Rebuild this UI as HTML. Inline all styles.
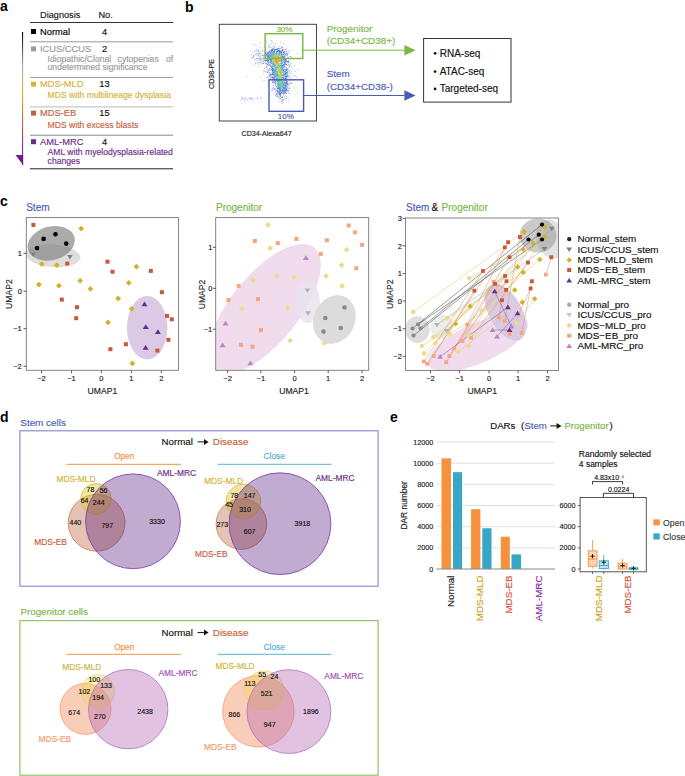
<!DOCTYPE html>
<html><head><meta charset="utf-8"><style>
html,body{margin:0;padding:0;background:#fff;}
svg{display:block;font-family:"Liberation Sans", sans-serif;}
</style></head><body>
<svg width="685" height="776" viewBox="0 0 685 776">
<rect width="685" height="776" fill="#fff"/>
<text x="0.00" y="10.60" font-size="14" fill="#000" text-anchor="start" font-weight="bold" >a</text><text x="40.00" y="18.40" font-size="9.2" fill="#1a1a1a" stroke="#1a1a1a" stroke-width="0.15" text-anchor="start" >Diagnosis</text><text x="98.40" y="18.40" font-size="9.2" fill="#1a1a1a" stroke="#1a1a1a" stroke-width="0.15" text-anchor="start" >No.</text><line x1="30.00" y1="22.50" x2="173.10" y2="22.50" stroke="#333" stroke-width="1" /><line x1="30.00" y1="41.80" x2="173.10" y2="41.80" stroke="#999" stroke-width="1" /><line x1="30.00" y1="77.40" x2="173.10" y2="77.40" stroke="#999" stroke-width="1" /><line x1="30.00" y1="106.90" x2="173.10" y2="106.90" stroke="#bbb" stroke-width="1" /><line x1="30.00" y1="135.20" x2="173.10" y2="135.20" stroke="#888" stroke-width="1" /><line x1="30.00" y1="168.80" x2="173.10" y2="168.80" stroke="#222" stroke-width="1" /><rect x="31.00" y="29.00" width="5.00" height="5.00" fill="#000" stroke="none" stroke-width="1" /><text x="40.00" y="34.60" font-size="9.3" fill="#000" stroke="#000" stroke-width="0.15" text-anchor="start" >Normal</text><text x="104.50" y="34.60" font-size="9.3" fill="#111" stroke="#111" stroke-width="0.15" text-anchor="middle" >4</text><rect x="31.00" y="46.40" width="5.00" height="5.00" fill="#9a9a9a" stroke="none" stroke-width="1" /><text x="40.00" y="52.00" font-size="9.3" fill="#9a9a9a" stroke="#9a9a9a" stroke-width="0.15" text-anchor="start" >ICUS/CCUS</text><text x="104.50" y="52.00" font-size="9.3" fill="#111" stroke="#111" stroke-width="0.15" text-anchor="middle" >2</text><rect x="31.00" y="81.70" width="5.00" height="5.00" fill="#d0b53a" stroke="none" stroke-width="1" /><text x="40.00" y="87.30" font-size="9.3" fill="#d0b53a" stroke="#d0b53a" stroke-width="0.15" text-anchor="start" >MDS-MLD</text><text x="104.50" y="87.30" font-size="9.3" fill="#111" stroke="#111" stroke-width="0.15" text-anchor="middle" >13</text><text x="47.60" y="98.10" font-size="8.6" fill="#d0b53a" stroke="#d0b53a" stroke-width="0.15" text-anchor="start" >MDS with multilineage dysplasia</text><rect x="31.00" y="110.60" width="5.00" height="5.00" fill="#c8603e" stroke="none" stroke-width="1" /><text x="40.00" y="116.20" font-size="9.3" fill="#c8603e" stroke="#c8603e" stroke-width="0.15" text-anchor="start" >MDS-EB</text><text x="104.50" y="116.20" font-size="9.3" fill="#111" stroke="#111" stroke-width="0.15" text-anchor="middle" >15</text><text x="47.60" y="127.90" font-size="8.6" fill="#c8603e" stroke="#c8603e" stroke-width="0.15" text-anchor="start" >MDS with excess blasts</text><rect x="31.00" y="139.20" width="5.00" height="5.00" fill="#6c2c8c" stroke="none" stroke-width="1" /><text x="40.00" y="144.80" font-size="9.3" fill="#6c2c8c" stroke="#6c2c8c" stroke-width="0.15" text-anchor="start" >AML-MRC</text><text x="104.50" y="144.80" font-size="9.3" fill="#111" stroke="#111" stroke-width="0.15" text-anchor="middle" >4</text><text x="47.60" y="155.30" font-size="8.6" fill="#6c2c8c" stroke="#6c2c8c" stroke-width="0.15" text-anchor="start" >AML with myelodysplasia-related</text><text x="47.60" y="163.50" font-size="8.6" fill="#6c2c8c" stroke="#6c2c8c" stroke-width="0.15" text-anchor="start" >changes</text><text x="47.60" y="62.20" font-size="8.6" fill="#9a9a9a" stroke="#9a9a9a" stroke-width="0.15" text-anchor="start" >Idiopathic/Clonal</text><text x="117.60" y="62.20" font-size="8.6" fill="#9a9a9a" stroke="#9a9a9a" stroke-width="0.15" text-anchor="start" >cytopenias</text><text x="173.10" y="62.20" font-size="8.6" fill="#9a9a9a" stroke="#9a9a9a" stroke-width="0.15" text-anchor="end" >of</text><text x="47.60" y="70.40" font-size="8.6" fill="#9a9a9a" stroke="#9a9a9a" stroke-width="0.15" text-anchor="start" >undetermined significance</text><defs><linearGradient id="ga" x1="0" y1="32" x2="0" y2="165" gradientUnits="userSpaceOnUse"><stop offset="0" stop-color="#000"/><stop offset="0.25" stop-color="#aaa"/><stop offset="0.45" stop-color="#d8b030"/><stop offset="0.65" stop-color="#d07040"/><stop offset="0.9" stop-color="#7a2a90"/><stop offset="1" stop-color="#6c1f8a"/></linearGradient></defs><rect x="22.00" y="32.00" width="1.10" height="133.00" fill="url(#ga)" stroke="none" stroke-width="1" /><path d="M15.5 155.1L23.1 155.1L23.1 164.9Z" fill="#6c1f8a" stroke="none" stroke-width="1" /><text x="185.00" y="12.40" font-size="14" fill="#000" text-anchor="start" font-weight="bold" >b</text><g opacity="0.9"><rect x="246.4" y="75.9" width=".7" height=".7" fill="#5a6ed2"/><rect x="297.2" y="53.2" width=".7" height=".7" fill="#5a6ed2"/><rect x="296.9" y="92.0" width=".7" height=".7" fill="#5a6ed2"/><rect x="299.7" y="78.8" width=".7" height=".7" fill="#5269ce"/><rect x="260.4" y="76.7" width=".7" height=".7" fill="#5a6ed2"/><rect x="259.5" y="42.4" width=".7" height=".7" fill="#5a6ed2"/><rect x="297.8" y="69.0" width=".7" height=".7" fill="#5168ce"/><rect x="294.2" y="87.6" width=".7" height=".7" fill="#4e67cd"/><rect x="252.1" y="43.7" width=".7" height=".7" fill="#5a6ed2"/><rect x="280.3" y="41.4" width=".7" height=".7" fill="#5a6ed2"/><rect x="295.2" y="70.8" width=".7" height=".7" fill="#5a6ed2"/><rect x="263.6" y="80.2" width=".7" height=".7" fill="#5a6ed2"/><rect x="294.5" y="65.1" width=".7" height=".7" fill="#5a6ed2"/><rect x="264.8" y="39.8" width=".7" height=".7" fill="#4e66cd"/><rect x="261.3" y="98.6" width=".7" height=".7" fill="#4964cb"/><rect x="296.0" y="77.3" width=".7" height=".7" fill="#5269cf"/><rect x="254.4" y="44.1" width=".7" height=".7" fill="#5a6ed2"/><rect x="255.8" y="44.8" width=".7" height=".7" fill="#556bd0"/><rect x="295.3" y="75.1" width=".7" height=".7" fill="#5a6ed2"/><rect x="260.2" y="98.1" width=".7" height=".7" fill="#5a6ed2"/><rect x="282.8" y="43.2" width=".7" height=".7" fill="#5a6ed2"/><rect x="256.9" y="97.2" width=".7" height=".7" fill="#596dd1"/><rect x="257.3" y="98.2" width=".7" height=".7" fill="#4d66cc"/><rect x="266.3" y="41.0" width=".7" height=".7" fill="#4662ca"/><rect x="275.3" y="43.0" width=".7" height=".7" fill="#576cd1"/><rect x="271.5" y="40.0" width=".7" height=".7" fill="#556bd0"/><rect x="258.1" y="66.5" width=".7" height=".7" fill="#5a6ed2"/><rect x="287.9" y="100.3" width=".7" height=".7" fill="#5a6ed2"/><rect x="254.3" y="64.6" width=".7" height=".7" fill="#4b65cc"/><rect x="267.7" y="83.7" width=".7" height=".7" fill="#4f67cd"/><rect x="270.7" y="40.6" width=".7" height=".7" fill="#5169ce"/><rect x="268.7" y="85.8" width=".7" height=".7" fill="#556bd0"/><rect x="259.8" y="47.5" width=".7" height=".7" fill="#4a64cb"/><rect x="263.4" y="73.4" width=".7" height=".7" fill="#5a6ed2"/><rect x="265.4" y="43.8" width=".7" height=".7" fill="#5a6ed2"/><rect x="252.3" y="99.9" width=".7" height=".7" fill="#405ec7"/><rect x="271.6" y="42.2" width=".7" height=".7" fill="#5a6ed2"/><rect x="253.2" y="98.6" width=".7" height=".7" fill="#546acf"/><rect x="269.2" y="84.9" width=".7" height=".7" fill="#5a6ed2"/><rect x="292.7" y="75.7" width=".7" height=".7" fill="#4b65cc"/><rect x="241.1" y="99.1" width=".7" height=".7" fill="#5a6ed2"/><rect x="290.2" y="93.2" width=".7" height=".7" fill="#5a6ed2"/><rect x="263.0" y="70.6" width=".7" height=".7" fill="#5a6ed2"/><rect x="282.3" y="103.0" width=".7" height=".7" fill="#5168ce"/><rect x="267.6" y="80.5" width=".7" height=".7" fill="#5a6ed2"/><rect x="279.0" y="101.6" width=".7" height=".7" fill="#5a6ed2"/><rect x="289.6" y="50.5" width=".7" height=".7" fill="#596dd1"/><rect x="254.9" y="62.9" width=".7" height=".7" fill="#5a6ed2"/><rect x="250.9" y="57.2" width=".7" height=".7" fill="#5369cf"/><rect x="265.8" y="77.6" width=".7" height=".7" fill="#5a6ed2"/><rect x="292.5" y="79.9" width=".7" height=".7" fill="#5a6ed2"/><rect x="244.5" y="100.1" width=".7" height=".7" fill="#556bd0"/><rect x="251.3" y="54.4" width=".7" height=".7" fill="#546acf"/><rect x="252.7" y="52.4" width=".7" height=".7" fill="#4e67cd"/><rect x="247.0" y="99.4" width=".7" height=".7" fill="#576cd0"/><rect x="251.8" y="97.9" width=".7" height=".7" fill="#5a6ed2"/><rect x="291.2" y="56.7" width=".7" height=".7" fill="#576cd1"/><rect x="248.8" y="99.2" width=".7" height=".7" fill="#576cd0"/><rect x="241.9" y="97.9" width=".7" height=".7" fill="#586cd1"/><rect x="291.7" y="66.9" width=".7" height=".7" fill="#5269cf"/><rect x="287.6" y="97.5" width=".7" height=".7" fill="#596dd1"/><rect x="268.2" y="43.8" width=".7" height=".7" fill="#4d66cc"/><rect x="242.2" y="97.7" width=".7" height=".7" fill="#596dd1"/><rect x="249.0" y="97.4" width=".7" height=".7" fill="#4a64cb"/><rect x="271.3" y="90.6" width=".7" height=".7" fill="#5a6ed2"/><rect x="251.3" y="98.0" width=".7" height=".7" fill="#5a6ed2"/><rect x="245.6" y="97.6" width=".7" height=".7" fill="#5a6ed2"/><rect x="249.9" y="97.6" width=".7" height=".7" fill="#3d5dc6"/><rect x="242.5" y="97.9" width=".7" height=".7" fill="#596dd1"/><rect x="244.1" y="99.5" width=".7" height=".7" fill="#576cd1"/><rect x="270.6" y="43.8" width=".7" height=".7" fill="#546acf"/><rect x="245.5" y="97.9" width=".7" height=".7" fill="#5a6ed2"/><rect x="265.3" y="46.5" width=".7" height=".7" fill="#546acf"/><rect x="263.9" y="71.2" width=".7" height=".7" fill="#556bd0"/><rect x="250.0" y="98.0" width=".7" height=".7" fill="#4460c9"/><rect x="254.6" y="50.4" width=".7" height=".7" fill="#4b65cc"/><rect x="243.6" y="97.8" width=".7" height=".7" fill="#536acf"/><rect x="262.0" y="49.6" width=".7" height=".7" fill="#5068ce"/><rect x="255.6" y="62.0" width=".7" height=".7" fill="#5068ce"/><rect x="264.3" y="68.1" width=".7" height=".7" fill="#5a6ed2"/><rect x="252.3" y="57.6" width=".7" height=".7" fill="#4c65cc"/><rect x="288.6" y="50.2" width=".7" height=".7" fill="#5a6ed2"/><rect x="256.1" y="49.5" width=".7" height=".7" fill="#4e67cd"/><rect x="257.3" y="63.5" width=".7" height=".7" fill="#546acf"/><rect x="254.5" y="51.2" width=".7" height=".7" fill="#4d66cd"/><rect x="265.3" y="47.5" width=".7" height=".7" fill="#4963cb"/><rect x="254.4" y="59.2" width=".7" height=".7" fill="#5068ce"/><rect x="265.6" y="47.4" width=".7" height=".7" fill="#596dd1"/><rect x="258.8" y="64.0" width=".7" height=".7" fill="#586cd1"/><rect x="256.6" y="49.7" width=".7" height=".7" fill="#5068ce"/><rect x="286.2" y="97.9" width=".7" height=".7" fill="#586dd1"/><rect x="252.8" y="57.1" width=".7" height=".7" fill="#586dd1"/><rect x="282.1" y="101.5" width=".7" height=".7" fill="#566bd0"/><rect x="271.7" y="89.3" width=".7" height=".7" fill="#586cd1"/><rect x="290.7" y="60.1" width=".7" height=".7" fill="#5068ce"/><rect x="253.0" y="55.2" width=".7" height=".7" fill="#586dd1"/><rect x="267.0" y="77.2" width=".7" height=".7" fill="#546acf"/><rect x="255.6" y="59.8" width=".7" height=".7" fill="#5a6ed2"/><rect x="253.0" y="56.2" width=".7" height=".7" fill="#5a6ed2"/><rect x="267.8" y="46.1" width=".7" height=".7" fill="#4d66cd"/><rect x="285.6" y="98.3" width=".7" height=".7" fill="#4c65cc"/><rect x="290.8" y="73.7" width=".7" height=".7" fill="#596dd1"/><rect x="253.4" y="55.2" width=".7" height=".7" fill="#4d66cd"/><rect x="268.8" y="45.6" width=".7" height=".7" fill="#5169ce"/><rect x="253.3" y="56.4" width=".7" height=".7" fill="#5a6ed2"/><rect x="289.9" y="56.2" width=".7" height=".7" fill="#4a64cb"/><rect x="262.7" y="50.4" width=".7" height=".7" fill="#5a6ed2"/><rect x="291.3" y="82.6" width=".7" height=".7" fill="#546acf"/><rect x="272.1" y="88.0" width=".7" height=".7" fill="#4d66cd"/><rect x="255.9" y="58.5" width=".7" height=".7" fill="#5a6ed2"/><rect x="255.9" y="58.3" width=".7" height=".7" fill="#4662ca"/><rect x="258.6" y="50.4" width=".7" height=".7" fill="#596dd1"/><rect x="291.1" y="83.2" width=".7" height=".7" fill="#4863cb"/><rect x="286.3" y="48.8" width=".7" height=".7" fill="#556bd0"/><rect x="269.1" y="45.9" width=".7" height=".7" fill="#4d66cd"/><rect x="289.7" y="56.2" width=".7" height=".7" fill="#546acf"/><rect x="255.0" y="54.0" width=".7" height=".7" fill="#3e5dc7"/><rect x="265.5" y="71.1" width=".7" height=".7" fill="#4f67cd"/><rect x="284.6" y="98.9" width=".7" height=".7" fill="#4a64cb"/><rect x="290.5" y="63.1" width=".7" height=".7" fill="#4d66cc"/><rect x="281.8" y="100.8" width=".7" height=".7" fill="#5168ce"/><rect x="281.1" y="100.7" width=".7" height=".7" fill="#556bd0"/><rect x="261.5" y="63.7" width=".7" height=".7" fill="#4f67cd"/><rect x="259.8" y="51.2" width=".7" height=".7" fill="#4a64cb"/><rect x="258.1" y="50.7" width=".7" height=".7" fill="#4b65cc"/><rect x="257.9" y="50.7" width=".7" height=".7" fill="#4e66cd"/><rect x="257.3" y="60.7" width=".7" height=".7" fill="#536acf"/><rect x="290.5" y="78.5" width=".7" height=".7" fill="#4c65cc"/><rect x="288.3" y="93.2" width=".7" height=".7" fill="#5a6ed2"/><rect x="286.0" y="96.1" width=".7" height=".7" fill="#5269cf"/><rect x="255.9" y="54.6" width=".7" height=".7" fill="#5a6ed2"/><rect x="274.9" y="95.1" width=".7" height=".7" fill="#586dd1"/><rect x="290.2" y="72.4" width=".7" height=".7" fill="#536acf"/><rect x="257.4" y="51.2" width=".7" height=".7" fill="#5a6ed2"/><rect x="288.4" y="52.5" width=".7" height=".7" fill="#5a6ed2"/><rect x="273.8" y="92.5" width=".7" height=".7" fill="#4964cb"/><rect x="259.3" y="62.5" width=".7" height=".7" fill="#4d66cd"/><rect x="272.7" y="89.7" width=".7" height=".7" fill="#4863ca"/><rect x="258.4" y="61.7" width=".7" height=".7" fill="#4762ca"/><rect x="290.4" y="84.8" width=".7" height=".7" fill="#4c65cc"/><rect x="256.4" y="53.0" width=".7" height=".7" fill="#4a64cb"/><rect x="290.7" y="83.1" width=".7" height=".7" fill="#4f67cd"/><rect x="273.0" y="45.7" width=".7" height=".7" fill="#4662ca"/><rect x="276.0" y="96.4" width=".7" height=".7" fill="#5a6ed2"/><rect x="290.0" y="64.1" width=".7" height=".7" fill="#5269cf"/><rect x="260.8" y="62.8" width=".7" height=".7" fill="#4863ca"/><rect x="282.6" y="99.9" width=".7" height=".7" fill="#4964cb"/><rect x="265.0" y="49.8" width=".7" height=".7" fill="#5068ce"/><rect x="279.3" y="46.1" width=".7" height=".7" fill="#546acf"/><rect x="257.1" y="52.9" width=".7" height=".7" fill="#4964cb"/><rect x="260.9" y="52.7" width=".7" height=".7" fill="#5269cf"/><rect x="257.7" y="55.5" width=".7" height=".7" fill="#5a6ed2"/><rect x="290.1" y="79.0" width=".7" height=".7" fill="#4662ca"/><rect x="289.4" y="66.8" width=".7" height=".7" fill="#546acf"/><rect x="266.3" y="69.2" width=".7" height=".7" fill="#4f67cd"/><rect x="259.8" y="62.1" width=".7" height=".7" fill="#5a6ed2"/><rect x="259.8" y="52.8" width=".7" height=".7" fill="#5a6ed2"/><rect x="266.8" y="72.3" width=".7" height=".7" fill="#4c66cc"/><rect x="258.0" y="55.1" width=".7" height=".7" fill="#425fc8"/><rect x="289.6" y="87.9" width=".7" height=".7" fill="#5a6ed2"/><rect x="257.7" y="53.3" width=".7" height=".7" fill="#546acf"/><rect x="289.4" y="66.4" width=".7" height=".7" fill="#4b65cc"/><rect x="280.6" y="46.4" width=".7" height=".7" fill="#4e67cd"/><rect x="258.1" y="58.8" width=".7" height=".7" fill="#4f67cd"/><rect x="258.1" y="54.3" width=".7" height=".7" fill="#5068ce"/><rect x="289.7" y="70.8" width=".7" height=".7" fill="#586dd1"/><rect x="277.5" y="97.5" width=".7" height=".7" fill="#4662ca"/><rect x="265.5" y="49.7" width=".7" height=".7" fill="#4762ca"/><rect x="259.6" y="53.2" width=".7" height=".7" fill="#4c66cc"/><rect x="268.1" y="76.9" width=".7" height=".7" fill="#5a6ed2"/><rect x="266.8" y="71.7" width=".7" height=".7" fill="#415fc8"/><rect x="283.0" y="99.1" width=".7" height=".7" fill="#5068ce"/><rect x="258.2" y="57.9" width=".7" height=".7" fill="#4b65cc"/><rect x="259.3" y="53.5" width=".7" height=".7" fill="#3e5dc7"/><rect x="267.0" y="72.1" width=".7" height=".7" fill="#4460c9"/><rect x="262.5" y="63.0" width=".7" height=".7" fill="#5068ce"/><rect x="259.8" y="61.5" width=".7" height=".7" fill="#4662ca"/><rect x="289.3" y="65.4" width=".7" height=".7" fill="#4a64cb"/><rect x="289.8" y="76.5" width=".7" height=".7" fill="#546acf"/><rect x="266.6" y="67.5" width=".7" height=".7" fill="#4e66cd"/><rect x="266.2" y="66.5" width=".7" height=".7" fill="#5a6ed2"/><rect x="281.6" y="99.5" width=".7" height=".7" fill="#5a6ed2"/><rect x="285.9" y="49.6" width=".7" height=".7" fill="#4d66cc"/><rect x="289.4" y="65.0" width=".7" height=".7" fill="#4260c8"/><rect x="273.2" y="87.1" width=".7" height=".7" fill="#576cd1"/><rect x="268.7" y="47.6" width=".7" height=".7" fill="#4461c9"/><rect x="279.7" y="98.8" width=".7" height=".7" fill="#4d66cd"/><rect x="263.2" y="63.2" width=".7" height=".7" fill="#3f5dc7"/><rect x="284.2" y="96.7" width=".7" height=".7" fill="#5169ce"/><rect x="259.4" y="56.4" width=".7" height=".7" fill="#3457c3"/><rect x="282.4" y="47.2" width=".7" height=".7" fill="#4a64cb"/><rect x="266.2" y="66.1" width=".7" height=".7" fill="#5068ce"/><rect x="281.6" y="46.9" width=".7" height=".7" fill="#4c65cc"/><rect x="259.1" y="58.3" width=".7" height=".7" fill="#5a6ed2"/><rect x="285.2" y="95.4" width=".7" height=".7" fill="#4b65cc"/><rect x="282.0" y="99.0" width=".7" height=".7" fill="#5168ce"/><rect x="260.5" y="55.2" width=".7" height=".7" fill="#4964cb"/><rect x="288.4" y="56.8" width=".7" height=".7" fill="#5168ce"/><rect x="262.8" y="62.6" width=".7" height=".7" fill="#5a6ed2"/><rect x="259.8" y="60.0" width=".7" height=".7" fill="#5a6ed2"/><rect x="259.6" y="58.0" width=".7" height=".7" fill="#536acf"/><rect x="287.7" y="53.8" width=".7" height=".7" fill="#596dd1"/><rect x="278.9" y="97.9" width=".7" height=".7" fill="#4662ca"/><rect x="267.1" y="67.9" width=".7" height=".7" fill="#576cd0"/><rect x="260.0" y="59.8" width=".7" height=".7" fill="#4964cb"/><rect x="260.2" y="57.3" width=".7" height=".7" fill="#4f67cd"/><rect x="267.6" y="70.8" width=".7" height=".7" fill="#405ec7"/><rect x="285.1" y="49.4" width=".7" height=".7" fill="#4c66cc"/><rect x="288.5" y="65.7" width=".7" height=".7" fill="#4b65cc"/><rect x="273.7" y="88.7" width=".7" height=".7" fill="#566bd0"/><rect x="288.9" y="70.2" width=".7" height=".7" fill="#4a64cb"/><rect x="288.7" y="89.9" width=".7" height=".7" fill="#4762ca"/><rect x="260.6" y="59.5" width=".7" height=".7" fill="#4e67cd"/><rect x="280.5" y="98.3" width=".7" height=".7" fill="#4762ca"/><rect x="262.0" y="61.2" width=".7" height=".7" fill="#566bd0"/><rect x="281.7" y="47.4" width=".7" height=".7" fill="#4f67cd"/><rect x="270.1" y="47.4" width=".7" height=".7" fill="#4964cb"/><rect x="267.7" y="70.4" width=".7" height=".7" fill="#4f67cd"/><rect x="260.7" y="58.6" width=".7" height=".7" fill="#425fc8"/><rect x="273.6" y="85.1" width=".7" height=".7" fill="#4762ca"/><rect x="270.6" y="79.5" width=".7" height=".7" fill="#5269ce"/><rect x="272.1" y="82.2" width=".7" height=".7" fill="#556bd0"/><rect x="289.3" y="80.5" width=".7" height=".7" fill="#4d66cc"/><rect x="273.9" y="88.6" width=".7" height=".7" fill="#5369cf"/><rect x="262.2" y="54.7" width=".7" height=".7" fill="#5068ce"/><rect x="288.4" y="68.6" width=".7" height=".7" fill="#566bd0"/><rect x="286.2" y="51.1" width=".7" height=".7" fill="#4561c9"/><rect x="261.1" y="58.8" width=".7" height=".7" fill="#4b65cc"/><rect x="288.8" y="88.4" width=".7" height=".7" fill="#4964cb"/><rect x="287.0" y="53.1" width=".7" height=".7" fill="#4561c9"/><rect x="289.2" y="80.2" width=".7" height=".7" fill="#5a6ed2"/><rect x="284.6" y="49.4" width=".7" height=".7" fill="#4c65cc"/><rect x="274.4" y="46.8" width=".7" height=".7" fill="#4e67cd"/><rect x="282.3" y="97.3" width=".7" height=".7" fill="#4662ca"/><rect x="289.4" y="83.0" width=".7" height=".7" fill="#4763ca"/><rect x="279.8" y="97.6" width=".7" height=".7" fill="#4762ca"/><rect x="282.1" y="97.3" width=".7" height=".7" fill="#405ec7"/><rect x="287.2" y="54.1" width=".7" height=".7" fill="#5a6ed2"/><rect x="262.2" y="55.3" width=".7" height=".7" fill="#556bd0"/><rect x="276.9" y="95.6" width=".7" height=".7" fill="#415fc8"/><rect x="274.1" y="46.9" width=".7" height=".7" fill="#3f5dc7"/><rect x="289.0" y="79.9" width=".7" height=".7" fill="#5269cf"/><rect x="281.8" y="97.4" width=".7" height=".7" fill="#415fc8"/><rect x="281.7" y="47.7" width=".7" height=".7" fill="#4460c9"/><rect x="270.0" y="78.2" width=".7" height=".7" fill="#576cd1"/><rect x="288.1" y="58.3" width=".7" height=".7" fill="#5068ce"/><rect x="268.8" y="75.4" width=".7" height=".7" fill="#4863cb"/><rect x="268.9" y="76.0" width=".7" height=".7" fill="#4c65cc"/><rect x="263.2" y="61.4" width=".7" height=".7" fill="#3b5bc5"/><rect x="286.5" y="52.2" width=".7" height=".7" fill="#4662ca"/><rect x="276.1" y="94.5" width=".7" height=".7" fill="#4360c8"/><rect x="287.7" y="57.2" width=".7" height=".7" fill="#5068ce"/><rect x="271.6" y="47.2" width=".7" height=".7" fill="#556bd0"/><rect x="268.6" y="74.2" width=".7" height=".7" fill="#5068ce"/><rect x="288.9" y="75.3" width=".7" height=".7" fill="#3e5dc7"/><rect x="261.9" y="57.9" width=".7" height=".7" fill="#3a5bc5"/><rect x="281.0" y="97.3" width=".7" height=".7" fill="#5269ce"/><rect x="277.3" y="95.7" width=".7" height=".7" fill="#4c65cc"/><rect x="286.4" y="93.1" width=".7" height=".7" fill="#5a6ed2"/><rect x="288.6" y="62.3" width=".7" height=".7" fill="#3f5ec7"/><rect x="268.3" y="70.1" width=".7" height=".7" fill="#556bd0"/><rect x="265.7" y="63.6" width=".7" height=".7" fill="#4260c8"/><rect x="278.1" y="96.3" width=".7" height=".7" fill="#3f5dc7"/><rect x="281.6" y="96.9" width=".7" height=".7" fill="#566bd0"/><rect x="262.9" y="54.9" width=".7" height=".7" fill="#5269ce"/><rect x="272.8" y="82.5" width=".7" height=".7" fill="#4460c9"/><rect x="283.3" y="95.4" width=".7" height=".7" fill="#3e5dc6"/><rect x="272.6" y="82.0" width=".7" height=".7" fill="#4e67cd"/><rect x="270.0" y="77.6" width=".7" height=".7" fill="#536acf"/><rect x="288.2" y="89.8" width=".7" height=".7" fill="#4762ca"/><rect x="287.8" y="91.0" width=".7" height=".7" fill="#3f5dc7"/><rect x="288.5" y="87.7" width=".7" height=".7" fill="#536acf"/><rect x="273.4" y="83.3" width=".7" height=".7" fill="#5068ce"/><rect x="272.2" y="81.3" width=".7" height=".7" fill="#3f5ec7"/><rect x="287.6" y="58.0" width=".7" height=".7" fill="#4863ca"/><rect x="288.2" y="59.8" width=".7" height=".7" fill="#5168ce"/><rect x="274.5" y="88.5" width=".7" height=".7" fill="#4964cb"/><rect x="288.6" y="86.5" width=".7" height=".7" fill="#4561c9"/><rect x="265.1" y="62.9" width=".7" height=".7" fill="#405ec7"/><rect x="288.6" y="76.8" width=".7" height=".7" fill="#4762ca"/><rect x="262.5" y="56.8" width=".7" height=".7" fill="#4964cb"/><rect x="287.4" y="65.4" width=".7" height=".7" fill="#586cd1"/><rect x="286.3" y="92.9" width=".7" height=".7" fill="#4461c9"/><rect x="268.6" y="69.6" width=".7" height=".7" fill="#4461c9"/><rect x="286.8" y="55.4" width=".7" height=".7" fill="#4762ca"/><rect x="274.6" y="88.9" width=".7" height=".7" fill="#4963cb"/><rect x="276.4" y="94.2" width=".7" height=".7" fill="#4863ca"/><rect x="287.9" y="63.9" width=".7" height=".7" fill="#405ec7"/><rect x="286.3" y="53.0" width=".7" height=".7" fill="#4c65cc"/><rect x="288.2" y="70.7" width=".7" height=".7" fill="#536acf"/><rect x="282.0" y="96.1" width=".7" height=".7" fill="#415fc8"/><rect x="285.4" y="51.2" width=".7" height=".7" fill="#4c65cc"/><rect x="265.5" y="63.1" width=".7" height=".7" fill="#4b65cc"/><rect x="264.0" y="53.4" width=".7" height=".7" fill="#4561c9"/><rect x="264.9" y="52.3" width=".7" height=".7" fill="#4b65cc"/><rect x="269.5" y="76.1" width=".7" height=".7" fill="#4964cb"/><rect x="275.1" y="90.6" width=".7" height=".7" fill="#5269ce"/><rect x="263.2" y="59.8" width=".7" height=".7" fill="#3d5cc6"/><rect x="276.2" y="93.6" width=".7" height=".7" fill="#546acf"/><rect x="263.0" y="59.1" width=".7" height=".7" fill="#3c5cc6"/><rect x="288.2" y="61.1" width=".7" height=".7" fill="#536acf"/><rect x="269.2" y="73.6" width=".7" height=".7" fill="#4e67cd"/><rect x="286.6" y="55.5" width=".7" height=".7" fill="#4c65cc"/><rect x="269.1" y="71.9" width=".7" height=".7" fill="#405ec7"/><rect x="266.5" y="63.7" width=".7" height=".7" fill="#4662ca"/><rect x="267.7" y="65.1" width=".7" height=".7" fill="#4c65cc"/><rect x="286.4" y="54.4" width=".7" height=".7" fill="#5369cf"/><rect x="266.0" y="51.5" width=".7" height=".7" fill="#3f5dc7"/><rect x="288.7" y="82.9" width=".7" height=".7" fill="#4763ca"/><rect x="287.3" y="58.4" width=".7" height=".7" fill="#4460c9"/><rect x="269.3" y="73.5" width=".7" height=".7" fill="#4964cb"/><rect x="288.1" y="60.9" width=".7" height=".7" fill="#4c65cc"/><rect x="267.8" y="65.0" width=".7" height=".7" fill="#415fc8"/><rect x="269.5" y="75.2" width=".7" height=".7" fill="#4561c9"/><rect x="288.1" y="61.3" width=".7" height=".7" fill="#3d5cc6"/><rect x="263.5" y="55.3" width=".7" height=".7" fill="#4561c9"/><rect x="283.2" y="49.4" width=".7" height=".7" fill="#536acf"/><rect x="288.2" y="72.9" width=".7" height=".7" fill="#405ec7"/><rect x="263.3" y="57.8" width=".7" height=".7" fill="#4662ca"/><rect x="285.0" y="93.5" width=".7" height=".7" fill="#4964cb"/><rect x="263.5" y="55.9" width=".7" height=".7" fill="#5a6ed2"/><rect x="279.7" y="96.2" width=".7" height=".7" fill="#4e67cd"/><rect x="287.9" y="62.1" width=".7" height=".7" fill="#4561c9"/><rect x="275.0" y="88.5" width=".7" height=".7" fill="#4c65cc"/><rect x="280.0" y="96.1" width=".7" height=".7" fill="#4461c9"/><rect x="264.0" y="60.1" width=".7" height=".7" fill="#415fc8"/><rect x="275.5" y="90.7" width=".7" height=".7" fill="#4762ca"/><rect x="272.0" y="79.7" width=".7" height=".7" fill="#4f67cd"/><rect x="287.2" y="68.8" width=".7" height=".7" fill="#4360c8"/><rect x="269.1" y="68.7" width=".7" height=".7" fill="#4360c9"/><rect x="287.4" y="69.4" width=".7" height=".7" fill="#4863cb"/><rect x="287.7" y="62.3" width=".7" height=".7" fill="#576cd0"/><rect x="263.8" y="55.4" width=".7" height=".7" fill="#5168ce"/><rect x="267.2" y="63.9" width=".7" height=".7" fill="#3f5ec7"/><rect x="265.7" y="52.1" width=".7" height=".7" fill="#4863cb"/><rect x="287.6" y="62.8" width=".7" height=".7" fill="#566bd0"/><rect x="287.7" y="60.8" width=".7" height=".7" fill="#4763ca"/><rect x="278.5" y="47.9" width=".7" height=".7" fill="#4561c9"/><rect x="267.5" y="64.1" width=".7" height=".7" fill="#405ec7"/><rect x="280.1" y="48.2" width=".7" height=".7" fill="#425fc8"/><rect x="276.9" y="47.9" width=".7" height=".7" fill="#4260c8"/><rect x="273.1" y="81.2" width=".7" height=".7" fill="#4c66cc"/><rect x="276.3" y="92.8" width=".7" height=".7" fill="#546acf"/><rect x="271.8" y="48.1" width=".7" height=".7" fill="#4b65cc"/><rect x="288.3" y="83.9" width=".7" height=".7" fill="#395ac5"/><rect x="286.8" y="68.3" width=".7" height=".7" fill="#5369cf"/><rect x="266.2" y="62.7" width=".7" height=".7" fill="#3e5dc6"/><rect x="269.8" y="74.5" width=".7" height=".7" fill="#5269cf"/><rect x="264.2" y="54.9" width=".7" height=".7" fill="#5168ce"/><rect x="281.7" y="48.9" width=".7" height=".7" fill="#4461c9"/><rect x="273.8" y="82.4" width=".7" height=".7" fill="#4c66cc"/><rect x="263.9" y="58.0" width=".7" height=".7" fill="#4763ca"/><rect x="264.9" y="53.3" width=".7" height=".7" fill="#4f67cd"/><rect x="265.3" y="52.8" width=".7" height=".7" fill="#4461c9"/><rect x="270.8" y="77.1" width=".7" height=".7" fill="#3e5dc6"/><rect x="279.9" y="95.6" width=".7" height=".7" fill="#5269ce"/><rect x="286.3" y="67.6" width=".7" height=".7" fill="#405ec7"/><rect x="276.6" y="93.0" width=".7" height=".7" fill="#425fc8"/><rect x="264.9" y="60.7" width=".7" height=".7" fill="#3e5dc6"/><rect x="284.3" y="51.1" width=".7" height=".7" fill="#596dd1"/><rect x="287.8" y="76.6" width=".7" height=".7" fill="#3d5cc6"/><rect x="285.6" y="54.0" width=".7" height=".7" fill="#4f67cd"/><rect x="274.7" y="84.0" width=".7" height=".7" fill="#4762ca"/><rect x="277.3" y="94.0" width=".7" height=".7" fill="#4863cb"/><rect x="272.7" y="48.2" width=".7" height=".7" fill="#4d66cd"/><rect x="265.5" y="52.8" width=".7" height=".7" fill="#4c65cc"/><rect x="273.6" y="48.1" width=".7" height=".7" fill="#4b65cc"/><rect x="287.7" y="73.0" width=".7" height=".7" fill="#4360c8"/><rect x="287.8" y="75.3" width=".7" height=".7" fill="#3e5dc6"/><rect x="269.5" y="68.8" width=".7" height=".7" fill="#4762ca"/><rect x="270.7" y="76.6" width=".7" height=".7" fill="#3d5dc6"/><rect x="282.7" y="49.7" width=".7" height=".7" fill="#4360c8"/><rect x="268.2" y="64.3" width=".7" height=".7" fill="#3a5bc5"/><rect x="285.7" y="55.5" width=".7" height=".7" fill="#5068ce"/><rect x="265.3" y="61.0" width=".7" height=".7" fill="#4360c8"/><rect x="275.8" y="90.1" width=".7" height=".7" fill="#4461c9"/><rect x="264.5" y="58.9" width=".7" height=".7" fill="#4360c8"/><rect x="269.4" y="49.9" width=".7" height=".7" fill="#415fc8"/><rect x="282.0" y="49.3" width=".7" height=".7" fill="#3d5cc6"/><rect x="264.4" y="58.3" width=".7" height=".7" fill="#4260c8"/><rect x="272.0" y="78.6" width=".7" height=".7" fill="#3f5ec7"/><rect x="265.1" y="60.4" width=".7" height=".7" fill="#4662ca"/><rect x="287.0" y="90.2" width=".7" height=".7" fill="#4561c9"/><rect x="284.5" y="52.0" width=".7" height=".7" fill="#4964cb"/><rect x="277.5" y="48.3" width=".7" height=".7" fill="#3a5bc5"/><rect x="269.7" y="68.4" width=".7" height=".7" fill="#3c5cc6"/><rect x="268.8" y="50.4" width=".7" height=".7" fill="#3859c4"/><rect x="271.2" y="48.9" width=".7" height=".7" fill="#4763ca"/><rect x="270.4" y="75.0" width=".7" height=".7" fill="#4561c9"/><rect x="287.1" y="61.2" width=".7" height=".7" fill="#2e53c0"/><rect x="279.4" y="95.1" width=".7" height=".7" fill="#3a5ac5"/><rect x="286.6" y="91.0" width=".7" height=".7" fill="#5068ce"/><rect x="275.2" y="84.6" width=".7" height=".7" fill="#3d5cc6"/><rect x="285.1" y="92.5" width=".7" height=".7" fill="#405ec7"/><rect x="286.2" y="64.3" width=".7" height=".7" fill="#4662ca"/><rect x="287.0" y="60.9" width=".7" height=".7" fill="#4561c9"/><rect x="285.8" y="67.1" width=".7" height=".7" fill="#4a64cb"/><rect x="265.3" y="60.4" width=".7" height=".7" fill="#4763ca"/><rect x="270.2" y="72.8" width=".7" height=".7" fill="#4964cb"/><rect x="287.7" y="85.1" width=".7" height=".7" fill="#4d66cc"/><rect x="280.3" y="95.0" width=".7" height=".7" fill="#4662ca"/><rect x="287.3" y="78.6" width=".7" height=".7" fill="#4a64cb"/><rect x="286.8" y="90.4" width=".7" height=".7" fill="#3c5cc6"/><rect x="274.4" y="82.4" width=".7" height=".7" fill="#395ac5"/><rect x="284.2" y="93.0" width=".7" height=".7" fill="#4460c9"/><rect x="286.8" y="70.2" width=".7" height=".7" fill="#4561c9"/><rect x="286.6" y="69.8" width=".7" height=".7" fill="#3d5cc6"/><rect x="270.5" y="74.1" width=".7" height=".7" fill="#4360c9"/><rect x="287.1" y="71.5" width=".7" height=".7" fill="#3055c1"/><rect x="274.0" y="81.6" width=".7" height=".7" fill="#596dd1"/><rect x="284.9" y="53.7" width=".7" height=".7" fill="#566cd0"/><rect x="268.6" y="50.9" width=".7" height=".7" fill="#4b65cc"/><rect x="269.4" y="65.3" width=".7" height=".7" fill="#3e5dc6"/><rect x="282.9" y="93.6" width=".7" height=".7" fill="#3b5bc5"/><rect x="277.6" y="48.5" width=".7" height=".7" fill="#4662ca"/><rect x="264.8" y="57.9" width=".7" height=".7" fill="#415fc8"/><rect x="278.8" y="48.6" width=".7" height=".7" fill="#4461c9"/><rect x="272.6" y="78.9" width=".7" height=".7" fill="#3d5cc6"/><rect x="278.5" y="48.6" width=".7" height=".7" fill="#3054c1"/><rect x="272.0" y="48.8" width=".7" height=".7" fill="#556bd0"/><rect x="273.6" y="48.6" width=".7" height=".7" fill="#2e53c0"/><rect x="285.9" y="64.4" width=".7" height=".7" fill="#3859c4"/><rect x="286.8" y="61.4" width=".7" height=".7" fill="#4460c9"/><rect x="277.8" y="93.7" width=".7" height=".7" fill="#3d5cc6"/><rect x="274.2" y="81.7" width=".7" height=".7" fill="#415fc8"/><rect x="286.2" y="69.1" width=".7" height=".7" fill="#3d5cc6"/><rect x="265.5" y="60.1" width=".7" height=".7" fill="#3d5cc6"/><rect x="283.5" y="51.2" width=".7" height=".7" fill="#3a5bc5"/><rect x="284.6" y="53.3" width=".7" height=".7" fill="#4964cb"/><rect x="278.9" y="48.7" width=".7" height=".7" fill="#3b5bc5"/><rect x="285.9" y="63.9" width=".7" height=".7" fill="#4662ca"/><rect x="267.2" y="52.1" width=".7" height=".7" fill="#4360c9"/><rect x="287.6" y="82.7" width=".7" height=".7" fill="#395ac5"/><rect x="272.2" y="48.9" width=".7" height=".7" fill="#4461c9"/><rect x="267.5" y="62.6" width=".7" height=".7" fill="#3e5dc6"/><rect x="272.7" y="78.8" width=".7" height=".7" fill="#3d5dc6"/><rect x="280.3" y="94.6" width=".7" height=".7" fill="#3f5ec7"/><rect x="269.8" y="65.7" width=".7" height=".7" fill="#4b65cc"/><rect x="268.1" y="63.1" width=".7" height=".7" fill="#3c5cc6"/><rect x="287.4" y="81.4" width=".7" height=".7" fill="#3e5dc7"/><rect x="283.9" y="51.9" width=".7" height=".7" fill="#2c52bf"/><rect x="287.2" y="76.5" width=".7" height=".7" fill="#4964cb"/><rect x="270.1" y="67.7" width=".7" height=".7" fill="#3759c4"/><rect x="287.3" y="75.3" width=".7" height=".7" fill="#4360c9"/><rect x="282.7" y="50.5" width=".7" height=".7" fill="#4260c8"/><rect x="270.3" y="70.3" width=".7" height=".7" fill="#3155c1"/><rect x="275.8" y="85.9" width=".7" height=".7" fill="#415fc8"/><rect x="269.3" y="64.6" width=".7" height=".7" fill="#385ac4"/><rect x="286.1" y="69.2" width=".7" height=".7" fill="#3e5dc7"/><rect x="287.2" y="73.9" width=".7" height=".7" fill="#4763ca"/><rect x="275.7" y="48.7" width=".7" height=".7" fill="#415fc8"/><rect x="287.0" y="72.2" width=".7" height=".7" fill="#4360c8"/><rect x="285.5" y="64.6" width=".7" height=".7" fill="#415fc8"/><rect x="285.4" y="91.8" width=".7" height=".7" fill="#2f54c0"/><rect x="280.1" y="94.4" width=".7" height=".7" fill="#3b5bc5"/><rect x="285.8" y="68.7" width=".7" height=".7" fill="#4e67cd"/><rect x="284.8" y="54.4" width=".7" height=".7" fill="#2e54c0"/><rect x="286.9" y="71.7" width=".7" height=".7" fill="#3b5bc5"/><rect x="287.1" y="76.5" width=".7" height=".7" fill="#3759c4"/><rect x="265.2" y="55.8" width=".7" height=".7" fill="#3155c1"/><rect x="285.3" y="91.8" width=".7" height=".7" fill="#4662ca"/><rect x="277.2" y="92.4" width=".7" height=".7" fill="#3c5cc6"/><rect x="270.0" y="65.8" width=".7" height=".7" fill="#405ec7"/><rect x="271.9" y="77.0" width=".7" height=".7" fill="#415fc8"/><rect x="276.6" y="90.7" width=".7" height=".7" fill="#415fc8"/><rect x="265.3" y="56.8" width=".7" height=".7" fill="#3d5dc6"/><rect x="265.3" y="57.1" width=".7" height=".7" fill="#3457c2"/><rect x="265.4" y="58.2" width=".7" height=".7" fill="#3759c4"/><rect x="281.7" y="49.9" width=".7" height=".7" fill="#3c5cc6"/><rect x="273.7" y="80.0" width=".7" height=".7" fill="#3357c2"/><rect x="275.0" y="82.6" width=".7" height=".7" fill="#5269cf"/><rect x="284.2" y="53.2" width=".7" height=".7" fill="#3e5dc6"/><rect x="266.1" y="60.2" width=".7" height=".7" fill="#3b5bc5"/><rect x="266.7" y="52.8" width=".7" height=".7" fill="#3b5bc5"/><rect x="265.6" y="58.7" width=".7" height=".7" fill="#3155c1"/><rect x="266.2" y="60.4" width=".7" height=".7" fill="#3c5cc6"/><rect x="265.6" y="58.5" width=".7" height=".7" fill="#3256c2"/><rect x="286.2" y="69.9" width=".7" height=".7" fill="#3f5ec7"/><rect x="282.1" y="50.3" width=".7" height=".7" fill="#3759c4"/><rect x="265.9" y="53.9" width=".7" height=".7" fill="#3c5cc6"/><rect x="279.2" y="94.1" width=".7" height=".7" fill="#3f5ec7"/><rect x="275.9" y="48.9" width=".7" height=".7" fill="#395ac4"/><rect x="270.9" y="72.6" width=".7" height=".7" fill="#3859c4"/><rect x="287.3" y="83.0" width=".7" height=".7" fill="#4561c9"/><rect x="272.7" y="78.1" width=".7" height=".7" fill="#3557c3"/><rect x="266.5" y="53.2" width=".7" height=".7" fill="#3f5ec7"/><rect x="271.3" y="75.0" width=".7" height=".7" fill="#3c5cc6"/><rect x="286.2" y="61.5" width=".7" height=".7" fill="#546acf"/><rect x="286.1" y="60.9" width=".7" height=".7" fill="#3d5cc6"/><rect x="286.0" y="60.1" width=".7" height=".7" fill="#4d66cd"/><rect x="265.5" y="55.6" width=".7" height=".7" fill="#3558c3"/><rect x="286.9" y="87.4" width=".7" height=".7" fill="#4360c9"/><rect x="265.7" y="54.9" width=".7" height=".7" fill="#405ec7"/><rect x="286.8" y="79.6" width=".7" height=".7" fill="#3e5dc7"/><rect x="285.5" y="63.6" width=".7" height=".7" fill="#4863cb"/><rect x="272.1" y="49.3" width=".7" height=".7" fill="#3c5cc6"/><rect x="265.9" y="54.3" width=".7" height=".7" fill="#4762ca"/><rect x="273.1" y="49.1" width=".7" height=".7" fill="#3e5dc7"/><rect x="286.0" y="60.2" width=".7" height=".7" fill="#3557c3"/><rect x="278.6" y="93.6" width=".7" height=".7" fill="#3155c1"/><rect x="272.4" y="77.4" width=".7" height=".7" fill="#3054c1"/><rect x="283.2" y="92.7" width=".7" height=".7" fill="#3e5dc7"/><rect x="276.5" y="49.0" width=".7" height=".7" fill="#4461c9"/><rect x="286.6" y="88.9" width=".7" height=".7" fill="#3859c4"/><rect x="268.0" y="52.0" width=".7" height=".7" fill="#2e54c0"/><rect x="285.5" y="58.7" width=".7" height=".7" fill="#4360c9"/><rect x="286.8" y="87.8" width=".7" height=".7" fill="#3055c1"/><rect x="279.8" y="94.0" width=".7" height=".7" fill="#3d5cc6"/><rect x="269.2" y="51.1" width=".7" height=".7" fill="#5369cf"/><rect x="284.4" y="92.1" width=".7" height=".7" fill="#3b5bc5"/><rect x="285.6" y="59.1" width=".7" height=".7" fill="#2b52bf"/><rect x="286.1" y="90.3" width=".7" height=".7" fill="#3558c3"/><rect x="273.9" y="79.7" width=".7" height=".7" fill="#3256c2"/><rect x="283.1" y="92.7" width=".7" height=".7" fill="#3859c4"/><rect x="284.5" y="54.8" width=".7" height=".7" fill="#4a64cb"/><rect x="272.6" y="77.6" width=".7" height=".7" fill="#5068ce"/><rect x="276.1" y="86.0" width=".7" height=".7" fill="#4461c9"/><rect x="268.5" y="51.7" width=".7" height=".7" fill="#3e5dc7"/><rect x="274.0" y="49.1" width=".7" height=".7" fill="#4461c9"/><rect x="271.3" y="49.7" width=".7" height=".7" fill="#425fc8"/><rect x="286.7" y="72.7" width=".7" height=".7" fill="#3457c3"/><rect x="271.7" y="75.6" width=".7" height=".7" fill="#2e53c0"/><rect x="279.0" y="93.7" width=".7" height=".7" fill="#4a64cb"/><rect x="271.4" y="49.7" width=".7" height=".7" fill="#4461c9"/><rect x="285.2" y="58.3" width=".7" height=".7" fill="#3c5cc6"/><rect x="272.7" y="77.5" width=".7" height=".7" fill="#3c5cc6"/><rect x="275.6" y="49.1" width=".7" height=".7" fill="#4f67cd"/><rect x="267.0" y="53.1" width=".7" height=".7" fill="#2867c5"/><rect x="277.2" y="49.1" width=".7" height=".7" fill="#3457c3"/><rect x="267.5" y="61.5" width=".7" height=".7" fill="#3759c4"/><rect x="267.3" y="61.2" width=".7" height=".7" fill="#4b65cc"/><rect x="283.2" y="52.0" width=".7" height=".7" fill="#3859c4"/><rect x="283.1" y="51.8" width=".7" height=".7" fill="#4561c9"/><rect x="285.8" y="70.1" width=".7" height=".7" fill="#3658c3"/><rect x="286.9" y="81.6" width=".7" height=".7" fill="#3859c4"/><rect x="270.4" y="50.5" width=".7" height=".7" fill="#3a5ac5"/><rect x="285.4" y="59.1" width=".7" height=".7" fill="#3658c3"/><rect x="287.0" y="84.5" width=".7" height=".7" fill="#3f5ec7"/><rect x="280.1" y="93.7" width=".7" height=".7" fill="#385ac4"/><rect x="275.5" y="83.1" width=".7" height=".7" fill="#4f67cd"/><rect x="278.1" y="92.7" width=".7" height=".7" fill="#3357c2"/><rect x="281.8" y="50.6" width=".7" height=".7" fill="#3b5bc5"/><rect x="284.7" y="66.0" width=".7" height=".7" fill="#285ec2"/><rect x="271.5" y="74.2" width=".7" height=".7" fill="#395ac4"/><rect x="282.0" y="93.0" width=".7" height=".7" fill="#4e67cd"/><rect x="286.2" y="89.5" width=".7" height=".7" fill="#2c52bf"/><rect x="275.6" y="49.3" width=".7" height=".7" fill="#405ec7"/><rect x="279.8" y="93.6" width=".7" height=".7" fill="#4360c9"/><rect x="275.7" y="83.4" width=".7" height=".7" fill="#3a5ac5"/><rect x="271.6" y="74.5" width=".7" height=".7" fill="#2e53c0"/><rect x="277.2" y="91.0" width=".7" height=".7" fill="#2850be"/><rect x="271.5" y="49.9" width=".7" height=".7" fill="#3d5cc6"/><rect x="274.3" y="80.0" width=".7" height=".7" fill="#3759c4"/><rect x="286.7" y="75.7" width=".7" height=".7" fill="#3759c4"/><rect x="283.2" y="92.4" width=".7" height=".7" fill="#3f5dc7"/><rect x="270.5" y="50.5" width=".7" height=".7" fill="#3d5dc6"/><rect x="273.0" y="77.6" width=".7" height=".7" fill="#3a5bc5"/><rect x="271.1" y="50.1" width=".7" height=".7" fill="#395ac5"/><rect x="266.6" y="53.9" width=".7" height=".7" fill="#2f54c1"/><rect x="285.3" y="62.5" width=".7" height=".7" fill="#4a64cb"/><rect x="286.6" y="86.8" width=".7" height=".7" fill="#3457c3"/><rect x="284.5" y="56.0" width=".7" height=".7" fill="#3558c3"/><rect x="267.0" y="60.5" width=".7" height=".7" fill="#2c52bf"/><rect x="276.4" y="87.5" width=".7" height=".7" fill="#3c5cc6"/><rect x="284.6" y="91.6" width=".7" height=".7" fill="#3c5cc6"/><rect x="279.7" y="93.5" width=".7" height=".7" fill="#3759c4"/><rect x="271.7" y="74.3" width=".7" height=".7" fill="#3d5dc6"/><rect x="266.5" y="54.2" width=".7" height=".7" fill="#3e5dc6"/><rect x="279.9" y="93.4" width=".7" height=".7" fill="#3e5dc7"/><rect x="286.9" y="82.8" width=".7" height=".7" fill="#3e5dc7"/><rect x="268.4" y="62.2" width=".7" height=".7" fill="#415fc8"/><rect x="274.9" y="81.0" width=".7" height=".7" fill="#3d5dc6"/><rect x="285.2" y="68.9" width=".7" height=".7" fill="#3f5ec7"/><rect x="286.5" y="74.1" width=".7" height=".7" fill="#3e5dc7"/><rect x="278.9" y="93.1" width=".7" height=".7" fill="#4460c9"/><rect x="283.2" y="52.5" width=".7" height=".7" fill="#3054c1"/><rect x="285.3" y="60.1" width=".7" height=".7" fill="#3558c3"/><rect x="283.9" y="91.9" width=".7" height=".7" fill="#385ac4"/><rect x="285.4" y="90.7" width=".7" height=".7" fill="#415fc8"/><rect x="286.3" y="79.6" width=".7" height=".7" fill="#3256c2"/><rect x="275.3" y="81.9" width=".7" height=".7" fill="#3a5ac5"/><rect x="267.3" y="53.2" width=".7" height=".7" fill="#385ac4"/><rect x="266.8" y="59.7" width=".7" height=".7" fill="#3759c4"/><rect x="276.4" y="86.0" width=".7" height=".7" fill="#385ac4"/><rect x="284.7" y="91.4" width=".7" height=".7" fill="#2f54c0"/><rect x="280.9" y="93.1" width=".7" height=".7" fill="#3e5dc7"/><rect x="273.8" y="78.6" width=".7" height=".7" fill="#3d5cc6"/><rect x="285.4" y="60.9" width=".7" height=".7" fill="#3658c3"/><rect x="284.7" y="57.4" width=".7" height=".7" fill="#395ac4"/><rect x="284.7" y="63.8" width=".7" height=".7" fill="#3256c2"/><rect x="277.4" y="90.9" width=".7" height=".7" fill="#2f54c0"/><rect x="286.6" y="85.8" width=".7" height=".7" fill="#2b52bf"/><rect x="274.8" y="49.5" width=".7" height=".7" fill="#2e54c0"/><rect x="286.5" y="76.3" width=".7" height=".7" fill="#395ac5"/><rect x="277.1" y="90.2" width=".7" height=".7" fill="#385ac4"/><rect x="274.8" y="49.5" width=".7" height=".7" fill="#3a5bc5"/><rect x="286.6" y="86.0" width=".7" height=".7" fill="#2d53c0"/><rect x="271.0" y="69.0" width=".7" height=".7" fill="#395ac4"/><rect x="286.7" y="84.7" width=".7" height=".7" fill="#3e5dc6"/><rect x="270.7" y="65.6" width=".7" height=".7" fill="#405ec7"/><rect x="269.8" y="63.6" width=".7" height=".7" fill="#3054c1"/><rect x="270.0" y="63.9" width=".7" height=".7" fill="#3e5dc6"/><rect x="272.5" y="76.0" width=".7" height=".7" fill="#4d66cd"/><rect x="286.5" y="81.7" width=".7" height=".7" fill="#3055c1"/><rect x="273.2" y="77.4" width=".7" height=".7" fill="#3357c2"/><rect x="286.7" y="84.1" width=".7" height=".7" fill="#2f54c1"/><rect x="266.5" y="55.1" width=".7" height=".7" fill="#2d53c0"/><rect x="274.2" y="79.0" width=".7" height=".7" fill="#3155c1"/><rect x="268.2" y="52.6" width=".7" height=".7" fill="#3256c2"/><rect x="286.2" y="88.1" width=".7" height=".7" fill="#3558c3"/><rect x="271.0" y="66.3" width=".7" height=".7" fill="#3d5cc6"/><rect x="281.6" y="92.7" width=".7" height=".7" fill="#4863cb"/><rect x="280.5" y="93.0" width=".7" height=".7" fill="#4762ca"/><rect x="286.2" y="72.8" width=".7" height=".7" fill="#3256c2"/><rect x="267.4" y="60.4" width=".7" height=".7" fill="#2e54c0"/><rect x="266.8" y="59.0" width=".7" height=".7" fill="#3558c3"/><rect x="273.4" y="77.6" width=".7" height=".7" fill="#3c5cc6"/><rect x="282.9" y="52.4" width=".7" height=".7" fill="#3054c1"/><rect x="285.2" y="90.6" width=".7" height=".7" fill="#3558c3"/><rect x="284.5" y="64.1" width=".7" height=".7" fill="#3558c3"/><rect x="283.5" y="91.8" width=".7" height=".7" fill="#385ac4"/><rect x="275.2" y="49.6" width=".7" height=".7" fill="#3f5ec7"/><rect x="286.6" y="82.4" width=".7" height=".7" fill="#3e5dc6"/><rect x="277.5" y="90.8" width=".7" height=".7" fill="#3256c2"/><rect x="284.8" y="62.5" width=".7" height=".7" fill="#2853be"/><rect x="266.5" y="55.6" width=".7" height=".7" fill="#2857c0"/><rect x="280.6" y="50.3" width=".7" height=".7" fill="#3658c3"/><rect x="286.0" y="72.1" width=".7" height=".7" fill="#3155c1"/><rect x="284.3" y="65.7" width=".7" height=".7" fill="#3558c3"/><rect x="286.0" y="72.3" width=".7" height=".7" fill="#3357c2"/><rect x="272.0" y="74.2" width=".7" height=".7" fill="#3155c1"/><rect x="284.4" y="64.4" width=".7" height=".7" fill="#2c52bf"/><rect x="271.6" y="50.3" width=".7" height=".7" fill="#3e5dc7"/><rect x="271.2" y="69.0" width=".7" height=".7" fill="#2859c0"/><rect x="267.9" y="53.1" width=".7" height=".7" fill="#3558c3"/><rect x="268.8" y="62.1" width=".7" height=".7" fill="#3d5cc6"/><rect x="279.2" y="49.9" width=".7" height=".7" fill="#286bc6"/><rect x="285.5" y="70.8" width=".7" height=".7" fill="#3c5cc6"/><rect x="270.8" y="65.1" width=".7" height=".7" fill="#3457c3"/><rect x="283.6" y="54.3" width=".7" height=".7" fill="#3a5bc5"/><rect x="276.9" y="49.7" width=".7" height=".7" fill="#2a51be"/><rect x="285.8" y="89.3" width=".7" height=".7" fill="#4b65cc"/><rect x="279.4" y="92.8" width=".7" height=".7" fill="#3155c1"/><rect x="284.6" y="62.7" width=".7" height=".7" fill="#425fc8"/><rect x="286.6" y="83.7" width=".7" height=".7" fill="#2855bf"/><rect x="284.8" y="59.6" width=".7" height=".7" fill="#2866c5"/><rect x="266.7" y="56.1" width=".7" height=".7" fill="#2c52bf"/><rect x="281.5" y="51.1" width=".7" height=".7" fill="#3a5bc5"/><rect x="277.3" y="89.9" width=".7" height=".7" fill="#2951be"/><rect x="277.6" y="90.7" width=".7" height=".7" fill="#286ac6"/><rect x="272.2" y="50.2" width=".7" height=".7" fill="#3155c1"/><rect x="283.4" y="53.9" width=".7" height=".7" fill="#3658c3"/><rect x="278.4" y="92.0" width=".7" height=".7" fill="#2854bf"/><rect x="286.2" y="76.6" width=".7" height=".7" fill="#3f5dc7"/><rect x="284.7" y="62.1" width=".7" height=".7" fill="#3658c3"/><rect x="284.8" y="60.8" width=".7" height=".7" fill="#3357c2"/><rect x="267.3" y="59.5" width=".7" height=".7" fill="#3256c2"/><rect x="284.2" y="56.9" width=".7" height=".7" fill="#2951be"/><rect x="276.9" y="88.1" width=".7" height=".7" fill="#3457c3"/><rect x="284.5" y="68.3" width=".7" height=".7" fill="#3c5cc6"/><rect x="278.5" y="92.1" width=".7" height=".7" fill="#3f5ec7"/><rect x="284.8" y="61.1" width=".7" height=".7" fill="#3457c2"/><rect x="285.4" y="70.7" width=".7" height=".7" fill="#2f54c0"/><rect x="266.9" y="55.2" width=".7" height=".7" fill="#2a51bf"/><rect x="281.6" y="51.3" width=".7" height=".7" fill="#2d53c0"/><rect x="268.2" y="61.0" width=".7" height=".7" fill="#3e5dc7"/><rect x="286.0" y="77.7" width=".7" height=".7" fill="#2d53c0"/><rect x="286.2" y="74.8" width=".7" height=".7" fill="#3859c4"/><rect x="284.5" y="62.2" width=".7" height=".7" fill="#2852be"/><rect x="271.3" y="67.3" width=".7" height=".7" fill="#3557c3"/><rect x="281.8" y="92.2" width=".7" height=".7" fill="#3557c3"/><rect x="274.4" y="78.7" width=".7" height=".7" fill="#3759c4"/><rect x="269.7" y="51.8" width=".7" height=".7" fill="#2951be"/><rect x="285.0" y="69.8" width=".7" height=".7" fill="#3356c2"/><rect x="276.7" y="85.8" width=".7" height=".7" fill="#2880cd"/><rect x="266.9" y="57.0" width=".7" height=".7" fill="#2850be"/><rect x="286.0" y="80.7" width=".7" height=".7" fill="#3c5cc6"/><rect x="285.7" y="89.1" width=".7" height=".7" fill="#3256c2"/><rect x="286.2" y="81.8" width=".7" height=".7" fill="#2850be"/><rect x="270.7" y="51.1" width=".7" height=".7" fill="#2b51bf"/><rect x="286.1" y="81.3" width=".7" height=".7" fill="#2c52bf"/><rect x="268.2" y="60.9" width=".7" height=".7" fill="#2f54c1"/><rect x="285.8" y="80.0" width=".7" height=".7" fill="#3f5ec7"/><rect x="272.3" y="74.2" width=".7" height=".7" fill="#3e5dc7"/><rect x="283.8" y="55.5" width=".7" height=".7" fill="#2a51bf"/><rect x="285.9" y="73.1" width=".7" height=".7" fill="#3759c4"/><rect x="279.5" y="50.2" width=".7" height=".7" fill="#3155c1"/><rect x="285.8" y="88.5" width=".7" height=".7" fill="#2b52bf"/><rect x="284.5" y="90.8" width=".7" height=".7" fill="#425fc8"/><rect x="271.4" y="66.7" width=".7" height=".7" fill="#415fc8"/><rect x="284.5" y="61.6" width=".7" height=".7" fill="#2c52bf"/><rect x="272.1" y="73.2" width=".7" height=".7" fill="#3658c3"/><rect x="267.8" y="60.2" width=".7" height=".7" fill="#3457c2"/><rect x="274.1" y="50.1" width=".7" height=".7" fill="#2852be"/><rect x="280.9" y="50.9" width=".7" height=".7" fill="#3356c2"/><rect x="271.5" y="69.0" width=".7" height=".7" fill="#3155c1"/><rect x="272.3" y="50.4" width=".7" height=".7" fill="#2e53c0"/><rect x="271.5" y="69.0" width=".7" height=".7" fill="#405ec7"/><rect x="286.0" y="76.5" width=".7" height=".7" fill="#2866c4"/><rect x="286.3" y="82.8" width=".7" height=".7" fill="#2d53c0"/><rect x="284.0" y="65.0" width=".7" height=".7" fill="#3558c3"/><rect x="267.1" y="56.9" width=".7" height=".7" fill="#2854bf"/><rect x="284.0" y="66.5" width=".7" height=".7" fill="#385ac4"/><rect x="273.9" y="77.2" width=".7" height=".7" fill="#3658c3"/><rect x="283.0" y="53.6" width=".7" height=".7" fill="#3b5bc5"/><rect x="275.2" y="80.0" width=".7" height=".7" fill="#3256c2"/><rect x="274.2" y="77.8" width=".7" height=".7" fill="#3759c4"/><rect x="271.5" y="67.5" width=".7" height=".7" fill="#2e53c0"/><rect x="277.9" y="90.6" width=".7" height=".7" fill="#3658c3"/><rect x="286.2" y="82.8" width=".7" height=".7" fill="#2e53c0"/><rect x="284.1" y="57.5" width=".7" height=".7" fill="#2c52bf"/><rect x="278.9" y="92.0" width=".7" height=".7" fill="#2c52bf"/><rect x="277.6" y="50.0" width=".7" height=".7" fill="#2c52bf"/><rect x="267.8" y="54.0" width=".7" height=".7" fill="#2f54c0"/><rect x="269.4" y="52.4" width=".7" height=".7" fill="#3759c4"/><rect x="280.8" y="92.3" width=".7" height=".7" fill="#415fc8"/><rect x="284.2" y="62.2" width=".7" height=".7" fill="#2c52bf"/><rect x="267.2" y="55.6" width=".7" height=".7" fill="#3c5cc6"/><rect x="269.7" y="52.2" width=".7" height=".7" fill="#2c52bf"/><rect x="285.0" y="90.0" width=".7" height=".7" fill="#3054c1"/><rect x="284.1" y="62.3" width=".7" height=".7" fill="#3054c1"/><rect x="271.6" y="69.3" width=".7" height=".7" fill="#2f54c1"/><rect x="278.8" y="50.2" width=".7" height=".7" fill="#2a51bf"/><rect x="272.3" y="73.0" width=".7" height=".7" fill="#3859c4"/><rect x="285.7" y="77.8" width=".7" height=".7" fill="#2c52bf"/><rect x="285.6" y="79.5" width=".7" height=".7" fill="#2856c0"/><rect x="267.9" y="54.0" width=".7" height=".7" fill="#2850be"/><rect x="280.8" y="92.2" width=".7" height=".7" fill="#2858c0"/><rect x="285.9" y="76.4" width=".7" height=".7" fill="#3155c1"/><rect x="283.9" y="62.9" width=".7" height=".7" fill="#2f54c1"/><rect x="285.3" y="89.3" width=".7" height=".7" fill="#2870c8"/><rect x="272.0" y="71.5" width=".7" height=".7" fill="#2a51bf"/><rect x="272.6" y="50.6" width=".7" height=".7" fill="#2c52bf"/><rect x="269.9" y="62.5" width=".7" height=".7" fill="#2856bf"/><rect x="285.8" y="81.8" width=".7" height=".7" fill="#3658c3"/><rect x="267.4" y="56.3" width=".7" height=".7" fill="#3054c1"/><rect x="273.7" y="76.3" width=".7" height=".7" fill="#2a51bf"/><rect x="283.9" y="61.8" width=".7" height=".7" fill="#2f54c0"/><rect x="267.7" y="58.7" width=".7" height=".7" fill="#2867c5"/><rect x="279.1" y="91.7" width=".7" height=".7" fill="#2a51bf"/><rect x="284.7" y="90.0" width=".7" height=".7" fill="#2854bf"/><rect x="275.9" y="81.4" width=".7" height=".7" fill="#3558c3"/><rect x="271.8" y="70.0" width=".7" height=".7" fill="#2e53c0"/><rect x="274.1" y="77.0" width=".7" height=".7" fill="#2e53c0"/><rect x="277.2" y="87.5" width=".7" height=".7" fill="#2951be"/><rect x="278.4" y="50.3" width=".7" height=".7" fill="#2a51be"/><rect x="272.7" y="73.6" width=".7" height=".7" fill="#2e53c0"/><rect x="268.3" y="60.1" width=".7" height=".7" fill="#2950be"/><rect x="269.7" y="52.5" width=".7" height=".7" fill="#287bcb"/><rect x="284.1" y="60.0" width=".7" height=".7" fill="#2d53c0"/><rect x="277.4" y="88.4" width=".7" height=".7" fill="#3357c2"/><rect x="276.7" y="83.9" width=".7" height=".7" fill="#2860c3"/><rect x="272.3" y="72.1" width=".7" height=".7" fill="#2869c5"/><rect x="277.9" y="50.3" width=".7" height=".7" fill="#2c52bf"/><rect x="272.9" y="74.2" width=".7" height=".7" fill="#2859c0"/><rect x="279.4" y="91.8" width=".7" height=".7" fill="#3f5ec7"/><rect x="282.7" y="53.7" width=".7" height=".7" fill="#2950be"/><rect x="284.3" y="90.3" width=".7" height=".7" fill="#2f54c0"/><rect x="269.9" y="62.3" width=".7" height=".7" fill="#2880cd"/><rect x="278.9" y="91.3" width=".7" height=".7" fill="#2b52bf"/><rect x="271.9" y="68.2" width=".7" height=".7" fill="#2876c9"/><rect x="272.1" y="71.2" width=".7" height=".7" fill="#2e54c0"/><rect x="282.8" y="91.2" width=".7" height=".7" fill="#2f54c1"/><rect x="284.0" y="59.8" width=".7" height=".7" fill="#3155c1"/><rect x="285.8" y="85.6" width=".7" height=".7" fill="#3759c4"/><rect x="285.9" y="84.9" width=".7" height=".7" fill="#3155c1"/><rect x="267.6" y="57.0" width=".7" height=".7" fill="#2860c3"/><rect x="273.0" y="74.6" width=".7" height=".7" fill="#3a5ac5"/><rect x="285.8" y="82.5" width=".7" height=".7" fill="#2c52bf"/><rect x="277.5" y="88.4" width=".7" height=".7" fill="#2861c3"/><rect x="280.2" y="91.9" width=".7" height=".7" fill="#2a51be"/><rect x="283.5" y="63.9" width=".7" height=".7" fill="#2850be"/><rect x="284.3" y="69.4" width=".7" height=".7" fill="#2950be"/><rect x="271.1" y="51.5" width=".7" height=".7" fill="#2850be"/><rect x="284.0" y="59.1" width=".7" height=".7" fill="#3d5cc6"/><rect x="267.9" y="54.7" width=".7" height=".7" fill="#286ec7"/><rect x="272.0" y="67.5" width=".7" height=".7" fill="#2950be"/><rect x="271.8" y="51.2" width=".7" height=".7" fill="#3155c1"/><rect x="276.6" y="50.4" width=".7" height=".7" fill="#2e54c0"/><rect x="282.6" y="91.2" width=".7" height=".7" fill="#2d53c0"/><rect x="272.0" y="68.1" width=".7" height=".7" fill="#2856c0"/><rect x="271.0" y="51.7" width=".7" height=".7" fill="#3658c3"/><rect x="283.6" y="56.7" width=".7" height=".7" fill="#3658c3"/><rect x="285.3" y="72.9" width=".7" height=".7" fill="#3759c4"/><rect x="283.6" y="56.8" width=".7" height=".7" fill="#285ec2"/><rect x="280.2" y="51.1" width=".7" height=".7" fill="#3357c2"/><rect x="267.8" y="55.6" width=".7" height=".7" fill="#2a51bf"/><rect x="270.3" y="52.3" width=".7" height=".7" fill="#3558c3"/><rect x="268.9" y="53.5" width=".7" height=".7" fill="#2c52bf"/><rect x="285.4" y="73.3" width=".7" height=".7" fill="#2f54c1"/><rect x="285.4" y="77.8" width=".7" height=".7" fill="#3155c1"/><rect x="284.2" y="69.4" width=".7" height=".7" fill="#2866c5"/><rect x="280.1" y="51.1" width=".7" height=".7" fill="#2a51be"/><rect x="268.5" y="60.0" width=".7" height=".7" fill="#3356c2"/><rect x="273.3" y="74.8" width=".7" height=".7" fill="#288ed1"/><rect x="281.3" y="52.0" width=".7" height=".7" fill="#3356c2"/><rect x="270.3" y="62.6" width=".7" height=".7" fill="#3557c3"/><rect x="272.0" y="69.7" width=".7" height=".7" fill="#395ac5"/><rect x="268.0" y="55.1" width=".7" height=".7" fill="#2877ca"/><rect x="272.0" y="67.9" width=".7" height=".7" fill="#2950be"/><rect x="268.2" y="59.3" width=".7" height=".7" fill="#2850be"/><rect x="283.5" y="56.6" width=".7" height=".7" fill="#2868c5"/><rect x="283.3" y="64.4" width=".7" height=".7" fill="#2950be"/><rect x="277.5" y="87.9" width=".7" height=".7" fill="#285dc2"/><rect x="274.0" y="76.1" width=".7" height=".7" fill="#287acb"/><rect x="274.1" y="50.7" width=".7" height=".7" fill="#2850be"/><rect x="272.1" y="69.4" width=".7" height=".7" fill="#2860c3"/><rect x="279.2" y="50.8" width=".7" height=".7" fill="#2850be"/><rect x="285.1" y="79.3" width=".7" height=".7" fill="#2850be"/><rect x="272.1" y="68.1" width=".7" height=".7" fill="#2874c9"/><rect x="285.5" y="75.9" width=".7" height=".7" fill="#285ac1"/><rect x="285.3" y="78.0" width=".7" height=".7" fill="#2851be"/><rect x="285.2" y="80.4" width=".7" height=".7" fill="#3a5bc5"/><rect x="285.1" y="88.3" width=".7" height=".7" fill="#3155c1"/><rect x="283.8" y="59.3" width=".7" height=".7" fill="#2f54c1"/><rect x="279.6" y="51.0" width=".7" height=".7" fill="#2951be"/><rect x="285.2" y="72.9" width=".7" height=".7" fill="#2855bf"/><rect x="285.4" y="86.9" width=".7" height=".7" fill="#2850be"/><rect x="285.7" y="83.8" width=".7" height=".7" fill="#2a51bf"/><rect x="283.5" y="66.6" width=".7" height=".7" fill="#2855bf"/><rect x="285.5" y="75.6" width=".7" height=".7" fill="#2855bf"/><rect x="272.2" y="70.1" width=".7" height=".7" fill="#2866c5"/><rect x="279.5" y="91.2" width=".7" height=".7" fill="#385ac4"/><rect x="275.0" y="77.5" width=".7" height=".7" fill="#286ac6"/><rect x="277.6" y="88.1" width=".7" height=".7" fill="#2888cf"/><rect x="280.9" y="51.9" width=".7" height=".7" fill="#286fc7"/><rect x="284.9" y="72.0" width=".7" height=".7" fill="#2c52bf"/><rect x="272.2" y="68.7" width=".7" height=".7" fill="#3055c1"/><rect x="285.5" y="82.4" width=".7" height=".7" fill="#2950be"/><rect x="272.3" y="70.7" width=".7" height=".7" fill="#2876c9"/><rect x="273.8" y="75.3" width=".7" height=".7" fill="#2855bf"/><rect x="279.2" y="51.0" width=".7" height=".7" fill="#3a5bc5"/><rect x="272.2" y="68.9" width=".7" height=".7" fill="#4561c9"/><rect x="277.1" y="84.6" width=".7" height=".7" fill="#2853bf"/><rect x="285.4" y="75.9" width=".7" height=".7" fill="#2897d4"/><rect x="268.9" y="54.0" width=".7" height=".7" fill="#3658c3"/><rect x="272.3" y="69.5" width=".7" height=".7" fill="#2e53c0"/><rect x="284.5" y="71.1" width=".7" height=".7" fill="#2850be"/><rect x="276.1" y="50.8" width=".7" height=".7" fill="#2857c0"/><rect x="282.2" y="53.8" width=".7" height=".7" fill="#2868c5"/><rect x="283.3" y="65.5" width=".7" height=".7" fill="#3658c3"/><rect x="268.4" y="54.9" width=".7" height=".7" fill="#2851be"/><rect x="271.6" y="51.7" width=".7" height=".7" fill="#2e53c0"/><rect x="276.1" y="80.6" width=".7" height=".7" fill="#2868c5"/><rect x="282.3" y="90.8" width=".7" height=".7" fill="#285ac1"/><rect x="274.7" y="50.9" width=".7" height=".7" fill="#2871c8"/><rect x="284.4" y="70.9" width=".7" height=".7" fill="#3356c2"/><rect x="285.2" y="73.7" width=".7" height=".7" fill="#3256c2"/><rect x="285.2" y="73.8" width=".7" height=".7" fill="#2e53c0"/><rect x="281.0" y="52.1" width=".7" height=".7" fill="#2c52bf"/><rect x="273.1" y="51.2" width=".7" height=".7" fill="#2e53c0"/><rect x="282.0" y="90.9" width=".7" height=".7" fill="#3356c2"/><rect x="270.0" y="61.7" width=".7" height=".7" fill="#2d53c0"/><rect x="284.1" y="89.6" width=".7" height=".7" fill="#3658c3"/><rect x="283.3" y="60.8" width=".7" height=".7" fill="#286ec7"/><rect x="285.5" y="83.4" width=".7" height=".7" fill="#2c52bf"/><rect x="283.3" y="90.3" width=".7" height=".7" fill="#3356c2"/><rect x="284.5" y="89.0" width=".7" height=".7" fill="#2855bf"/><rect x="284.9" y="80.2" width=".7" height=".7" fill="#3558c3"/><rect x="283.5" y="59.6" width=".7" height=".7" fill="#285cc1"/><rect x="273.5" y="74.0" width=".7" height=".7" fill="#2a51bf"/><rect x="273.9" y="51.1" width=".7" height=".7" fill="#2886cf"/><rect x="282.9" y="62.4" width=".7" height=".7" fill="#2862c3"/><rect x="285.0" y="78.1" width=".7" height=".7" fill="#2e53c0"/><rect x="275.8" y="78.9" width=".7" height=".7" fill="#286dc7"/><rect x="274.8" y="76.6" width=".7" height=".7" fill="#2855bf"/><rect x="272.1" y="65.5" width=".7" height=".7" fill="#2866c5"/><rect x="285.0" y="77.7" width=".7" height=".7" fill="#425fc8"/><rect x="284.1" y="89.4" width=".7" height=".7" fill="#2b51bf"/><rect x="285.4" y="84.1" width=".7" height=".7" fill="#2b51bf"/><rect x="278.8" y="51.1" width=".7" height=".7" fill="#287acb"/><rect x="272.3" y="66.2" width=".7" height=".7" fill="#3055c1"/><rect x="280.1" y="91.0" width=".7" height=".7" fill="#285ec2"/><rect x="270.6" y="62.4" width=".7" height=".7" fill="#2850be"/><rect x="271.0" y="63.1" width=".7" height=".7" fill="#3356c2"/><rect x="283.2" y="56.6" width=".7" height=".7" fill="#2b52bf"/><rect x="277.9" y="88.1" width=".7" height=".7" fill="#2864c4"/><rect x="273.4" y="73.6" width=".7" height=".7" fill="#2850be"/><rect x="278.8" y="90.1" width=".7" height=".7" fill="#2850be"/><rect x="273.1" y="72.6" width=".7" height=".7" fill="#2852be"/><rect x="274.2" y="51.2" width=".7" height=".7" fill="#2857c0"/><rect x="268.5" y="55.8" width=".7" height=".7" fill="#285ec2"/><rect x="269.9" y="53.4" width=".7" height=".7" fill="#2852be"/><rect x="282.9" y="64.8" width=".7" height=".7" fill="#3356c2"/><rect x="272.6" y="70.4" width=".7" height=".7" fill="#2850be"/><rect x="277.6" y="51.0" width=".7" height=".7" fill="#2858c0"/><rect x="283.4" y="89.9" width=".7" height=".7" fill="#2888cf"/><rect x="280.7" y="90.9" width=".7" height=".7" fill="#2f54c0"/><rect x="275.9" y="51.0" width=".7" height=".7" fill="#2886cf"/><rect x="283.1" y="90.1" width=".7" height=".7" fill="#2a51bf"/><rect x="284.8" y="72.9" width=".7" height=".7" fill="#2887cf"/><rect x="268.8" y="54.9" width=".7" height=".7" fill="#3859c4"/><rect x="272.2" y="65.5" width=".7" height=".7" fill="#2850be"/><rect x="269.6" y="53.7" width=".7" height=".7" fill="#3a5bc5"/><rect x="284.9" y="77.9" width=".7" height=".7" fill="#3256c2"/><rect x="268.5" y="56.6" width=".7" height=".7" fill="#2951be"/><rect x="283.2" y="67.2" width=".7" height=".7" fill="#2866c4"/><rect x="285.2" y="85.6" width=".7" height=".7" fill="#2c52bf"/><rect x="281.3" y="52.8" width=".7" height=".7" fill="#285fc2"/><rect x="269.8" y="60.9" width=".7" height=".7" fill="#2c52bf"/><rect x="268.7" y="58.5" width=".7" height=".7" fill="#288ad0"/><rect x="270.0" y="53.4" width=".7" height=".7" fill="#2a51bf"/><rect x="277.7" y="51.1" width=".7" height=".7" fill="#2895d3"/><rect x="273.1" y="72.3" width=".7" height=".7" fill="#2890d2"/><rect x="281.4" y="53.1" width=".7" height=".7" fill="#2d53c0"/><rect x="284.8" y="78.1" width=".7" height=".7" fill="#2869c5"/><rect x="268.6" y="56.1" width=".7" height=".7" fill="#2950be"/><rect x="268.6" y="57.2" width=".7" height=".7" fill="#2887cf"/><rect x="285.0" y="86.4" width=".7" height=".7" fill="#2863c4"/><rect x="268.8" y="58.8" width=".7" height=".7" fill="#2892d2"/><rect x="268.6" y="56.5" width=".7" height=".7" fill="#2854bf"/><rect x="274.2" y="74.9" width=".7" height=".7" fill="#2851be"/><rect x="284.9" y="76.7" width=".7" height=".7" fill="#2b52bf"/><rect x="273.1" y="71.9" width=".7" height=".7" fill="#285ec2"/><rect x="284.5" y="88.2" width=".7" height=".7" fill="#2868c5"/><rect x="282.7" y="61.3" width=".7" height=".7" fill="#285dc2"/><rect x="278.2" y="88.5" width=".7" height=".7" fill="#2864c4"/><rect x="277.5" y="51.2" width=".7" height=".7" fill="#2873c9"/><rect x="280.4" y="52.2" width=".7" height=".7" fill="#2859c1"/><rect x="279.2" y="51.5" width=".7" height=".7" fill="#2a51be"/><rect x="268.9" y="58.7" width=".7" height=".7" fill="#2d53c0"/><rect x="268.9" y="58.5" width=".7" height=".7" fill="#2950be"/><rect x="285.1" y="84.9" width=".7" height=".7" fill="#2852be"/><rect x="284.4" y="88.3" width=".7" height=".7" fill="#287ccb"/><rect x="285.1" y="83.4" width=".7" height=".7" fill="#2879cb"/><rect x="284.5" y="80.5" width=".7" height=".7" fill="#2a51bf"/><rect x="282.3" y="62.9" width=".7" height=".7" fill="#2870c8"/><rect x="277.2" y="51.2" width=".7" height=".7" fill="#2b52bf"/><rect x="274.2" y="51.5" width=".7" height=".7" fill="#2878ca"/><rect x="280.6" y="90.5" width=".7" height=".7" fill="#3256c2"/><rect x="271.7" y="52.3" width=".7" height=".7" fill="#287dcc"/><rect x="283.1" y="57.7" width=".7" height=".7" fill="#2859c0"/><rect x="284.8" y="74.2" width=".7" height=".7" fill="#2866c5"/><rect x="284.7" y="87.2" width=".7" height=".7" fill="#285cc1"/><rect x="282.9" y="56.6" width=".7" height=".7" fill="#2c52bf"/><rect x="277.6" y="85.0" width=".7" height=".7" fill="#2863c4"/><rect x="277.9" y="87.0" width=".7" height=".7" fill="#2860c3"/><rect x="270.6" y="53.2" width=".7" height=".7" fill="#2877ca"/><rect x="270.4" y="61.4" width=".7" height=".7" fill="#2874c9"/><rect x="275.7" y="77.1" width=".7" height=".7" fill="#2887cf"/><rect x="282.5" y="64.6" width=".7" height=".7" fill="#2872c8"/><rect x="271.5" y="63.4" width=".7" height=".7" fill="#2d53c0"/><rect x="269.0" y="58.5" width=".7" height=".7" fill="#2879cb"/><rect x="271.7" y="52.5" width=".7" height=".7" fill="#2d53c0"/><rect x="284.4" y="78.6" width=".7" height=".7" fill="#2950be"/><rect x="279.0" y="51.6" width=".7" height=".7" fill="#2864c4"/><rect x="284.4" y="80.6" width=".7" height=".7" fill="#2a51be"/><rect x="283.0" y="59.7" width=".7" height=".7" fill="#2856c0"/><rect x="282.8" y="56.5" width=".7" height=".7" fill="#2882cd"/><rect x="279.6" y="51.9" width=".7" height=".7" fill="#2850be"/><rect x="282.5" y="64.9" width=".7" height=".7" fill="#2a51be"/><rect x="284.8" y="76.3" width=".7" height=".7" fill="#2d53c0"/><rect x="276.0" y="77.7" width=".7" height=".7" fill="#30adb9"/><rect x="284.6" y="81.6" width=".7" height=".7" fill="#2856bf"/><rect x="284.3" y="72.4" width=".7" height=".7" fill="#2865c4"/><rect x="276.2" y="78.4" width=".7" height=".7" fill="#2866c4"/><rect x="279.5" y="89.9" width=".7" height=".7" fill="#2887cf"/><rect x="284.4" y="87.5" width=".7" height=".7" fill="#2853bf"/><rect x="276.9" y="51.4" width=".7" height=".7" fill="#2951be"/><rect x="273.1" y="68.0" width=".7" height=".7" fill="#2859c1"/><rect x="278.2" y="87.6" width=".7" height=".7" fill="#2850be"/><rect x="282.0" y="89.9" width=".7" height=".7" fill="#2e53c0"/><rect x="284.3" y="79.4" width=".7" height=".7" fill="#3256c2"/><rect x="274.2" y="51.7" width=".7" height=".7" fill="#2867c5"/><rect x="273.7" y="72.9" width=".7" height=".7" fill="#2859c0"/><rect x="270.0" y="60.6" width=".7" height=".7" fill="#2892d2"/><rect x="278.8" y="89.1" width=".7" height=".7" fill="#2856c0"/><rect x="275.4" y="76.3" width=".7" height=".7" fill="#285cc1"/><rect x="283.2" y="68.9" width=".7" height=".7" fill="#288dd1"/><rect x="281.8" y="90.0" width=".7" height=".7" fill="#3054c1"/><rect x="284.1" y="88.0" width=".7" height=".7" fill="#2880cd"/><rect x="280.7" y="52.9" width=".7" height=".7" fill="#2850be"/><rect x="284.7" y="86.1" width=".7" height=".7" fill="#2b51bf"/><rect x="278.3" y="51.6" width=".7" height=".7" fill="#2874c9"/><rect x="283.1" y="89.3" width=".7" height=".7" fill="#286cc6"/><rect x="282.9" y="59.3" width=".7" height=".7" fill="#2a51bf"/><rect x="284.7" y="74.6" width=".7" height=".7" fill="#2870c8"/><rect x="282.4" y="55.6" width=".7" height=".7" fill="#2899d4"/><rect x="280.3" y="90.1" width=".7" height=".7" fill="#2882cd"/><rect x="273.0" y="66.3" width=".7" height=".7" fill="#286dc7"/><rect x="280.9" y="90.1" width=".7" height=".7" fill="#2858c0"/><rect x="273.5" y="72.0" width=".7" height=".7" fill="#2867c5"/><rect x="282.8" y="66.7" width=".7" height=".7" fill="#2879ca"/><rect x="276.3" y="51.6" width=".7" height=".7" fill="#2863c4"/><rect x="282.1" y="55.0" width=".7" height=".7" fill="#2878ca"/><rect x="284.6" y="82.4" width=".7" height=".7" fill="#2889cf"/><rect x="274.7" y="74.9" width=".7" height=".7" fill="#2d53c0"/><rect x="284.4" y="87.0" width=".7" height=".7" fill="#2870c8"/><rect x="269.3" y="58.6" width=".7" height=".7" fill="#287bcb"/><rect x="274.1" y="73.5" width=".7" height=".7" fill="#2863c4"/><rect x="284.5" y="82.0" width=".7" height=".7" fill="#2858c0"/><rect x="281.5" y="54.1" width=".7" height=".7" fill="#289bd5"/><rect x="284.7" y="85.1" width=".7" height=".7" fill="#2869c6"/><rect x="284.0" y="88.0" width=".7" height=".7" fill="#286ac6"/><rect x="276.4" y="78.2" width=".7" height=".7" fill="#285cc1"/><rect x="273.4" y="71.3" width=".7" height=".7" fill="#2863c4"/><rect x="269.5" y="58.9" width=".7" height=".7" fill="#2863c4"/><rect x="281.4" y="54.0" width=".7" height=".7" fill="#286ac6"/><rect x="277.8" y="85.0" width=".7" height=".7" fill="#2c52bf"/><rect x="269.2" y="56.6" width=".7" height=".7" fill="#2d53c0"/><rect x="276.8" y="80.0" width=".7" height=".7" fill="#285ac1"/><rect x="276.5" y="78.6" width=".7" height=".7" fill="#2863c4"/><rect x="269.6" y="55.1" width=".7" height=".7" fill="#285cc1"/><rect x="282.5" y="65.5" width=".7" height=".7" fill="#2884ce"/><rect x="278.7" y="88.5" width=".7" height=".7" fill="#286dc7"/><rect x="282.2" y="89.5" width=".7" height=".7" fill="#2885ce"/><rect x="274.5" y="74.2" width=".7" height=".7" fill="#2876c9"/><rect x="279.9" y="89.7" width=".7" height=".7" fill="#3256c2"/><rect x="284.7" y="84.9" width=".7" height=".7" fill="#287ecc"/><rect x="275.0" y="75.1" width=".7" height=".7" fill="#289cd5"/><rect x="269.3" y="57.5" width=".7" height=".7" fill="#2874c9"/><rect x="273.3" y="69.9" width=".7" height=".7" fill="#286ec7"/><rect x="280.2" y="89.8" width=".7" height=".7" fill="#2850be"/><rect x="283.7" y="88.3" width=".7" height=".7" fill="#2878ca"/><rect x="284.4" y="86.7" width=".7" height=".7" fill="#2850be"/><rect x="278.3" y="87.2" width=".7" height=".7" fill="#2d53c0"/><rect x="269.7" y="59.1" width=".7" height=".7" fill="#2878ca"/><rect x="282.6" y="66.7" width=".7" height=".7" fill="#288bd0"/><rect x="280.1" y="89.7" width=".7" height=".7" fill="#2868c5"/><rect x="272.3" y="52.6" width=".7" height=".7" fill="#286cc6"/><rect x="273.3" y="69.4" width=".7" height=".7" fill="#285dc2"/><rect x="284.5" y="75.5" width=".7" height=".7" fill="#29a1d3"/><rect x="284.4" y="74.3" width=".7" height=".7" fill="#287ecc"/><rect x="279.8" y="89.5" width=".7" height=".7" fill="#2868c5"/><rect x="279.2" y="89.0" width=".7" height=".7" fill="#2869c6"/><rect x="284.0" y="79.6" width=".7" height=".7" fill="#2877ca"/><rect x="272.0" y="63.8" width=".7" height=".7" fill="#2895d3"/><rect x="269.6" y="58.8" width=".7" height=".7" fill="#2862c3"/><rect x="276.9" y="80.2" width=".7" height=".7" fill="#2858c0"/><rect x="274.1" y="52.0" width=".7" height=".7" fill="#287dcc"/><rect x="272.4" y="52.6" width=".7" height=".7" fill="#2870c8"/><rect x="279.4" y="89.2" width=".7" height=".7" fill="#2a51bf"/><rect x="284.6" y="84.6" width=".7" height=".7" fill="#2870c8"/><rect x="277.6" y="83.5" width=".7" height=".7" fill="#286ac6"/><rect x="281.9" y="61.8" width=".7" height=".7" fill="#2868c5"/><rect x="277.1" y="81.5" width=".7" height=".7" fill="#2879ca"/><rect x="275.0" y="74.9" width=".7" height=".7" fill="#287ccb"/><rect x="280.6" y="89.7" width=".7" height=".7" fill="#2aa4cd"/><rect x="273.4" y="70.4" width=".7" height=".7" fill="#2888cf"/><rect x="282.4" y="89.2" width=".7" height=".7" fill="#288fd1"/><rect x="273.4" y="69.8" width=".7" height=".7" fill="#2868c5"/><rect x="284.0" y="72.8" width=".7" height=".7" fill="#2876c9"/><rect x="273.8" y="72.0" width=".7" height=".7" fill="#2861c3"/><rect x="277.5" y="82.7" width=".7" height=".7" fill="#2861c3"/><rect x="283.7" y="87.9" width=".7" height=".7" fill="#2890d2"/><rect x="273.5" y="70.0" width=".7" height=".7" fill="#30acbb"/><rect x="284.2" y="82.0" width=".7" height=".7" fill="#288cd1"/><rect x="276.9" y="79.6" width=".7" height=".7" fill="#2884ce"/><rect x="282.1" y="65.0" width=".7" height=".7" fill="#2888cf"/><rect x="284.4" y="85.4" width=".7" height=".7" fill="#2890d2"/><rect x="281.0" y="53.8" width=".7" height=".7" fill="#2875c9"/><rect x="278.6" y="52.1" width=".7" height=".7" fill="#2876ca"/><rect x="281.6" y="63.5" width=".7" height=".7" fill="#288bd0"/><rect x="282.7" y="58.3" width=".7" height=".7" fill="#2ba4cc"/><rect x="284.4" y="83.0" width=".7" height=".7" fill="#287bcb"/><rect x="283.2" y="70.1" width=".7" height=".7" fill="#2a51bf"/><rect x="279.9" y="52.7" width=".7" height=".7" fill="#2891d2"/><rect x="276.9" y="51.9" width=".7" height=".7" fill="#287fcc"/><rect x="273.7" y="68.3" width=".7" height=".7" fill="#2861c3"/><rect x="277.1" y="80.8" width=".7" height=".7" fill="#2860c3"/><rect x="283.4" y="70.8" width=".7" height=".7" fill="#3759c4"/><rect x="271.0" y="53.8" width=".7" height=".7" fill="#2862c3"/><rect x="269.5" y="57.2" width=".7" height=".7" fill="#2873c9"/><rect x="281.7" y="61.9" width=".7" height=".7" fill="#288ad0"/><rect x="276.6" y="51.9" width=".7" height=".7" fill="#2879ca"/><rect x="279.3" y="88.8" width=".7" height=".7" fill="#285cc1"/><rect x="273.9" y="71.7" width=".7" height=".7" fill="#286ec7"/><rect x="282.8" y="68.5" width=".7" height=".7" fill="#287dcc"/><rect x="273.6" y="69.0" width=".7" height=".7" fill="#288ed1"/><rect x="277.7" y="83.4" width=".7" height=".7" fill="#2885ce"/><rect x="283.8" y="79.5" width=".7" height=".7" fill="#2896d4"/><rect x="269.6" y="56.3" width=".7" height=".7" fill="#2c52bf"/><rect x="283.9" y="87.1" width=".7" height=".7" fill="#2883cd"/><rect x="270.7" y="54.2" width=".7" height=".7" fill="#2885ce"/><rect x="279.4" y="52.5" width=".7" height=".7" fill="#2860c3"/><rect x="282.1" y="65.3" width=".7" height=".7" fill="#2883ce"/><rect x="284.2" y="74.2" width=".7" height=".7" fill="#286dc7"/><rect x="278.3" y="86.0" width=".7" height=".7" fill="#2858c0"/><rect x="281.6" y="63.7" width=".7" height=".7" fill="#2856bf"/><rect x="283.8" y="87.3" width=".7" height=".7" fill="#288fd1"/><rect x="280.6" y="53.5" width=".7" height=".7" fill="#2890d2"/><rect x="277.4" y="81.8" width=".7" height=".7" fill="#28a0d6"/><rect x="280.5" y="89.3" width=".7" height=".7" fill="#2896d3"/><rect x="284.4" y="84.2" width=".7" height=".7" fill="#288ed1"/><rect x="271.6" y="53.4" width=".7" height=".7" fill="#285ec2"/><rect x="282.9" y="69.5" width=".7" height=".7" fill="#2879cb"/><rect x="277.2" y="80.9" width=".7" height=".7" fill="#2877ca"/><rect x="284.1" y="76.8" width=".7" height=".7" fill="#31aeb7"/><rect x="278.0" y="84.6" width=".7" height=".7" fill="#2865c4"/><rect x="277.0" y="79.5" width=".7" height=".7" fill="#2859c0"/><rect x="270.3" y="59.7" width=".7" height=".7" fill="#2862c3"/><rect x="270.1" y="55.2" width=".7" height=".7" fill="#28a0d6"/><rect x="277.3" y="81.5" width=".7" height=".7" fill="#286dc7"/><rect x="280.9" y="53.9" width=".7" height=".7" fill="#2898d4"/><rect x="270.4" y="60.0" width=".7" height=".7" fill="#2872c8"/><rect x="283.7" y="80.3" width=".7" height=".7" fill="#28a0d4"/><rect x="284.3" y="84.9" width=".7" height=".7" fill="#2852be"/><rect x="282.1" y="65.6" width=".7" height=".7" fill="#2874c9"/><rect x="283.5" y="71.6" width=".7" height=".7" fill="#2895d3"/><rect x="282.3" y="56.5" width=".7" height=".7" fill="#287bcb"/><rect x="273.0" y="52.7" width=".7" height=".7" fill="#2867c5"/><rect x="269.8" y="56.5" width=".7" height=".7" fill="#2da7c6"/><rect x="283.2" y="70.5" width=".7" height=".7" fill="#2858c0"/><rect x="273.8" y="69.5" width=".7" height=".7" fill="#2869c6"/><rect x="277.1" y="79.7" width=".7" height=".7" fill="#2aa3cf"/><rect x="272.0" y="53.2" width=".7" height=".7" fill="#30acbc"/><rect x="278.6" y="86.8" width=".7" height=".7" fill="#2884ce"/><rect x="281.7" y="89.0" width=".7" height=".7" fill="#285dc2"/><rect x="270.4" y="54.9" width=".7" height=".7" fill="#285dc2"/><rect x="277.8" y="83.1" width=".7" height=".7" fill="#286ac6"/><rect x="271.1" y="61.2" width=".7" height=".7" fill="#2882cd"/><rect x="279.8" y="88.8" width=".7" height=".7" fill="#2ca7c7"/><rect x="273.6" y="52.5" width=".7" height=".7" fill="#28a0d5"/><rect x="272.3" y="63.6" width=".7" height=".7" fill="#29a1d3"/><rect x="282.5" y="88.5" width=".7" height=".7" fill="#2876ca"/><rect x="282.4" y="59.1" width=".7" height=".7" fill="#289dd6"/><rect x="269.8" y="56.6" width=".7" height=".7" fill="#289fd6"/><rect x="276.2" y="76.4" width=".7" height=".7" fill="#28a0d5"/><rect x="276.7" y="77.5" width=".7" height=".7" fill="#2886cf"/><rect x="281.3" y="63.2" width=".7" height=".7" fill="#287acb"/><rect x="279.7" y="88.7" width=".7" height=".7" fill="#2ba4cc"/><rect x="282.2" y="88.6" width=".7" height=".7" fill="#2fabbd"/><rect x="282.7" y="88.3" width=".7" height=".7" fill="#2881cd"/><rect x="270.1" y="55.7" width=".7" height=".7" fill="#2893d3"/><rect x="273.5" y="52.6" width=".7" height=".7" fill="#2ba4cc"/><rect x="283.5" y="80.4" width=".7" height=".7" fill="#2fabbe"/><rect x="282.0" y="60.3" width=".7" height=".7" fill="#32afb6"/><rect x="273.7" y="52.6" width=".7" height=".7" fill="#288ad0"/><rect x="279.0" y="87.7" width=".7" height=".7" fill="#2da8c5"/><rect x="281.3" y="54.7" width=".7" height=".7" fill="#2864c4"/><rect x="274.9" y="73.6" width=".7" height=".7" fill="#2a51bf"/><rect x="278.7" y="86.9" width=".7" height=".7" fill="#287ccc"/><rect x="274.1" y="67.7" width=".7" height=".7" fill="#2895d3"/><rect x="279.4" y="88.3" width=".7" height=".7" fill="#285cc1"/><rect x="282.9" y="70.1" width=".7" height=".7" fill="#2886ce"/><rect x="271.0" y="60.7" width=".7" height=".7" fill="#2890d2"/><rect x="280.3" y="88.9" width=".7" height=".7" fill="#288ad0"/><rect x="274.0" y="69.1" width=".7" height=".7" fill="#2893d3"/><rect x="270.4" y="59.4" width=".7" height=".7" fill="#2ca6c8"/><rect x="271.1" y="60.9" width=".7" height=".7" fill="#2883ce"/><rect x="283.5" y="79.1" width=".7" height=".7" fill="#287dcc"/><rect x="283.5" y="86.9" width=".7" height=".7" fill="#289cd6"/><rect x="279.4" y="88.2" width=".7" height=".7" fill="#2ca6c9"/><rect x="274.2" y="71.3" width=".7" height=".7" fill="#287fcc"/><rect x="271.0" y="60.6" width=".7" height=".7" fill="#2faabf"/><rect x="276.2" y="75.9" width=".7" height=".7" fill="#29a1d3"/><rect x="283.1" y="87.6" width=".7" height=".7" fill="#2881cd"/><rect x="283.4" y="87.1" width=".7" height=".7" fill="#288cd0"/><rect x="281.1" y="63.0" width=".7" height=".7" fill="#2875c9"/><rect x="282.8" y="70.0" width=".7" height=".7" fill="#28a1d4"/><rect x="273.3" y="65.2" width=".7" height=".7" fill="#2891d2"/><rect x="282.2" y="59.2" width=".7" height=".7" fill="#35b4a9"/><rect x="281.8" y="55.9" width=".7" height=".7" fill="#2c52bf"/><rect x="282.2" y="56.9" width=".7" height=".7" fill="#2869c5"/><rect x="281.5" y="61.1" width=".7" height=".7" fill="#287fcc"/><rect x="277.3" y="79.8" width=".7" height=".7" fill="#289fd6"/><rect x="282.8" y="70.2" width=".7" height=".7" fill="#2884ce"/><rect x="279.5" y="88.0" width=".7" height=".7" fill="#2879ca"/><rect x="275.8" y="75.0" width=".7" height=".7" fill="#289cd5"/><rect x="273.8" y="65.9" width=".7" height=".7" fill="#2882cd"/><rect x="282.3" y="58.3" width=".7" height=".7" fill="#2897d4"/><rect x="273.4" y="52.9" width=".7" height=".7" fill="#2ba5ca"/><rect x="278.8" y="52.8" width=".7" height=".7" fill="#2ca6c7"/><rect x="281.8" y="65.8" width=".7" height=".7" fill="#2860c3"/><rect x="281.2" y="61.8" width=".7" height=".7" fill="#287acb"/><rect x="271.1" y="60.6" width=".7" height=".7" fill="#289ed6"/><rect x="274.3" y="70.7" width=".7" height=".7" fill="#288bd0"/><rect x="283.7" y="77.2" width=".7" height=".7" fill="#2879cb"/><rect x="270.8" y="59.8" width=".7" height=".7" fill="#29a2d2"/><rect x="283.8" y="83.2" width=".7" height=".7" fill="#2894d3"/><rect x="281.6" y="65.2" width=".7" height=".7" fill="#28a0d6"/><rect x="276.2" y="75.5" width=".7" height=".7" fill="#2ca6c8"/><rect x="274.6" y="52.6" width=".7" height=".7" fill="#2887cf"/><rect x="271.3" y="60.8" width=".7" height=".7" fill="#2da8c3"/><rect x="281.9" y="66.4" width=".7" height=".7" fill="#2898d4"/><rect x="282.2" y="57.5" width=".7" height=".7" fill="#289bd5"/><rect x="274.4" y="71.0" width=".7" height=".7" fill="#2ea9c3"/><rect x="277.3" y="78.3" width=".7" height=".7" fill="#2862c3"/><rect x="270.8" y="59.6" width=".7" height=".7" fill="#2861c3"/><rect x="282.2" y="58.2" width=".7" height=".7" fill="#2871c8"/><rect x="273.6" y="65.5" width=".7" height=".7" fill="#2ca7c7"/><rect x="270.7" y="55.1" width=".7" height=".7" fill="#2898d4"/><rect x="271.2" y="60.6" width=".7" height=".7" fill="#2883ce"/><rect x="282.3" y="68.6" width=".7" height=".7" fill="#2875c9"/><rect x="282.0" y="56.6" width=".7" height=".7" fill="#2861c3"/><rect x="278.3" y="84.0" width=".7" height=".7" fill="#289ed6"/><rect x="283.8" y="83.7" width=".7" height=".7" fill="#2894d3"/><rect x="278.5" y="84.9" width=".7" height=".7" fill="#28a0d5"/><rect x="278.5" y="85.1" width=".7" height=".7" fill="#2da8c4"/><rect x="279.3" y="53.1" width=".7" height=".7" fill="#289ed6"/><rect x="272.4" y="63.1" width=".7" height=".7" fill="#32afb5"/><rect x="281.2" y="55.1" width=".7" height=".7" fill="#288ad0"/><rect x="273.9" y="65.8" width=".7" height=".7" fill="#33b1b0"/><rect x="270.5" y="56.0" width=".7" height=".7" fill="#29a1d2"/><rect x="281.8" y="66.3" width=".7" height=".7" fill="#2886cf"/><rect x="274.7" y="67.2" width=".7" height=".7" fill="#289dd6"/><rect x="277.5" y="52.6" width=".7" height=".7" fill="#3abb9a"/><rect x="283.7" y="85.1" width=".7" height=".7" fill="#2871c8"/><rect x="277.6" y="80.7" width=".7" height=".7" fill="#2885ce"/><rect x="283.7" y="76.2" width=".7" height=".7" fill="#288bd0"/><rect x="271.4" y="54.4" width=".7" height=".7" fill="#289dd6"/><rect x="278.7" y="85.7" width=".7" height=".7" fill="#289ad5"/><rect x="276.7" y="76.2" width=".7" height=".7" fill="#37b7a3"/><rect x="283.5" y="73.5" width=".7" height=".7" fill="#2892d2"/><rect x="281.9" y="66.9" width=".7" height=".7" fill="#2ca6c8"/><rect x="280.8" y="63.6" width=".7" height=".7" fill="#288ad0"/><rect x="283.6" y="76.8" width=".7" height=".7" fill="#2877ca"/><rect x="270.8" y="59.3" width=".7" height=".7" fill="#2895d3"/><rect x="283.0" y="71.6" width=".7" height=".7" fill="#2892d2"/><rect x="281.2" y="55.2" width=".7" height=".7" fill="#2ca7c7"/><rect x="280.6" y="54.4" width=".7" height=".7" fill="#33b0b2"/><rect x="282.7" y="87.2" width=".7" height=".7" fill="#288cd1"/><rect x="281.2" y="64.7" width=".7" height=".7" fill="#30adb9"/><rect x="274.8" y="67.4" width=".7" height=".7" fill="#287ccb"/><rect x="274.6" y="70.2" width=".7" height=".7" fill="#37b7a4"/><rect x="283.7" y="75.2" width=".7" height=".7" fill="#286ec7"/><rect x="281.2" y="88.1" width=".7" height=".7" fill="#288cd0"/><rect x="272.7" y="63.7" width=".7" height=".7" fill="#29a1d3"/><rect x="282.1" y="58.3" width=".7" height=".7" fill="#2890d2"/><rect x="275.4" y="73.5" width=".7" height=".7" fill="#2879cb"/><rect x="271.0" y="59.6" width=".7" height=".7" fill="#2da8c4"/><rect x="279.5" y="53.5" width=".7" height=".7" fill="#287ecc"/><rect x="280.3" y="88.0" width=".7" height=".7" fill="#30acbc"/><rect x="274.7" y="69.2" width=".7" height=".7" fill="#2870c8"/><rect x="276.1" y="74.8" width=".7" height=".7" fill="#31adb9"/><rect x="283.7" y="75.5" width=".7" height=".7" fill="#2faabf"/><rect x="270.6" y="58.2" width=".7" height=".7" fill="#2ca6c9"/><rect x="282.4" y="87.4" width=".7" height=".7" fill="#31aeb8"/><rect x="274.1" y="65.8" width=".7" height=".7" fill="#2897d4"/><rect x="271.9" y="61.8" width=".7" height=".7" fill="#289cd5"/><rect x="270.9" y="55.4" width=".7" height=".7" fill="#32afb4"/><rect x="270.5" y="57.7" width=".7" height=".7" fill="#287ecc"/><rect x="283.2" y="78.5" width=".7" height=".7" fill="#2896d3"/><rect x="281.9" y="67.2" width=".7" height=".7" fill="#2898d4"/><rect x="274.8" y="66.9" width=".7" height=".7" fill="#2897d4"/><rect x="282.1" y="68.1" width=".7" height=".7" fill="#2896d4"/><rect x="281.6" y="60.1" width=".7" height=".7" fill="#2855bf"/><rect x="283.3" y="82.2" width=".7" height=".7" fill="#289ed6"/><rect x="279.3" y="53.3" width=".7" height=".7" fill="#2aa3ce"/><rect x="279.9" y="87.7" width=".7" height=".7" fill="#33b1b0"/><rect x="275.0" y="68.1" width=".7" height=".7" fill="#2fabbe"/><rect x="271.2" y="54.9" width=".7" height=".7" fill="#288dd1"/><rect x="274.7" y="70.2" width=".7" height=".7" fill="#2897d4"/><rect x="282.4" y="87.2" width=".7" height=".7" fill="#2883ce"/><rect x="283.3" y="73.3" width=".7" height=".7" fill="#2895d3"/><rect x="274.8" y="66.8" width=".7" height=".7" fill="#288ed1"/><rect x="280.3" y="87.9" width=".7" height=".7" fill="#32b0b3"/><rect x="277.8" y="80.6" width=".7" height=".7" fill="#2ca6c9"/><rect x="274.8" y="69.7" width=".7" height=".7" fill="#2ea9c2"/><rect x="278.4" y="83.6" width=".7" height=".7" fill="#2896d3"/><rect x="281.1" y="61.2" width=".7" height=".7" fill="#289cd6"/><rect x="272.0" y="54.2" width=".7" height=".7" fill="#2da8c4"/><rect x="274.8" y="69.6" width=".7" height=".7" fill="#2889d0"/><rect x="274.8" y="69.9" width=".7" height=".7" fill="#2da8c4"/><rect x="273.2" y="64.4" width=".7" height=".7" fill="#31adb8"/><rect x="276.4" y="52.8" width=".7" height=".7" fill="#2891d2"/><rect x="276.1" y="52.8" width=".7" height=".7" fill="#28a1d4"/><rect x="270.8" y="58.8" width=".7" height=".7" fill="#2889cf"/><rect x="281.9" y="57.2" width=".7" height=".7" fill="#39b99e"/><rect x="273.3" y="64.5" width=".7" height=".7" fill="#2da8c4"/><rect x="283.1" y="78.4" width=".7" height=".7" fill="#33b1b0"/><rect x="277.0" y="76.3" width=".7" height=".7" fill="#289dd6"/><rect x="271.2" y="55.1" width=".7" height=".7" fill="#288ad0"/><rect x="281.1" y="61.0" width=".7" height=".7" fill="#28a0d4"/><rect x="282.2" y="69.1" width=".7" height=".7" fill="#37b6a5"/><rect x="272.9" y="63.8" width=".7" height=".7" fill="#39ba9d"/><rect x="277.0" y="76.2" width=".7" height=".7" fill="#31aeb8"/><rect x="275.7" y="73.7" width=".7" height=".7" fill="#29a2d1"/><rect x="279.6" y="87.1" width=".7" height=".7" fill="#2da8c3"/><rect x="283.1" y="78.3" width=".7" height=".7" fill="#34b2ad"/><rect x="283.4" y="74.1" width=".7" height=".7" fill="#2887cf"/><rect x="274.5" y="53.1" width=".7" height=".7" fill="#32b0b3"/><rect x="275.0" y="71.5" width=".7" height=".7" fill="#288ed1"/><rect x="281.2" y="87.7" width=".7" height=".7" fill="#2da7c6"/><rect x="272.3" y="62.3" width=".7" height=".7" fill="#31aeb7"/><rect x="276.3" y="52.9" width=".7" height=".7" fill="#2da8c5"/><rect x="281.2" y="87.7" width=".7" height=".7" fill="#2ba5cb"/><rect x="275.8" y="73.7" width=".7" height=".7" fill="#37b7a5"/><rect x="283.2" y="85.5" width=".7" height=".7" fill="#289cd6"/><rect x="280.7" y="64.2" width=".7" height=".7" fill="#289ed6"/><rect x="274.9" y="53.0" width=".7" height=".7" fill="#288dd1"/><rect x="277.8" y="79.6" width=".7" height=".7" fill="#2ca7c6"/><rect x="283.4" y="84.5" width=".7" height=".7" fill="#32afb4"/><rect x="274.8" y="53.1" width=".7" height=".7" fill="#2aa3cf"/><rect x="278.0" y="81.4" width=".7" height=".7" fill="#2870c8"/><rect x="283.5" y="75.2" width=".7" height=".7" fill="#2fabbe"/><rect x="279.6" y="87.0" width=".7" height=".7" fill="#31aeb7"/><rect x="276.7" y="75.4" width=".7" height=".7" fill="#2891d2"/><rect x="283.1" y="82.2" width=".7" height=".7" fill="#29a2d2"/><rect x="271.2" y="59.6" width=".7" height=".7" fill="#2ba5ca"/><rect x="276.0" y="52.9" width=".7" height=".7" fill="#2894d3"/><rect x="275.0" y="69.9" width=".7" height=".7" fill="#2ea9c2"/><rect x="277.7" y="78.7" width=".7" height=".7" fill="#2ca7c7"/><rect x="279.3" y="86.3" width=".7" height=".7" fill="#2889cf"/><rect x="274.8" y="66.4" width=".7" height=".7" fill="#2859c0"/><rect x="275.2" y="67.2" width=".7" height=".7" fill="#2890d2"/><rect x="281.0" y="64.9" width=".7" height=".7" fill="#39ba9d"/><rect x="275.1" y="71.5" width=".7" height=".7" fill="#37b7a3"/><rect x="277.7" y="78.5" width=".7" height=".7" fill="#29a1d3"/><rect x="279.7" y="87.0" width=".7" height=".7" fill="#288cd1"/><rect x="281.2" y="65.4" width=".7" height=".7" fill="#3abb9b"/><rect x="275.4" y="67.7" width=".7" height=".7" fill="#33b0b2"/><rect x="278.7" y="84.4" width=".7" height=".7" fill="#38b8a1"/><rect x="283.3" y="84.7" width=".7" height=".7" fill="#46be88"/><rect x="283.2" y="77.4" width=".7" height=".7" fill="#30adba"/><rect x="275.9" y="73.8" width=".7" height=".7" fill="#2da8c5"/><rect x="275.2" y="53.1" width=".7" height=".7" fill="#2897d4"/><rect x="282.8" y="81.0" width=".7" height=".7" fill="#2ea9c2"/><rect x="283.1" y="82.7" width=".7" height=".7" fill="#2891d2"/><rect x="283.4" y="75.3" width=".7" height=".7" fill="#37b6a5"/><rect x="282.8" y="80.6" width=".7" height=".7" fill="#2aa4cd"/><rect x="275.6" y="73.0" width=".7" height=".7" fill="#3dbe93"/><rect x="270.9" y="56.8" width=".7" height=".7" fill="#29a2d1"/><rect x="282.4" y="86.6" width=".7" height=".7" fill="#31aeb8"/><rect x="278.5" y="83.3" width=".7" height=".7" fill="#2898d4"/><rect x="281.5" y="59.6" width=".7" height=".7" fill="#35b4aa"/><rect x="274.0" y="65.2" width=".7" height=".7" fill="#2897d4"/><rect x="279.8" y="86.9" width=".7" height=".7" fill="#3abb9c"/><rect x="278.5" y="53.3" width=".7" height=".7" fill="#32b0b3"/><rect x="282.7" y="86.1" width=".7" height=".7" fill="#2879cb"/><rect x="282.7" y="86.2" width=".7" height=".7" fill="#2887cf"/><rect x="271.2" y="55.7" width=".7" height=".7" fill="#30acbc"/><rect x="282.2" y="69.8" width=".7" height=".7" fill="#2da7c6"/><rect x="281.5" y="66.8" width=".7" height=".7" fill="#52bf78"/><rect x="279.7" y="86.7" width=".7" height=".7" fill="#2897d4"/><rect x="282.8" y="78.4" width=".7" height=".7" fill="#2ba5ca"/><rect x="272.2" y="61.6" width=".7" height=".7" fill="#2ea9c3"/><rect x="283.1" y="84.8" width=".7" height=".7" fill="#30acbb"/><rect x="276.3" y="74.3" width=".7" height=".7" fill="#48bf85"/><rect x="279.2" y="53.7" width=".7" height=".7" fill="#2da8c5"/><rect x="281.9" y="68.8" width=".7" height=".7" fill="#2883ce"/><rect x="272.4" y="62.2" width=".7" height=".7" fill="#43be8c"/><rect x="283.2" y="84.0" width=".7" height=".7" fill="#32afb4"/><rect x="273.7" y="64.7" width=".7" height=".7" fill="#2887cf"/><rect x="273.4" y="53.7" width=".7" height=".7" fill="#28a0d6"/><rect x="282.7" y="71.8" width=".7" height=".7" fill="#2ba5cb"/><rect x="275.2" y="70.7" width=".7" height=".7" fill="#2fabbd"/><rect x="276.7" y="75.0" width=".7" height=".7" fill="#36b5a7"/><rect x="273.2" y="63.9" width=".7" height=".7" fill="#2ca6c8"/><rect x="275.3" y="71.6" width=".7" height=".7" fill="#29a2d0"/><rect x="275.5" y="72.3" width=".7" height=".7" fill="#2898d4"/><rect x="283.2" y="73.8" width=".7" height=".7" fill="#2da8c5"/><rect x="273.4" y="53.7" width=".7" height=".7" fill="#2fabbd"/><rect x="279.5" y="86.2" width=".7" height=".7" fill="#33b1b0"/><rect x="283.0" y="77.5" width=".7" height=".7" fill="#2875c9"/><rect x="276.9" y="75.3" width=".7" height=".7" fill="#289bd5"/><rect x="281.4" y="87.1" width=".7" height=".7" fill="#34b2af"/><rect x="272.8" y="54.0" width=".7" height=".7" fill="#4cbf7f"/><rect x="277.0" y="75.6" width=".7" height=".7" fill="#38b8a1"/><rect x="283.1" y="84.3" width=".7" height=".7" fill="#2872c8"/><rect x="281.4" y="59.7" width=".7" height=".7" fill="#287ccc"/><rect x="278.1" y="80.7" width=".7" height=".7" fill="#35b3ab"/><rect x="280.7" y="55.2" width=".7" height=".7" fill="#30acbc"/><rect x="281.6" y="67.6" width=".7" height=".7" fill="#30acbb"/><rect x="283.1" y="83.8" width=".7" height=".7" fill="#5ac06d"/><rect x="275.3" y="70.2" width=".7" height=".7" fill="#2898d4"/><rect x="279.5" y="86.1" width=".7" height=".7" fill="#3bbd96"/><rect x="277.6" y="77.0" width=".7" height=".7" fill="#31adb9"/><rect x="281.9" y="86.8" width=".7" height=".7" fill="#2aa3cf"/><rect x="280.2" y="63.3" width=".7" height=".7" fill="#287acb"/><rect x="280.9" y="65.3" width=".7" height=".7" fill="#2896d3"/><rect x="279.4" y="85.9" width=".7" height=".7" fill="#49bf83"/><rect x="282.9" y="82.3" width=".7" height=".7" fill="#31aeb8"/><rect x="275.7" y="68.8" width=".7" height=".7" fill="#38b8a1"/><rect x="275.8" y="67.9" width=".7" height=".7" fill="#36b5a8"/><rect x="275.7" y="68.6" width=".7" height=".7" fill="#2faabf"/><rect x="277.7" y="77.2" width=".7" height=".7" fill="#38b99f"/><rect x="275.7" y="68.6" width=".7" height=".7" fill="#33b1b0"/><rect x="275.9" y="73.1" width=".7" height=".7" fill="#2faac0"/><rect x="275.5" y="69.7" width=".7" height=".7" fill="#2da8c4"/><rect x="279.2" y="85.2" width=".7" height=".7" fill="#29a2d0"/><rect x="277.7" y="77.0" width=".7" height=".7" fill="#33b1b0"/><rect x="273.9" y="64.8" width=".7" height=".7" fill="#2faabf"/><rect x="281.1" y="60.4" width=".7" height=".7" fill="#3cbe95"/><rect x="280.6" y="64.8" width=".7" height=".7" fill="#2ea9c2"/><rect x="278.1" y="79.9" width=".7" height=".7" fill="#28a0d5"/><rect x="282.9" y="77.4" width=".7" height=".7" fill="#2884ce"/><rect x="283.0" y="73.5" width=".7" height=".7" fill="#38b9a0"/><rect x="275.5" y="70.1" width=".7" height=".7" fill="#76c247"/><rect x="275.6" y="71.8" width=".7" height=".7" fill="#31adb8"/><rect x="275.5" y="71.0" width=".7" height=".7" fill="#287acb"/><rect x="272.8" y="54.1" width=".7" height=".7" fill="#3abc99"/><rect x="280.9" y="65.5" width=".7" height=".7" fill="#2ba4cc"/><rect x="283.1" y="74.4" width=".7" height=".7" fill="#38b8a0"/><rect x="281.7" y="68.7" width=".7" height=".7" fill="#35b4ab"/><rect x="278.0" y="53.4" width=".7" height=".7" fill="#38b99f"/><rect x="278.9" y="83.7" width=".7" height=".7" fill="#33b0b2"/><rect x="278.8" y="83.3" width=".7" height=".7" fill="#2fabbe"/><rect x="273.5" y="64.1" width=".7" height=".7" fill="#3ebe92"/><rect x="272.2" y="54.7" width=".7" height=".7" fill="#2fabbe"/><rect x="271.3" y="56.4" width=".7" height=".7" fill="#43be8b"/><rect x="282.9" y="83.8" width=".7" height=".7" fill="#2ca6c8"/><rect x="278.3" y="81.4" width=".7" height=".7" fill="#33b1b0"/><rect x="281.2" y="59.8" width=".7" height=".7" fill="#2ba4cc"/><rect x="279.6" y="85.9" width=".7" height=".7" fill="#3bbd97"/><rect x="273.0" y="63.2" width=".7" height=".7" fill="#2ca6c9"/><rect x="282.6" y="85.2" width=".7" height=".7" fill="#2aa4ce"/><rect x="282.7" y="84.8" width=".7" height=".7" fill="#3cbe95"/><rect x="276.1" y="73.2" width=".7" height=".7" fill="#36b5a9"/><rect x="275.7" y="53.4" width=".7" height=".7" fill="#32afb6"/><rect x="282.4" y="85.7" width=".7" height=".7" fill="#29a1d2"/><rect x="282.3" y="85.7" width=".7" height=".7" fill="#32afb4"/><rect x="275.8" y="69.6" width=".7" height=".7" fill="#36b6a6"/><rect x="283.1" y="75.6" width=".7" height=".7" fill="#39ba9d"/><rect x="279.7" y="85.9" width=".7" height=".7" fill="#2ca6c9"/><rect x="278.6" y="82.4" width=".7" height=".7" fill="#38b8a2"/><rect x="271.3" y="57.7" width=".7" height=".7" fill="#2889cf"/><rect x="281.3" y="67.1" width=".7" height=".7" fill="#33b1b0"/><rect x="276.7" y="74.4" width=".7" height=".7" fill="#2aa3ce"/><rect x="281.7" y="86.3" width=".7" height=".7" fill="#3abb9a"/><rect x="276.2" y="68.2" width=".7" height=".7" fill="#2fabbf"/><rect x="278.8" y="83.0" width=".7" height=".7" fill="#77c247"/><rect x="272.2" y="60.8" width=".7" height=".7" fill="#35b3ac"/><rect x="276.0" y="53.4" width=".7" height=".7" fill="#36b6a6"/><rect x="273.2" y="63.4" width=".7" height=".7" fill="#287fcc"/><rect x="271.8" y="59.6" width=".7" height=".7" fill="#289ad5"/><rect x="279.7" y="85.7" width=".7" height=".7" fill="#43be8b"/><rect x="281.0" y="66.4" width=".7" height=".7" fill="#2da8c5"/><rect x="279.6" y="85.4" width=".7" height=".7" fill="#48bf85"/><rect x="282.4" y="85.2" width=".7" height=".7" fill="#2da7c6"/><rect x="279.3" y="84.7" width=".7" height=".7" fill="#3abb9c"/><rect x="271.9" y="59.6" width=".7" height=".7" fill="#2ca6c8"/><rect x="275.8" y="70.9" width=".7" height=".7" fill="#38b8a1"/><rect x="276.0" y="69.6" width=".7" height=".7" fill="#3abc99"/><rect x="276.9" y="74.6" width=".7" height=".7" fill="#41be8f"/><rect x="275.4" y="53.5" width=".7" height=".7" fill="#2da7c5"/><rect x="281.5" y="68.7" width=".7" height=".7" fill="#289fd6"/><rect x="274.2" y="64.9" width=".7" height=".7" fill="#3abb9c"/><rect x="279.3" y="84.5" width=".7" height=".7" fill="#36b6a6"/><rect x="278.8" y="82.9" width=".7" height=".7" fill="#3bbc98"/><rect x="277.4" y="75.4" width=".7" height=".7" fill="#28a1d3"/><rect x="278.6" y="81.9" width=".7" height=".7" fill="#3cbe95"/><rect x="281.0" y="66.4" width=".7" height=".7" fill="#33b0b2"/><rect x="281.2" y="67.2" width=".7" height=".7" fill="#2aa3ce"/><rect x="282.6" y="83.3" width=".7" height=".7" fill="#30acba"/><rect x="278.9" y="54.0" width=".7" height=".7" fill="#45be89"/><rect x="282.0" y="70.5" width=".7" height=".7" fill="#36b6a6"/><rect x="281.0" y="56.2" width=".7" height=".7" fill="#36b6a7"/><rect x="277.5" y="53.5" width=".7" height=".7" fill="#36b5a8"/><rect x="271.4" y="56.9" width=".7" height=".7" fill="#31aeb7"/><rect x="278.8" y="82.7" width=".7" height=".7" fill="#53bf77"/><rect x="276.2" y="67.3" width=".7" height=".7" fill="#35b4a9"/><rect x="282.5" y="72.5" width=".7" height=".7" fill="#289ed6"/><rect x="278.4" y="80.2" width=".7" height=".7" fill="#289ed6"/><rect x="273.4" y="54.2" width=".7" height=".7" fill="#30acbb"/><rect x="280.8" y="60.4" width=".7" height=".7" fill="#32afb5"/><rect x="272.4" y="54.8" width=".7" height=".7" fill="#40be8f"/><rect x="280.4" y="65.2" width=".7" height=".7" fill="#287ccb"/><rect x="279.8" y="63.1" width=".7" height=".7" fill="#42be8d"/><rect x="271.5" y="57.8" width=".7" height=".7" fill="#53bf76"/><rect x="280.8" y="60.3" width=".7" height=".7" fill="#31aeb7"/><rect x="277.6" y="75.6" width=".7" height=".7" fill="#57c070"/><rect x="276.3" y="72.8" width=".7" height=".7" fill="#2fabbd"/><rect x="280.8" y="55.9" width=".7" height=".7" fill="#34b3ad"/><rect x="277.9" y="76.3" width=".7" height=".7" fill="#31aeb7"/><rect x="279.3" y="54.4" width=".7" height=".7" fill="#67c15c"/><rect x="278.3" y="78.0" width=".7" height=".7" fill="#55c074"/><rect x="282.6" y="77.1" width=".7" height=".7" fill="#53bf76"/><rect x="279.0" y="54.2" width=".7" height=".7" fill="#2ba5cb"/><rect x="277.3" y="53.6" width=".7" height=".7" fill="#37b7a3"/><rect x="281.7" y="69.9" width=".7" height=".7" fill="#2ba5ca"/><rect x="282.1" y="80.7" width=".7" height=".7" fill="#38b8a1"/><rect x="278.6" y="81.2" width=".7" height=".7" fill="#3ebe92"/><rect x="274.4" y="64.8" width=".7" height=".7" fill="#60c165"/><rect x="280.5" y="55.6" width=".7" height=".7" fill="#35b4aa"/><rect x="276.5" y="67.8" width=".7" height=".7" fill="#39ba9d"/><rect x="272.9" y="54.6" width=".7" height=".7" fill="#36b5a9"/><rect x="282.1" y="80.9" width=".7" height=".7" fill="#2ca7c7"/><rect x="282.4" y="84.4" width=".7" height=".7" fill="#6ec253"/><rect x="273.0" y="62.6" width=".7" height=".7" fill="#3bbd97"/><rect x="282.3" y="82.4" width=".7" height=".7" fill="#65c15e"/><rect x="276.6" y="68.6" width=".7" height=".7" fill="#4dbf7f"/><rect x="282.8" y="74.4" width=".7" height=".7" fill="#2ba4cc"/><rect x="280.3" y="61.3" width=".7" height=".7" fill="#31aeb7"/><rect x="276.5" y="69.1" width=".7" height=".7" fill="#47be86"/><rect x="280.7" y="56.0" width=".7" height=".7" fill="#4ebf7c"/><rect x="276.2" y="71.9" width=".7" height=".7" fill="#48bf85"/><rect x="282.3" y="82.9" width=".7" height=".7" fill="#38b8a2"/><rect x="280.9" y="85.9" width=".7" height=".7" fill="#50bf7b"/><rect x="272.1" y="55.5" width=".7" height=".7" fill="#2ea9c1"/><rect x="279.9" y="64.6" width=".7" height=".7" fill="#35b4a9"/><rect x="281.5" y="85.7" width=".7" height=".7" fill="#2ca7c6"/><rect x="280.4" y="85.7" width=".7" height=".7" fill="#56c072"/><rect x="281.3" y="58.2" width=".7" height=".7" fill="#3dbe94"/><rect x="278.7" y="81.1" width=".7" height=".7" fill="#4bbf81"/><rect x="272.3" y="55.4" width=".7" height=".7" fill="#36b5a9"/><rect x="281.1" y="68.1" width=".7" height=".7" fill="#2885ce"/><rect x="278.8" y="81.8" width=".7" height=".7" fill="#30adb9"/><rect x="271.7" y="57.3" width=".7" height=".7" fill="#3abb9b"/><rect x="271.8" y="56.3" width=".7" height=".7" fill="#39ba9e"/><rect x="279.8" y="62.3" width=".7" height=".7" fill="#55c073"/><rect x="278.2" y="54.0" width=".7" height=".7" fill="#5ec067"/><rect x="280.9" y="67.1" width=".7" height=".7" fill="#33b1b1"/><rect x="282.3" y="77.7" width=".7" height=".7" fill="#51bf79"/><rect x="274.0" y="54.1" width=".7" height=".7" fill="#28a0d6"/><rect x="276.7" y="67.3" width=".7" height=".7" fill="#4cbf7f"/><rect x="275.1" y="65.4" width=".7" height=".7" fill="#2894d3"/><rect x="280.1" y="85.3" width=".7" height=".7" fill="#46be88"/><rect x="276.3" y="71.5" width=".7" height=".7" fill="#288fd1"/><rect x="280.5" y="66.1" width=".7" height=".7" fill="#46be87"/><rect x="281.0" y="68.0" width=".7" height=".7" fill="#74c24a"/><rect x="274.2" y="64.4" width=".7" height=".7" fill="#38b8a2"/><rect x="276.3" y="70.9" width=".7" height=".7" fill="#50bf7b"/><rect x="271.8" y="56.9" width=".7" height=".7" fill="#61c163"/><rect x="271.8" y="57.1" width=".7" height=".7" fill="#2883ce"/><rect x="280.9" y="67.4" width=".7" height=".7" fill="#289bd5"/><rect x="272.7" y="55.0" width=".7" height=".7" fill="#3abb9b"/><rect x="280.5" y="66.2" width=".7" height=".7" fill="#2faabf"/><rect x="276.0" y="66.0" width=".7" height=".7" fill="#36b5a9"/><rect x="279.1" y="82.4" width=".7" height=".7" fill="#d6cc32"/><rect x="282.1" y="83.5" width=".7" height=".7" fill="#8ec541"/><rect x="280.1" y="85.1" width=".7" height=".7" fill="#50bf7a"/><rect x="280.6" y="56.1" width=".7" height=".7" fill="#33b1b0"/><rect x="282.0" y="82.4" width=".7" height=".7" fill="#4dbf7e"/><rect x="276.9" y="69.2" width=".7" height=".7" fill="#45be89"/><rect x="276.2" y="66.2" width=".7" height=".7" fill="#39b99f"/><rect x="273.8" y="63.7" width=".7" height=".7" fill="#82c443"/><rect x="276.4" y="71.3" width=".7" height=".7" fill="#289fd6"/><rect x="281.8" y="71.1" width=".7" height=".7" fill="#7ec344"/><rect x="281.1" y="58.9" width=".7" height=".7" fill="#36b6a6"/><rect x="278.9" y="54.5" width=".7" height=".7" fill="#70c250"/><rect x="282.0" y="82.5" width=".7" height=".7" fill="#39ba9c"/><rect x="282.5" y="74.1" width=".7" height=".7" fill="#35b4aa"/><rect x="281.8" y="80.9" width=".7" height=".7" fill="#34b2ad"/><rect x="282.0" y="82.3" width=".7" height=".7" fill="#44be8a"/><rect x="280.4" y="85.1" width=".7" height=".7" fill="#49bf84"/><rect x="280.0" y="84.7" width=".7" height=".7" fill="#e2b82d"/><rect x="281.8" y="81.5" width=".7" height=".7" fill="#85c443"/><rect x="273.7" y="54.5" width=".7" height=".7" fill="#3bbd97"/><rect x="279.9" y="84.4" width=".7" height=".7" fill="#2fabbe"/><rect x="271.9" y="57.6" width=".7" height=".7" fill="#3fbe90"/><rect x="278.9" y="81.0" width=".7" height=".7" fill="#54c075"/><rect x="272.0" y="58.0" width=".7" height=".7" fill="#2aa4cd"/><rect x="281.3" y="85.1" width=".7" height=".7" fill="#3dbe94"/><rect x="273.5" y="63.2" width=".7" height=".7" fill="#74c24b"/><rect x="281.0" y="85.2" width=".7" height=".7" fill="#37b7a4"/><rect x="276.7" y="53.9" width=".7" height=".7" fill="#2ca6c9"/><rect x="274.7" y="54.1" width=".7" height=".7" fill="#5ec068"/><rect x="273.0" y="62.0" width=".7" height=".7" fill="#8dc541"/><rect x="272.2" y="56.0" width=".7" height=".7" fill="#3abb9a"/><rect x="280.4" y="85.0" width=".7" height=".7" fill="#46be88"/><rect x="276.7" y="72.3" width=".7" height=".7" fill="#71c24e"/><rect x="280.1" y="65.7" width=".7" height=".7" fill="#56c072"/><rect x="282.0" y="77.8" width=".7" height=".7" fill="#35b4a9"/><rect x="273.4" y="63.0" width=".7" height=".7" fill="#39ba9d"/><rect x="277.1" y="67.3" width=".7" height=".7" fill="#3dbe94"/><rect x="281.0" y="68.6" width=".7" height=".7" fill="#41be8f"/><rect x="272.1" y="58.0" width=".7" height=".7" fill="#73c24c"/><rect x="278.8" y="78.4" width=".7" height=".7" fill="#32b0b3"/><rect x="280.0" y="84.3" width=".7" height=".7" fill="#52bf77"/><rect x="280.5" y="85.0" width=".7" height=".7" fill="#3bbd96"/><rect x="281.9" y="82.6" width=".7" height=".7" fill="#28a0d5"/><rect x="275.3" y="65.2" width=".7" height=".7" fill="#62c163"/><rect x="277.9" y="75.2" width=".7" height=".7" fill="#49bf84"/><rect x="272.6" y="60.3" width=".7" height=".7" fill="#30acbb"/><rect x="278.9" y="79.7" width=".7" height=".7" fill="#2ba5cb"/><rect x="281.1" y="57.9" width=".7" height=".7" fill="#6cc255"/><rect x="278.8" y="78.0" width=".7" height=".7" fill="#a0c73d"/><rect x="282.5" y="75.1" width=".7" height=".7" fill="#48bf85"/><rect x="274.6" y="64.5" width=".7" height=".7" fill="#3bbd96"/><rect x="281.2" y="69.4" width=".7" height=".7" fill="#64c160"/><rect x="281.0" y="68.9" width=".7" height=".7" fill="#37b7a4"/><rect x="278.7" y="77.1" width=".7" height=".7" fill="#38b99f"/><rect x="273.2" y="54.9" width=".7" height=".7" fill="#6ec252"/><rect x="279.5" y="83.0" width=".7" height=".7" fill="#32b0b4"/><rect x="281.6" y="84.3" width=".7" height=".7" fill="#77c246"/><rect x="281.1" y="69.2" width=".7" height=".7" fill="#53bf76"/><rect x="279.4" y="64.0" width=".7" height=".7" fill="#86c443"/><rect x="276.8" y="72.3" width=".7" height=".7" fill="#2ba5ca"/><rect x="282.0" y="72.2" width=".7" height=".7" fill="#86c442"/><rect x="277.5" y="74.3" width=".7" height=".7" fill="#43be8b"/><rect x="273.0" y="55.1" width=".7" height=".7" fill="#63c161"/><rect x="274.0" y="63.9" width=".7" height=".7" fill="#36b5a7"/><rect x="277.8" y="74.8" width=".7" height=".7" fill="#34b2ae"/><rect x="277.4" y="68.0" width=".7" height=".7" fill="#7cc344"/><rect x="282.4" y="74.5" width=".7" height=".7" fill="#5dc068"/><rect x="281.8" y="82.9" width=".7" height=".7" fill="#61c164"/><rect x="273.2" y="62.2" width=".7" height=".7" fill="#67c15c"/><rect x="280.0" y="55.6" width=".7" height=".7" fill="#64c160"/><rect x="277.3" y="73.6" width=".7" height=".7" fill="#2faabf"/><rect x="275.6" y="65.3" width=".7" height=".7" fill="#3dbe93"/><rect x="282.3" y="75.9" width=".7" height=".7" fill="#3cbe95"/><rect x="281.5" y="79.8" width=".7" height=".7" fill="#cbcb34"/><rect x="281.7" y="83.7" width=".7" height=".7" fill="#92c540"/><rect x="281.5" y="84.1" width=".7" height=".7" fill="#36b6a7"/><rect x="282.4" y="75.1" width=".7" height=".7" fill="#30acbb"/><rect x="280.3" y="56.0" width=".7" height=".7" fill="#6bc156"/><rect x="281.9" y="72.0" width=".7" height=".7" fill="#65c15e"/><rect x="279.0" y="80.5" width=".7" height=".7" fill="#98c63f"/><rect x="277.2" y="73.5" width=".7" height=".7" fill="#34b2ae"/><rect x="282.4" y="75.0" width=".7" height=".7" fill="#b2c939"/><rect x="276.9" y="72.3" width=".7" height=".7" fill="#56c072"/><rect x="276.8" y="71.3" width=".7" height=".7" fill="#93c540"/><rect x="282.0" y="77.0" width=".7" height=".7" fill="#5bc06c"/><rect x="281.5" y="80.8" width=".7" height=".7" fill="#3dbe94"/><rect x="281.5" y="79.3" width=".7" height=".7" fill="#38b8a1"/><rect x="281.5" y="83.9" width=".7" height=".7" fill="#9cc63e"/><rect x="277.1" y="72.9" width=".7" height=".7" fill="#2886cf"/><rect x="275.7" y="54.1" width=".7" height=".7" fill="#86c442"/><rect x="274.6" y="64.4" width=".7" height=".7" fill="#6ec252"/><rect x="281.5" y="81.4" width=".7" height=".7" fill="#39ba9c"/><rect x="279.1" y="79.8" width=".7" height=".7" fill="#72c24d"/><rect x="277.6" y="67.9" width=".7" height=".7" fill="#4bbf80"/><rect x="277.7" y="74.3" width=".7" height=".7" fill="#33b1b0"/><rect x="278.2" y="75.3" width=".7" height=".7" fill="#45be89"/><rect x="273.6" y="63.1" width=".7" height=".7" fill="#6bc156"/><rect x="280.2" y="66.9" width=".7" height=".7" fill="#54c075"/><rect x="281.6" y="71.2" width=".7" height=".7" fill="#39ba9e"/><rect x="279.3" y="81.6" width=".7" height=".7" fill="#70c250"/><rect x="275.5" y="65.1" width=".7" height=".7" fill="#72c24c"/><rect x="272.6" y="59.3" width=".7" height=".7" fill="#97c63f"/><rect x="277.5" y="67.2" width=".7" height=".7" fill="#5cc06a"/><rect x="280.2" y="66.9" width=".7" height=".7" fill="#b0c83a"/><rect x="277.2" y="66.6" width=".7" height=".7" fill="#3abb9b"/><rect x="281.2" y="70.0" width=".7" height=".7" fill="#40be8f"/><rect x="279.1" y="78.4" width=".7" height=".7" fill="#33b0b3"/><rect x="282.3" y="74.7" width=".7" height=".7" fill="#51bf79"/><rect x="280.8" y="57.2" width=".7" height=".7" fill="#56c072"/><rect x="280.9" y="58.0" width=".7" height=".7" fill="#53bf77"/><rect x="281.9" y="77.1" width=".7" height=".7" fill="#34b3ad"/><rect x="279.4" y="65.1" width=".7" height=".7" fill="#89c442"/><rect x="280.4" y="60.0" width=".7" height=".7" fill="#30acbb"/><rect x="272.3" y="57.0" width=".7" height=".7" fill="#38b8a2"/><rect x="279.7" y="82.8" width=".7" height=".7" fill="#2892d2"/><rect x="272.4" y="56.8" width=".7" height=".7" fill="#8cc541"/><rect x="280.3" y="67.4" width=".7" height=".7" fill="#78c345"/><rect x="278.8" y="54.8" width=".7" height=".7" fill="#4dbf7e"/><rect x="279.2" y="79.2" width=".7" height=".7" fill="#64c160"/><rect x="277.3" y="66.5" width=".7" height=".7" fill="#35b4ab"/><rect x="279.2" y="80.0" width=".7" height=".7" fill="#37b6a5"/><rect x="277.8" y="54.4" width=".7" height=".7" fill="#38b8a1"/><rect x="281.3" y="80.5" width=".7" height=".7" fill="#64c15f"/><rect x="280.8" y="57.3" width=".7" height=".7" fill="#46be88"/><rect x="280.7" y="84.0" width=".7" height=".7" fill="#5fc067"/><rect x="277.8" y="74.4" width=".7" height=".7" fill="#37b7a4"/><rect x="279.9" y="83.0" width=".7" height=".7" fill="#34b3ad"/><rect x="272.4" y="57.6" width=".7" height=".7" fill="#6ac157"/><rect x="281.1" y="83.9" width=".7" height=".7" fill="#65c15f"/><rect x="281.4" y="70.6" width=".7" height=".7" fill="#6cc255"/><rect x="272.4" y="56.9" width=".7" height=".7" fill="#3dbe93"/><rect x="272.5" y="58.2" width=".7" height=".7" fill="#65c15e"/><rect x="275.9" y="54.3" width=".7" height=".7" fill="#33b0b3"/><rect x="281.2" y="80.6" width=".7" height=".7" fill="#37b7a3"/><rect x="280.5" y="59.8" width=".7" height=".7" fill="#68c15a"/><rect x="281.0" y="83.7" width=".7" height=".7" fill="#39ba9e"/><rect x="280.6" y="56.8" width=".7" height=".7" fill="#36b6a7"/><rect x="280.6" y="59.4" width=".7" height=".7" fill="#39ba9d"/><rect x="282.1" y="75.7" width=".7" height=".7" fill="#cecc33"/><rect x="277.1" y="71.8" width=".7" height=".7" fill="#49bf84"/><rect x="282.1" y="74.5" width=".7" height=".7" fill="#69c159"/><rect x="281.2" y="80.2" width=".7" height=".7" fill="#55c073"/><rect x="280.8" y="69.3" width=".7" height=".7" fill="#e9ac2a"/><rect x="281.3" y="78.7" width=".7" height=".7" fill="#59c06f"/><rect x="277.9" y="67.4" width=".7" height=".7" fill="#9ec73d"/><rect x="272.5" y="58.2" width=".7" height=".7" fill="#96c63f"/><rect x="279.7" y="66.4" width=".7" height=".7" fill="#71c24e"/><rect x="281.2" y="78.8" width=".7" height=".7" fill="#5fc066"/><rect x="274.3" y="54.7" width=".7" height=".7" fill="#34b3ad"/><rect x="277.8" y="74.0" width=".7" height=".7" fill="#78c345"/><rect x="279.2" y="77.4" width=".7" height=".7" fill="#e4b42c"/><rect x="277.9" y="67.1" width=".7" height=".7" fill="#78c345"/><rect x="279.9" y="60.9" width=".7" height=".7" fill="#e1b92d"/><rect x="279.4" y="78.9" width=".7" height=".7" fill="#89c442"/><rect x="280.3" y="56.4" width=".7" height=".7" fill="#9bc63e"/><rect x="274.4" y="54.7" width=".7" height=".7" fill="#4ebf7d"/><rect x="282.1" y="75.2" width=".7" height=".7" fill="#5dc069"/><rect x="279.0" y="64.6" width=".7" height=".7" fill="#78c345"/><rect x="281.1" y="80.2" width=".7" height=".7" fill="#b0c83a"/><rect x="281.7" y="72.1" width=".7" height=".7" fill="#3abc99"/><rect x="279.6" y="81.6" width=".7" height=".7" fill="#36b6a7"/><rect x="279.4" y="79.0" width=".7" height=".7" fill="#5fc066"/><rect x="281.1" y="79.7" width=".7" height=".7" fill="#5fc066"/><rect x="279.2" y="65.4" width=".7" height=".7" fill="#7ac345"/><rect x="279.5" y="80.7" width=".7" height=".7" fill="#dbc530"/><rect x="277.7" y="73.8" width=".7" height=".7" fill="#4cbf7f"/><rect x="279.2" y="65.3" width=".7" height=".7" fill="#dfbd2e"/><rect x="281.1" y="82.4" width=".7" height=".7" fill="#85c443"/><rect x="277.8" y="73.9" width=".7" height=".7" fill="#67c15c"/><rect x="277.7" y="66.6" width=".7" height=".7" fill="#34b3ad"/><rect x="276.4" y="65.4" width=".7" height=".7" fill="#d5cc32"/><rect x="279.1" y="62.7" width=".7" height=".7" fill="#dec02f"/><rect x="281.4" y="77.9" width=".7" height=".7" fill="#80c344"/><rect x="279.5" y="80.9" width=".7" height=".7" fill="#83c443"/><rect x="281.0" y="81.0" width=".7" height=".7" fill="#55c074"/><rect x="280.7" y="83.2" width=".7" height=".7" fill="#32afb4"/><rect x="278.7" y="75.7" width=".7" height=".7" fill="#45be89"/><rect x="280.5" y="83.1" width=".7" height=".7" fill="#37b7a4"/><rect x="280.0" y="60.7" width=".7" height=".7" fill="#38b8a1"/><rect x="281.0" y="82.4" width=".7" height=".7" fill="#44be8b"/><rect x="277.4" y="70.7" width=".7" height=".7" fill="#4fbf7b"/><rect x="273.0" y="60.3" width=".7" height=".7" fill="#85c443"/><rect x="277.3" y="71.0" width=".7" height=".7" fill="#cacb34"/><rect x="279.4" y="66.2" width=".7" height=".7" fill="#5fc066"/><rect x="280.9" y="80.1" width=".7" height=".7" fill="#9fc73d"/><rect x="278.9" y="76.0" width=".7" height=".7" fill="#5ac06d"/><rect x="277.4" y="66.0" width=".7" height=".7" fill="#5cc06a"/><rect x="273.1" y="60.6" width=".7" height=".7" fill="#79c345"/><rect x="278.2" y="54.7" width=".7" height=".7" fill="#4fbf7c"/><rect x="278.1" y="74.4" width=".7" height=".7" fill="#75c249"/><rect x="280.8" y="82.7" width=".7" height=".7" fill="#55c073"/><rect x="279.0" y="65.4" width=".7" height=".7" fill="#45be89"/><rect x="281.3" y="78.0" width=".7" height=".7" fill="#4ebf7d"/><rect x="281.3" y="77.8" width=".7" height=".7" fill="#d9c730"/><rect x="279.6" y="79.3" width=".7" height=".7" fill="#76c248"/><rect x="280.1" y="60.2" width=".7" height=".7" fill="#58c070"/><rect x="280.5" y="82.8" width=".7" height=".7" fill="#73c24c"/><rect x="280.9" y="79.3" width=".7" height=".7" fill="#4bbf81"/><rect x="277.8" y="69.8" width=".7" height=".7" fill="#58c070"/><rect x="278.9" y="65.3" width=".7" height=".7" fill="#5dc069"/><rect x="280.6" y="82.6" width=".7" height=".7" fill="#36b5a8"/><rect x="279.2" y="76.7" width=".7" height=".7" fill="#65c15e"/><rect x="281.0" y="70.2" width=".7" height=".7" fill="#87c442"/><rect x="279.4" y="66.7" width=".7" height=".7" fill="#7ac345"/><rect x="279.4" y="77.2" width=".7" height=".7" fill="#67c15c"/><rect x="279.1" y="66.0" width=".7" height=".7" fill="#beca37"/><rect x="272.9" y="56.3" width=".7" height=".7" fill="#4abf82"/><rect x="278.4" y="68.3" width=".7" height=".7" fill="#c3ca36"/><rect x="273.3" y="55.6" width=".7" height=".7" fill="#b8c938"/><rect x="280.0" y="68.2" width=".7" height=".7" fill="#77c246"/><rect x="278.4" y="67.2" width=".7" height=".7" fill="#dbc430"/><rect x="280.4" y="82.4" width=".7" height=".7" fill="#4dbf7e"/><rect x="278.0" y="66.3" width=".7" height=".7" fill="#7dc344"/><rect x="279.1" y="76.3" width=".7" height=".7" fill="#6ac158"/><rect x="281.9" y="75.1" width=".7" height=".7" fill="#4fbf7b"/><rect x="278.6" y="54.9" width=".7" height=".7" fill="#63c161"/><rect x="279.1" y="76.2" width=".7" height=".7" fill="#8cc541"/><rect x="280.0" y="68.2" width=".7" height=".7" fill="#8cc541"/><rect x="281.3" y="71.3" width=".7" height=".7" fill="#a0c73d"/><rect x="280.1" y="81.9" width=".7" height=".7" fill="#55c073"/><rect x="281.4" y="77.3" width=".7" height=".7" fill="#6dc253"/><rect x="278.5" y="67.3" width=".7" height=".7" fill="#6dc253"/><rect x="273.5" y="62.2" width=".7" height=".7" fill="#56c072"/><rect x="279.0" y="66.0" width=".7" height=".7" fill="#72c24d"/><rect x="279.9" y="81.3" width=".7" height=".7" fill="#33b1b1"/><rect x="278.6" y="68.0" width=".7" height=".7" fill="#42be8d"/><rect x="280.0" y="68.5" width=".7" height=".7" fill="#5ec067"/><rect x="281.8" y="75.5" width=".7" height=".7" fill="#64c160"/><rect x="278.3" y="66.5" width=".7" height=".7" fill="#a6c73c"/><rect x="279.7" y="78.2" width=".7" height=".7" fill="#5cc06a"/><rect x="272.7" y="57.7" width=".7" height=".7" fill="#e3b72d"/><rect x="280.9" y="78.4" width=".7" height=".7" fill="#3abc9a"/><rect x="277.9" y="66.0" width=".7" height=".7" fill="#e7af2b"/><rect x="279.8" y="79.6" width=".7" height=".7" fill="#4dbf7e"/><rect x="278.8" y="55.1" width=".7" height=".7" fill="#45be89"/><rect x="278.8" y="67.4" width=".7" height=".7" fill="#56c072"/><rect x="280.0" y="81.0" width=".7" height=".7" fill="#5bc06b"/><rect x="277.9" y="69.9" width=".7" height=".7" fill="#6ac158"/><rect x="273.2" y="55.9" width=".7" height=".7" fill="#63c161"/><rect x="280.7" y="79.2" width=".7" height=".7" fill="#9cc63e"/><rect x="278.8" y="66.7" width=".7" height=".7" fill="#b7c938"/><rect x="277.4" y="54.6" width=".7" height=".7" fill="#4abf82"/><rect x="278.9" y="67.0" width=".7" height=".7" fill="#d9c831"/><rect x="279.9" y="79.9" width=".7" height=".7" fill="#8dc541"/><rect x="278.9" y="67.0" width=".7" height=".7" fill="#78c345"/><rect x="278.6" y="66.3" width=".7" height=".7" fill="#c0ca36"/><rect x="278.6" y="66.2" width=".7" height=".7" fill="#75c249"/><rect x="280.1" y="80.9" width=".7" height=".7" fill="#dfbd2e"/><rect x="277.5" y="71.4" width=".7" height=".7" fill="#46be88"/><rect x="275.9" y="54.6" width=".7" height=".7" fill="#dac730"/><rect x="280.4" y="80.0" width=".7" height=".7" fill="#66c15d"/><rect x="279.8" y="78.2" width=".7" height=".7" fill="#bac938"/><rect x="279.7" y="77.7" width=".7" height=".7" fill="#67c15b"/><rect x="280.1" y="80.6" width=".7" height=".7" fill="#e6b12b"/><rect x="280.3" y="80.9" width=".7" height=".7" fill="#9ec73d"/><rect x="272.8" y="57.9" width=".7" height=".7" fill="#bdca37"/><rect x="280.0" y="68.7" width=".7" height=".7" fill="#4fbf7c"/><rect x="280.3" y="80.6" width=".7" height=".7" fill="#3dbe93"/><rect x="280.3" y="80.4" width=".7" height=".7" fill="#95c63f"/><rect x="278.0" y="65.8" width=".7" height=".7" fill="#e3b62d"/><rect x="280.6" y="58.7" width=".7" height=".7" fill="#8fc540"/><rect x="280.3" y="79.8" width=".7" height=".7" fill="#3fbe91"/><rect x="277.7" y="70.6" width=".7" height=".7" fill="#e8ad2a"/><rect x="278.3" y="69.5" width=".7" height=".7" fill="#68c15a"/><rect x="277.3" y="54.6" width=".7" height=".7" fill="#c3ca36"/><rect x="281.8" y="74.4" width=".7" height=".7" fill="#5cc06b"/><rect x="275.8" y="54.6" width=".7" height=".7" fill="#60c164"/><rect x="278.2" y="65.7" width=".7" height=".7" fill="#9ec73d"/><rect x="281.4" y="76.7" width=".7" height=".7" fill="#31aeb7"/><rect x="278.7" y="63.5" width=".7" height=".7" fill="#55c073"/><rect x="276.8" y="54.6" width=".7" height=".7" fill="#6ec253"/><rect x="280.6" y="58.4" width=".7" height=".7" fill="#6ec252"/><rect x="273.1" y="56.2" width=".7" height=".7" fill="#3bbd96"/><rect x="280.9" y="77.6" width=".7" height=".7" fill="#dac630"/><rect x="278.6" y="55.1" width=".7" height=".7" fill="#76c247"/><rect x="273.2" y="60.2" width=".7" height=".7" fill="#7ac345"/><rect x="278.1" y="70.0" width=".7" height=".7" fill="#39b99e"/><rect x="277.8" y="70.8" width=".7" height=".7" fill="#81c344"/><rect x="277.8" y="73.0" width=".7" height=".7" fill="#beca37"/><rect x="278.4" y="74.4" width=".7" height=".7" fill="#cfcc33"/><rect x="278.1" y="65.4" width=".7" height=".7" fill="#bbca37"/><rect x="276.2" y="54.6" width=".7" height=".7" fill="#83c443"/><rect x="281.1" y="77.3" width=".7" height=".7" fill="#77c246"/><rect x="281.2" y="76.9" width=".7" height=".7" fill="#98c63f"/><rect x="280.5" y="78.1" width=".7" height=".7" fill="#c1ca36"/><rect x="273.6" y="55.7" width=".7" height=".7" fill="#78c345"/><rect x="279.3" y="68.6" width=".7" height=".7" fill="#79c345"/><rect x="280.6" y="77.8" width=".7" height=".7" fill="#abc83b"/><rect x="279.9" y="77.3" width=".7" height=".7" fill="#77c246"/><rect x="275.6" y="64.5" width=".7" height=".7" fill="#a2c73d"/><rect x="279.5" y="61.1" width=".7" height=".7" fill="#98c63f"/><rect x="279.6" y="60.9" width=".7" height=".7" fill="#5cc06a"/><rect x="281.7" y="74.6" width=".7" height=".7" fill="#e6b02b"/><rect x="277.2" y="54.7" width=".7" height=".7" fill="#c6cb35"/><rect x="279.6" y="68.8" width=".7" height=".7" fill="#5dc068"/><rect x="277.9" y="65.2" width=".7" height=".7" fill="#5cc06b"/><rect x="278.3" y="70.0" width=".7" height=".7" fill="#6fc250"/><rect x="278.4" y="74.1" width=".7" height=".7" fill="#6bc156"/><rect x="273.3" y="60.6" width=".7" height=".7" fill="#5bc06b"/><rect x="280.2" y="69.5" width=".7" height=".7" fill="#a3c73c"/><rect x="274.0" y="55.5" width=".7" height=".7" fill="#77c246"/><rect x="273.5" y="55.9" width=".7" height=".7" fill="#5dc069"/><rect x="278.4" y="69.8" width=".7" height=".7" fill="#e8ad2b"/><rect x="281.6" y="74.4" width=".7" height=".7" fill="#77c247"/><rect x="279.3" y="69.0" width=".7" height=".7" fill="#adc83a"/><rect x="277.9" y="65.1" width=".7" height=".7" fill="#4ebf7d"/><rect x="277.4" y="65.1" width=".7" height=".7" fill="#58c070"/><rect x="280.7" y="77.2" width=".7" height=".7" fill="#5cc06a"/><rect x="275.4" y="54.9" width=".7" height=".7" fill="#dac730"/><rect x="280.3" y="77.3" width=".7" height=".7" fill="#d0cc33"/><rect x="279.9" y="69.3" width=".7" height=".7" fill="#82c443"/><rect x="279.3" y="61.4" width=".7" height=".7" fill="#7dc344"/><rect x="281.2" y="71.8" width=".7" height=".7" fill="#b1c939"/><rect x="277.8" y="72.3" width=".7" height=".7" fill="#63c160"/><rect x="273.5" y="61.3" width=".7" height=".7" fill="#83c443"/><rect x="278.6" y="69.8" width=".7" height=".7" fill="#dbc430"/><rect x="278.5" y="63.4" width=".7" height=".7" fill="#63c161"/><rect x="279.9" y="76.7" width=".7" height=".7" fill="#cecc33"/><rect x="280.4" y="77.2" width=".7" height=".7" fill="#91c540"/><rect x="278.3" y="64.0" width=".7" height=".7" fill="#a9c83b"/><rect x="280.4" y="77.1" width=".7" height=".7" fill="#8ec541"/><rect x="273.1" y="57.3" width=".7" height=".7" fill="#dac730"/><rect x="280.2" y="56.9" width=".7" height=".7" fill="#dac630"/><rect x="273.1" y="57.4" width=".7" height=".7" fill="#c9cb34"/><rect x="280.4" y="57.5" width=".7" height=".7" fill="#47be87"/><rect x="274.3" y="63.1" width=".7" height=".7" fill="#a7c83b"/><rect x="279.6" y="75.9" width=".7" height=".7" fill="#e3b72d"/><rect x="281.2" y="72.1" width=".7" height=".7" fill="#61c163"/><rect x="280.5" y="70.3" width=".7" height=".7" fill="#4cbf80"/><rect x="280.9" y="76.5" width=".7" height=".7" fill="#8dc541"/><rect x="281.1" y="76.2" width=".7" height=".7" fill="#dac630"/><rect x="281.3" y="75.5" width=".7" height=".7" fill="#57c070"/><rect x="280.5" y="76.8" width=".7" height=".7" fill="#bcca37"/><rect x="277.7" y="64.8" width=".7" height=".7" fill="#8ac442"/><rect x="274.3" y="63.2" width=".7" height=".7" fill="#9fc73d"/><rect x="274.9" y="63.8" width=".7" height=".7" fill="#c4cb35"/><rect x="280.1" y="56.9" width=".7" height=".7" fill="#94c63f"/><rect x="273.3" y="58.8" width=".7" height=".7" fill="#76c247"/><rect x="278.2" y="64.2" width=".7" height=".7" fill="#b2c939"/><rect x="280.1" y="76.6" width=".7" height=".7" fill="#eea328"/><rect x="279.8" y="69.6" width=".7" height=".7" fill="#d7cc31"/><rect x="275.0" y="63.9" width=".7" height=".7" fill="#d9c830"/><rect x="276.1" y="64.6" width=".7" height=".7" fill="#69c159"/><rect x="281.4" y="74.1" width=".7" height=".7" fill="#7dc344"/><rect x="279.4" y="69.5" width=".7" height=".7" fill="#59c06e"/><rect x="276.2" y="54.9" width=".7" height=".7" fill="#e0bc2e"/><rect x="281.0" y="76.1" width=".7" height=".7" fill="#e2b82d"/><rect x="278.1" y="71.3" width=".7" height=".7" fill="#cecc33"/><rect x="280.4" y="57.9" width=".7" height=".7" fill="#ddc22f"/><rect x="279.7" y="75.6" width=".7" height=".7" fill="#89c442"/><rect x="273.4" y="59.0" width=".7" height=".7" fill="#8ec541"/><rect x="278.0" y="64.3" width=".7" height=".7" fill="#e8ad2b"/><rect x="274.0" y="55.8" width=".7" height=".7" fill="#8dc541"/><rect x="280.8" y="76.0" width=".7" height=".7" fill="#e4b52c"/><rect x="280.7" y="76.2" width=".7" height=".7" fill="#ee8d26"/><rect x="281.1" y="72.7" width=".7" height=".7" fill="#64c15f"/><rect x="280.8" y="76.0" width=".7" height=".7" fill="#70c250"/><rect x="278.7" y="70.2" width=".7" height=".7" fill="#ed8525"/><rect x="277.3" y="55.0" width=".7" height=".7" fill="#e4b42c"/><rect x="280.7" y="71.0" width=".7" height=".7" fill="#ee9326"/><rect x="281.2" y="74.9" width=".7" height=".7" fill="#ed8425"/><rect x="281.2" y="74.4" width=".7" height=".7" fill="#9cc63e"/><rect x="278.2" y="63.7" width=".7" height=".7" fill="#eb6e23"/><rect x="281.1" y="73.0" width=".7" height=".7" fill="#efa128"/><rect x="279.2" y="69.9" width=".7" height=".7" fill="#e6b02b"/><rect x="273.8" y="61.7" width=".7" height=".7" fill="#d2cc32"/><rect x="277.7" y="55.1" width=".7" height=".7" fill="#9bc63e"/><rect x="279.5" y="75.0" width=".7" height=".7" fill="#7ac345"/><rect x="273.7" y="61.2" width=".7" height=".7" fill="#5dc069"/><rect x="274.5" y="55.5" width=".7" height=".7" fill="#76c247"/><rect x="273.5" y="58.2" width=".7" height=".7" fill="#7bc345"/><rect x="278.5" y="55.5" width=".7" height=".7" fill="#cbcb34"/><rect x="278.5" y="71.0" width=".7" height=".7" fill="#82c443"/><rect x="281.1" y="73.7" width=".7" height=".7" fill="#51bf79"/><rect x="279.6" y="70.1" width=".7" height=".7" fill="#cbcb34"/><rect x="273.7" y="56.5" width=".7" height=".7" fill="#46be88"/><rect x="275.2" y="63.9" width=".7" height=".7" fill="#a1c73d"/><rect x="280.2" y="58.0" width=".7" height=".7" fill="#e0bb2e"/><rect x="273.6" y="57.1" width=".7" height=".7" fill="#5cc06b"/><rect x="274.7" y="55.6" width=".7" height=".7" fill="#69c158"/><rect x="278.6" y="73.2" width=".7" height=".7" fill="#bbca37"/><rect x="280.9" y="72.4" width=".7" height=".7" fill="#ef9927"/><rect x="273.5" y="58.0" width=".7" height=".7" fill="#b6c938"/><rect x="280.1" y="57.4" width=".7" height=".7" fill="#9cc63e"/><rect x="273.6" y="59.6" width=".7" height=".7" fill="#d7cc31"/><rect x="280.7" y="75.1" width=".7" height=".7" fill="#54c074"/><rect x="275.0" y="55.5" width=".7" height=".7" fill="#5ec067"/><rect x="279.4" y="74.4" width=".7" height=".7" fill="#e2b82d"/><rect x="281.0" y="74.0" width=".7" height=".7" fill="#e5b32c"/><rect x="278.4" y="72.0" width=".7" height=".7" fill="#e0bc2e"/><rect x="280.0" y="70.5" width=".7" height=".7" fill="#d0cc33"/><rect x="280.6" y="71.6" width=".7" height=".7" fill="#ddc22f"/><rect x="280.9" y="73.9" width=".7" height=".7" fill="#56c072"/><rect x="279.0" y="61.4" width=".7" height=".7" fill="#72c24d"/><rect x="280.8" y="72.5" width=".7" height=".7" fill="#a6c73c"/><rect x="274.5" y="63.0" width=".7" height=".7" fill="#eaa92a"/><rect x="278.6" y="71.2" width=".7" height=".7" fill="#d7cc31"/><rect x="278.0" y="63.6" width=".7" height=".7" fill="#cccb34"/><rect x="280.9" y="73.6" width=".7" height=".7" fill="#72c24d"/><rect x="279.8" y="74.7" width=".7" height=".7" fill="#d5cc32"/><rect x="279.1" y="70.5" width=".7" height=".7" fill="#ddc22f"/><rect x="278.8" y="55.8" width=".7" height=".7" fill="#e2b92d"/><rect x="273.8" y="61.0" width=".7" height=".7" fill="#c2ca36"/><rect x="280.1" y="70.8" width=".7" height=".7" fill="#eb6e23"/><rect x="279.5" y="74.3" width=".7" height=".7" fill="#73c24c"/><rect x="280.6" y="71.8" width=".7" height=".7" fill="#eba829"/><rect x="279.9" y="74.7" width=".7" height=".7" fill="#6ec252"/><rect x="280.0" y="57.4" width=".7" height=".7" fill="#6fc251"/><rect x="277.3" y="55.3" width=".7" height=".7" fill="#e7af2b"/><rect x="279.6" y="74.3" width=".7" height=".7" fill="#b1c939"/><rect x="275.0" y="63.5" width=".7" height=".7" fill="#94c540"/><rect x="280.8" y="73.6" width=".7" height=".7" fill="#d7cc31"/><rect x="279.6" y="70.6" width=".7" height=".7" fill="#eb6e23"/><rect x="279.7" y="56.8" width=".7" height=".7" fill="#a3c73c"/><rect x="275.7" y="55.4" width=".7" height=".7" fill="#bac938"/><rect x="280.6" y="72.1" width=".7" height=".7" fill="#ed8525"/><rect x="276.3" y="55.3" width=".7" height=".7" fill="#a8c83b"/><rect x="279.2" y="60.7" width=".7" height=".7" fill="#eb6e23"/><rect x="276.4" y="64.1" width=".7" height=".7" fill="#73c24c"/><rect x="279.8" y="57.0" width=".7" height=".7" fill="#c7cb35"/><rect x="280.5" y="71.9" width=".7" height=".7" fill="#ef9d27"/><rect x="280.0" y="57.5" width=".7" height=".7" fill="#c7cb35"/><rect x="278.9" y="72.9" width=".7" height=".7" fill="#b2c939"/><rect x="276.7" y="64.2" width=".7" height=".7" fill="#6fc251"/><rect x="278.7" y="71.8" width=".7" height=".7" fill="#d1cc33"/><rect x="280.2" y="71.3" width=".7" height=".7" fill="#eea328"/><rect x="278.9" y="71.3" width=".7" height=".7" fill="#c7cb35"/><rect x="277.5" y="63.9" width=".7" height=".7" fill="#8bc541"/><rect x="273.9" y="57.0" width=".7" height=".7" fill="#eb6e23"/><rect x="274.4" y="56.2" width=".7" height=".7" fill="#eea228"/><rect x="276.3" y="55.4" width=".7" height=".7" fill="#e8ae2b"/><rect x="273.8" y="60.6" width=".7" height=".7" fill="#cdcc33"/><rect x="276.8" y="64.1" width=".7" height=".7" fill="#99c63e"/><rect x="280.5" y="72.2" width=".7" height=".7" fill="#ec8124"/><rect x="275.0" y="63.4" width=".7" height=".7" fill="#dbc430"/><rect x="279.3" y="71.0" width=".7" height=".7" fill="#c2ca36"/><rect x="277.7" y="63.6" width=".7" height=".7" fill="#d3cc32"/><rect x="280.6" y="72.9" width=".7" height=".7" fill="#e4b52c"/><rect x="279.9" y="74.0" width=".7" height=".7" fill="#efa028"/><rect x="277.9" y="63.3" width=".7" height=".7" fill="#dac630"/><rect x="280.4" y="72.3" width=".7" height=".7" fill="#c4cb35"/><rect x="278.9" y="71.8" width=".7" height=".7" fill="#87c442"/><rect x="280.3" y="72.0" width=".7" height=".7" fill="#cecc33"/><rect x="279.1" y="71.7" width=".7" height=".7" fill="#d4cc32"/><rect x="280.3" y="72.4" width=".7" height=".7" fill="#e3b62c"/><rect x="280.1" y="73.5" width=".7" height=".7" fill="#dbc530"/><rect x="273.9" y="58.9" width=".7" height=".7" fill="#bbca37"/><rect x="279.1" y="72.0" width=".7" height=".7" fill="#d9c831"/><rect x="280.2" y="73.3" width=".7" height=".7" fill="#eba729"/><rect x="279.5" y="71.4" width=".7" height=".7" fill="#d9c730"/><rect x="274.6" y="56.4" width=".7" height=".7" fill="#d8ca31"/><rect x="276.3" y="63.9" width=".7" height=".7" fill="#d5cc32"/><rect x="275.6" y="55.7" width=".7" height=".7" fill="#cfcc33"/><rect x="280.0" y="73.2" width=".7" height=".7" fill="#e5b22c"/><rect x="279.7" y="71.6" width=".7" height=".7" fill="#eca629"/><rect x="279.3" y="72.0" width=".7" height=".7" fill="#d4cc32"/><rect x="274.1" y="57.9" width=".7" height=".7" fill="#d8c931"/><rect x="279.4" y="72.4" width=".7" height=".7" fill="#e7af2b"/><rect x="279.7" y="71.8" width=".7" height=".7" fill="#ef9c27"/><rect x="280.0" y="72.4" width=".7" height=".7" fill="#eb6e23"/><rect x="279.8" y="72.1" width=".7" height=".7" fill="#81c443"/><rect x="279.7" y="72.2" width=".7" height=".7" fill="#ee8f26"/><rect x="274.2" y="57.4" width=".7" height=".7" fill="#c8cb34"/><rect x="274.9" y="56.3" width=".7" height=".7" fill="#eea328"/><rect x="275.2" y="56.0" width=".7" height=".7" fill="#ed8525"/><rect x="279.8" y="58.7" width=".7" height=".7" fill="#eb6e23"/><rect x="274.1" y="58.4" width=".7" height=".7" fill="#c9cb34"/><rect x="278.4" y="56.0" width=".7" height=".7" fill="#eb7623"/><rect x="277.1" y="55.7" width=".7" height=".7" fill="#52bf78"/><rect x="274.4" y="57.0" width=".7" height=".7" fill="#e1ba2d"/><rect x="277.7" y="55.8" width=".7" height=".7" fill="#5bc06b"/><rect x="278.8" y="61.0" width=".7" height=".7" fill="#baca37"/><rect x="277.5" y="63.3" width=".7" height=".7" fill="#99c63e"/><rect x="279.8" y="57.9" width=".7" height=".7" fill="#7fc344"/><rect x="278.6" y="61.4" width=".7" height=".7" fill="#e0bc2e"/><rect x="279.4" y="57.0" width=".7" height=".7" fill="#9dc63e"/><rect x="278.3" y="56.1" width=".7" height=".7" fill="#99c63f"/><rect x="279.7" y="57.8" width=".7" height=".7" fill="#b7c938"/><rect x="275.9" y="55.9" width=".7" height=".7" fill="#cdcc33"/><rect x="276.8" y="63.7" width=".7" height=".7" fill="#eea328"/><rect x="275.8" y="56.0" width=".7" height=".7" fill="#d5cc32"/><rect x="274.2" y="61.1" width=".7" height=".7" fill="#aec83a"/><rect x="279.7" y="57.7" width=".7" height=".7" fill="#73c24c"/><rect x="276.6" y="55.8" width=".7" height=".7" fill="#ef9f27"/><rect x="278.1" y="62.2" width=".7" height=".7" fill="#e9ac2a"/><rect x="277.8" y="62.7" width=".7" height=".7" fill="#ef9827"/><rect x="275.1" y="63.0" width=".7" height=".7" fill="#c5cb35"/><rect x="274.5" y="57.5" width=".7" height=".7" fill="#eb6e23"/><rect x="279.0" y="56.7" width=".7" height=".7" fill="#ef9d27"/><rect x="275.8" y="56.1" width=".7" height=".7" fill="#eb6e23"/><rect x="274.6" y="57.5" width=".7" height=".7" fill="#dac730"/><rect x="279.6" y="58.7" width=".7" height=".7" fill="#ec7a24"/><rect x="278.8" y="60.9" width=".7" height=".7" fill="#eb6e23"/><rect x="274.3" y="60.6" width=".7" height=".7" fill="#ddc02f"/><rect x="279.6" y="58.6" width=".7" height=".7" fill="#e3b62d"/><rect x="277.4" y="63.0" width=".7" height=".7" fill="#d7cb31"/><rect x="277.6" y="62.8" width=".7" height=".7" fill="#ddc12f"/><rect x="275.8" y="56.3" width=".7" height=".7" fill="#ec7924"/><rect x="279.1" y="56.9" width=".7" height=".7" fill="#e9ab2a"/><rect x="274.9" y="57.2" width=".7" height=".7" fill="#aec83a"/><rect x="274.6" y="57.9" width=".7" height=".7" fill="#eb6e23"/><rect x="277.8" y="62.5" width=".7" height=".7" fill="#cbcb34"/><rect x="274.9" y="57.2" width=".7" height=".7" fill="#eb6e23"/><rect x="276.3" y="63.4" width=".7" height=".7" fill="#e6b02b"/><rect x="274.4" y="61.0" width=".7" height=".7" fill="#ec8024"/><rect x="277.3" y="56.1" width=".7" height=".7" fill="#ed8b25"/><rect x="277.0" y="63.2" width=".7" height=".7" fill="#eb7023"/><rect x="276.4" y="63.4" width=".7" height=".7" fill="#eb7023"/><rect x="277.6" y="56.2" width=".7" height=".7" fill="#eb6e23"/><rect x="276.8" y="63.2" width=".7" height=".7" fill="#d4cc32"/><rect x="274.4" y="60.5" width=".7" height=".7" fill="#a0c73d"/><rect x="274.8" y="57.7" width=".7" height=".7" fill="#84c443"/><rect x="279.1" y="59.9" width=".7" height=".7" fill="#6ec252"/><rect x="276.6" y="56.2" width=".7" height=".7" fill="#ee8d26"/><rect x="278.7" y="60.7" width=".7" height=".7" fill="#7ec344"/><rect x="274.6" y="61.6" width=".7" height=".7" fill="#8ac442"/><rect x="274.6" y="59.5" width=".7" height=".7" fill="#eda328"/><rect x="275.6" y="62.9" width=".7" height=".7" fill="#e0bb2e"/><rect x="277.5" y="56.3" width=".7" height=".7" fill="#eaaa2a"/><rect x="274.5" y="60.7" width=".7" height=".7" fill="#55c074"/><rect x="279.3" y="58.9" width=".7" height=".7" fill="#a7c73c"/><rect x="279.3" y="57.9" width=".7" height=".7" fill="#92c540"/><rect x="276.1" y="56.6" width=".7" height=".7" fill="#e7ae2b"/><rect x="276.8" y="56.5" width=".7" height=".7" fill="#e7af2b"/><rect x="274.7" y="61.7" width=".7" height=".7" fill="#ee9326"/><rect x="277.0" y="56.4" width=".7" height=".7" fill="#eb6e23"/><rect x="278.9" y="59.8" width=".7" height=".7" fill="#eb6e23"/><rect x="275.5" y="62.7" width=".7" height=".7" fill="#dcc32f"/><rect x="274.9" y="61.9" width=".7" height=".7" fill="#eb6e23"/><rect x="274.7" y="61.3" width=".7" height=".7" fill="#eb6e23"/><rect x="275.1" y="58.1" width=".7" height=".7" fill="#e7af2b"/><rect x="279.1" y="59.0" width=".7" height=".7" fill="#c4cb35"/><rect x="275.2" y="62.3" width=".7" height=".7" fill="#eb6e23"/><rect x="279.2" y="58.6" width=".7" height=".7" fill="#eb6e23"/><rect x="276.7" y="62.8" width=".7" height=".7" fill="#ec7824"/><rect x="277.9" y="61.6" width=".7" height=".7" fill="#d8c931"/><rect x="278.1" y="61.3" width=".7" height=".7" fill="#6cc254"/><rect x="279.0" y="59.1" width=".7" height=".7" fill="#c4cb35"/><rect x="278.5" y="57.2" width=".7" height=".7" fill="#eb6e23"/><rect x="277.7" y="56.8" width=".7" height=".7" fill="#eb6e23"/><rect x="279.0" y="58.8" width=".7" height=".7" fill="#c7cb35"/><rect x="278.5" y="60.3" width=".7" height=".7" fill="#ef9627"/><rect x="277.6" y="56.9" width=".7" height=".7" fill="#eb6e23"/><rect x="275.0" y="61.3" width=".7" height=".7" fill="#eb6e23"/><rect x="275.0" y="59.5" width=".7" height=".7" fill="#d1cc33"/><rect x="276.2" y="62.6" width=".7" height=".7" fill="#e8ae2b"/><rect x="278.9" y="58.7" width=".7" height=".7" fill="#eba829"/><rect x="275.3" y="62.0" width=".7" height=".7" fill="#c4cb35"/><rect x="278.2" y="57.3" width=".7" height=".7" fill="#eb6e23"/><rect x="278.7" y="59.4" width=".7" height=".7" fill="#8fc541"/><rect x="276.7" y="57.2" width=".7" height=".7" fill="#ec7c24"/><rect x="277.9" y="57.2" width=".7" height=".7" fill="#eb6e23"/><rect x="278.7" y="59.2" width=".7" height=".7" fill="#eb7423"/><rect x="278.5" y="57.7" width=".7" height=".7" fill="#eb6e23"/><rect x="276.5" y="57.4" width=".7" height=".7" fill="#71c24e"/><rect x="275.3" y="59.2" width=".7" height=".7" fill="#efa028"/><rect x="275.4" y="58.9" width=".7" height=".7" fill="#ed8225"/><rect x="275.3" y="59.3" width=".7" height=".7" fill="#ed8325"/><rect x="275.4" y="59.1" width=".7" height=".7" fill="#bac938"/><rect x="277.2" y="57.3" width=".7" height=".7" fill="#e9ab2a"/><rect x="277.1" y="61.9" width=".7" height=".7" fill="#dbc530"/><rect x="276.4" y="62.3" width=".7" height=".7" fill="#eb6e23"/><rect x="277.7" y="61.2" width=".7" height=".7" fill="#dfbd2e"/><rect x="277.7" y="57.4" width=".7" height=".7" fill="#eca529"/><rect x="277.6" y="61.3" width=".7" height=".7" fill="#eba729"/><rect x="276.6" y="62.1" width=".7" height=".7" fill="#eba829"/><rect x="278.4" y="58.2" width=".7" height=".7" fill="#eb6e23"/><rect x="278.2" y="58.0" width=".7" height=".7" fill="#eb6e23"/><rect x="275.7" y="58.9" width=".7" height=".7" fill="#eb6e23"/><rect x="275.4" y="61.0" width=".7" height=".7" fill="#e8ac2a"/><rect x="278.1" y="60.0" width=".7" height=".7" fill="#e6b12b"/><rect x="278.4" y="58.5" width=".7" height=".7" fill="#95c63f"/><rect x="276.2" y="58.3" width=".7" height=".7" fill="#ee8e26"/><rect x="275.7" y="61.7" width=".7" height=".7" fill="#eb7223"/><rect x="278.2" y="58.2" width=".7" height=".7" fill="#eda328"/><rect x="275.6" y="61.5" width=".7" height=".7" fill="#dbc530"/><rect x="276.6" y="61.9" width=".7" height=".7" fill="#eb6e23"/><rect x="277.0" y="61.7" width=".7" height=".7" fill="#eb6e23"/><rect x="276.3" y="61.9" width=".7" height=".7" fill="#ec7f24"/><rect x="277.0" y="61.6" width=".7" height=".7" fill="#eb6e23"/><rect x="277.9" y="60.3" width=".7" height=".7" fill="#eb7223"/><rect x="276.3" y="61.9" width=".7" height=".7" fill="#eb6e23"/><rect x="276.9" y="57.9" width=".7" height=".7" fill="#efa128"/><rect x="277.5" y="61.0" width=".7" height=".7" fill="#ec7b24"/><rect x="275.6" y="59.6" width=".7" height=".7" fill="#e5b32c"/><rect x="277.9" y="58.1" width=".7" height=".7" fill="#eb6e23"/><rect x="277.0" y="58.0" width=".7" height=".7" fill="#e8ad2a"/><rect x="275.6" y="60.1" width=".7" height=".7" fill="#eb6e23"/><rect x="275.6" y="60.0" width=".7" height=".7" fill="#ec7924"/><rect x="276.4" y="61.7" width=".7" height=".7" fill="#e2b82d"/><rect x="275.8" y="59.5" width=".7" height=".7" fill="#eb6e23"/><rect x="277.2" y="58.2" width=".7" height=".7" fill="#eb6e23"/><rect x="278.0" y="59.6" width=".7" height=".7" fill="#efa028"/><rect x="275.7" y="60.9" width=".7" height=".7" fill="#eb6e23"/><rect x="276.2" y="58.9" width=".7" height=".7" fill="#eb6e23"/><rect x="277.7" y="60.3" width=".7" height=".7" fill="#eba829"/><rect x="275.7" y="60.6" width=".7" height=".7" fill="#eb6e23"/><rect x="277.7" y="60.2" width=".7" height=".7" fill="#eb6e23"/><rect x="275.8" y="60.1" width=".7" height=".7" fill="#eb6e23"/><rect x="277.7" y="60.1" width=".7" height=".7" fill="#eb6e23"/><rect x="275.8" y="60.9" width=".7" height=".7" fill="#eb6e23"/><rect x="277.3" y="58.4" width=".7" height=".7" fill="#eb6e23"/><rect x="277.5" y="58.4" width=".7" height=".7" fill="#eb6e23"/><rect x="276.1" y="61.3" width=".7" height=".7" fill="#eb6e23"/><rect x="275.8" y="60.6" width=".7" height=".7" fill="#eb6e23"/><rect x="277.7" y="58.9" width=".7" height=".7" fill="#c9cb34"/><rect x="276.6" y="58.8" width=".7" height=".7" fill="#ee8c26"/><rect x="277.6" y="58.8" width=".7" height=".7" fill="#eb6e23"/><rect x="276.3" y="59.4" width=".7" height=".7" fill="#eb6e23"/><rect x="276.4" y="61.1" width=".7" height=".7" fill="#eb6e23"/><rect x="276.2" y="59.7" width=".7" height=".7" fill="#e5b22c"/><rect x="277.2" y="60.4" width=".7" height=".7" fill="#eb6e23"/><rect x="276.3" y="60.8" width=".7" height=".7" fill="#e5b22c"/><rect x="276.9" y="60.7" width=".7" height=".7" fill="#e0bc2e"/><rect x="276.2" y="60.6" width=".7" height=".7" fill="#d7cc31"/><rect x="276.3" y="60.7" width=".7" height=".7" fill="#a2c73c"/><rect x="276.8" y="59.3" width=".7" height=".7" fill="#eb6e23"/><rect x="276.6" y="60.6" width=".7" height=".7" fill="#eb6e23"/><rect x="277.0" y="59.4" width=".7" height=".7" fill="#6cc255"/><rect x="277.0" y="60.0" width=".7" height=".7" fill="#e6b12b"/><rect x="277.0" y="59.8" width=".7" height=".7" fill="#c0ca36"/><rect x="276.9" y="59.8" width=".7" height=".7" fill="#eb6e23"/><rect x="276.7" y="60.1" width=".7" height=".7" fill="#eaa92a"/></g><rect x="219.30" y="24.30" width="97.20" height="96.70" fill="none" stroke="#444" stroke-width="1" /><rect x="265.10" y="33.70" width="37.70" height="24.80" fill="none" stroke="#7ab648" stroke-width="1.4" /><rect x="269.00" y="79.80" width="34.60" height="31.50" fill="none" stroke="#4a5cb8" stroke-width="1.4" /><text x="284.40" y="32.20" font-size="8" fill="#7ab648" stroke="#7ab648" stroke-width="0.15" text-anchor="middle" >30%</text><text x="285.80" y="119.00" font-size="8" fill="#4a5cb8" stroke="#4a5cb8" stroke-width="0.15" text-anchor="middle" >10%</text><line x1="302.80" y1="50.20" x2="405.00" y2="50.20" stroke="#7ab648" stroke-width="1" /><path d="M404.4 45L415.6 50.2L404.4 55.4Z" fill="#7ab648" stroke="none" stroke-width="1" /><line x1="303.60" y1="95.50" x2="405.00" y2="95.50" stroke="#4a5cb8" stroke-width="1" /><path d="M404.4 90.3L415.6 95.5L404.4 100.7Z" fill="#4a5cb8" stroke="none" stroke-width="1" /><text x="326.70" y="31.80" font-size="9.9" fill="#7ab648" stroke="#7ab648" stroke-width="0.15" text-anchor="start" >Progenitor</text><text x="326.70" y="43.60" font-size="9.9" fill="#7ab648" stroke="#7ab648" stroke-width="0.15" text-anchor="start" >(CD34+CD38+)</text><text x="326.70" y="77.40" font-size="9.9" fill="#4a5cb8" stroke="#4a5cb8" stroke-width="0.15" text-anchor="start" >Stem</text><text x="326.70" y="89.60" font-size="9.9" fill="#4a5cb8" stroke="#4a5cb8" stroke-width="0.15" text-anchor="start" >(CD34+CD38-)</text><rect x="423.60" y="38.50" width="87.40" height="63.60" fill="none" stroke="#333" stroke-width="1" /><circle cx="435.10" cy="53.30" r="1.35" fill="#111" stroke="none" stroke-width="1" /><text x="439.70" y="56.60" font-size="10" fill="#111" stroke="#111" stroke-width="0.15" text-anchor="start" >RNA-seq</text><circle cx="435.10" cy="71.60" r="1.35" fill="#111" stroke="none" stroke-width="1" /><text x="439.70" y="74.90" font-size="10" fill="#111" stroke="#111" stroke-width="0.15" text-anchor="start" >ATAC-seq</text><circle cx="435.10" cy="88.90" r="1.35" fill="#111" stroke="none" stroke-width="1" /><text x="439.70" y="92.20" font-size="10" fill="#111" stroke="#111" stroke-width="0.15" text-anchor="start" >Targeted-seq</text><text x="211.40" y="74.00" font-size="7.1" fill="#222" stroke="#222" stroke-width="0.15" text-anchor="middle" transform="rotate(-90 211.4 74)" dy="2.5">CD38-PE</text><text x="266.60" y="136.00" font-size="7.1" fill="#222" stroke="#222" stroke-width="0.15" text-anchor="middle" >CD34-Alexa647</text><text x="0.00" y="206.20" font-size="14" fill="#000" text-anchor="start" font-weight="bold" >c</text><text x="26.20" y="211.00" font-size="10" fill="#4a5cb8" stroke="#4a5cb8" stroke-width="0.15" text-anchor="start" >Stem</text><text x="216.00" y="211.00" font-size="10" fill="#7ab648" stroke="#7ab648" stroke-width="0.15" text-anchor="start" >Progenitor</text><text x="406.00" y="211.00" font-size="10" fill="#4a5cb8" stroke="#4a5cb8" stroke-width="0.15" text-anchor="start" >Stem</text><text x="431.60" y="211.00" font-size="10" fill="#111" stroke="#111" stroke-width="0.15" text-anchor="start" >&amp;</text><text x="441.60" y="211.00" font-size="10" fill="#7ab648" stroke="#7ab648" stroke-width="0.15" text-anchor="start" >Progenitor</text><clipPath id="cp1"><rect x="26.3" y="217.6" width="152.1" height="152.7"/></clipPath><g clip-path="url(#cp1)"><ellipse cx="53.00" cy="255.80" rx="27.50" ry="11.30" transform="rotate(4 53.00 255.80)" fill="#dedede" /><ellipse cx="51.20" cy="243.30" rx="24.00" ry="16.80" transform="rotate(-15 51.20 243.30)" fill="#7c7c7c" fill-opacity="0.64"/><ellipse cx="147.20" cy="327.70" rx="20.20" ry="31.80" transform="rotate(0 147.20 327.70)" fill="#dcc9e6" /><rect x="31.40" y="223.00" width="4.00" height="4.00" fill="#c8583a" stroke="none" stroke-width="1" /><rect x="65.30" y="261.60" width="4.00" height="4.00" fill="#c8583a" stroke="none" stroke-width="1" /><rect x="105.50" y="259.70" width="4.00" height="4.00" fill="#c8583a" stroke="none" stroke-width="1" /><rect x="110.50" y="269.70" width="4.00" height="4.00" fill="#c8583a" stroke="none" stroke-width="1" /><rect x="148.80" y="268.90" width="4.00" height="4.00" fill="#c8583a" stroke="none" stroke-width="1" /><rect x="159.90" y="290.20" width="4.00" height="4.00" fill="#c8583a" stroke="none" stroke-width="1" /><rect x="59.80" y="297.60" width="4.00" height="4.00" fill="#c8583a" stroke="none" stroke-width="1" /><rect x="75.00" y="305.20" width="4.00" height="4.00" fill="#c8583a" stroke="none" stroke-width="1" /><rect x="74.20" y="316.20" width="4.00" height="4.00" fill="#c8583a" stroke="none" stroke-width="1" /><rect x="165.10" y="313.90" width="4.00" height="4.00" fill="#c8583a" stroke="none" stroke-width="1" /><rect x="169.80" y="317.30" width="4.00" height="4.00" fill="#c8583a" stroke="none" stroke-width="1" /><rect x="123.90" y="342.20" width="4.00" height="4.00" fill="#c8583a" stroke="none" stroke-width="1" /><rect x="108.40" y="347.20" width="4.00" height="4.00" fill="#c8583a" stroke="none" stroke-width="1" /><rect x="166.40" y="337.80" width="4.00" height="4.00" fill="#c8583a" stroke="none" stroke-width="1" /><rect x="155.40" y="348.60" width="4.00" height="4.00" fill="#c8583a" stroke="none" stroke-width="1" /><path d="M81.20 225.70L84.10 228.60L81.20 231.50L78.30 228.60Z" fill="#d4b12b" stroke="none" stroke-width="1" /><path d="M41.80 261.20L44.70 264.10L41.80 267.00L38.90 264.10Z" fill="#d4b12b" stroke="none" stroke-width="1" /><path d="M56.80 262.30L59.70 265.20L56.80 268.10L53.90 265.20Z" fill="#d4b12b" stroke="none" stroke-width="1" /><path d="M136.40 263.80L139.30 266.70L136.40 269.60L133.50 266.70Z" fill="#d4b12b" stroke="none" stroke-width="1" /><path d="M38.90 281.70L41.80 284.60L38.90 287.50L36.00 284.60Z" fill="#d4b12b" stroke="none" stroke-width="1" /><path d="M58.90 282.80L61.80 285.70L58.90 288.60L56.00 285.70Z" fill="#d4b12b" stroke="none" stroke-width="1" /><path d="M80.20 277.80L83.10 280.70L80.20 283.60L77.30 280.70Z" fill="#d4b12b" stroke="none" stroke-width="1" /><path d="M90.40 285.90L93.30 288.80L90.40 291.70L87.50 288.80Z" fill="#d4b12b" stroke="none" stroke-width="1" /><path d="M128.80 279.90L131.70 282.80L128.80 285.70L125.90 282.80Z" fill="#d4b12b" stroke="none" stroke-width="1" /><path d="M118.20 295.60L121.10 298.50L118.20 301.40L115.30 298.50Z" fill="#d4b12b" stroke="none" stroke-width="1" /><path d="M131.60 305.90L134.50 308.80L131.60 311.70L128.70 308.80Z" fill="#d4b12b" stroke="none" stroke-width="1" /><path d="M108.00 319.50L110.90 322.40L108.00 325.30L105.10 322.40Z" fill="#d4b12b" stroke="none" stroke-width="1" /><path d="M132.40 360.50L135.30 363.40L132.40 366.30L129.50 363.40Z" fill="#d4b12b" stroke="none" stroke-width="1" /><circle cx="43.60" cy="238.90" r="2.30" fill="#000" stroke="none" stroke-width="1" /><circle cx="55.50" cy="234.20" r="2.30" fill="#000" stroke="none" stroke-width="1" /><circle cx="66.20" cy="243.60" r="2.30" fill="#000" stroke="none" stroke-width="1" /><circle cx="37.10" cy="248.10" r="2.30" fill="#000" stroke="none" stroke-width="1" /><path d="M33.10 257.01L36.00 252.44L30.20 252.44Z" fill="#808080" stroke="none" stroke-width="1" /><path d="M69.90 259.61L72.80 255.04L67.00 255.04Z" fill="#808080" stroke="none" stroke-width="1" /><path d="M144.50 301.60L147.50 306.32L141.50 306.32Z" fill="#6a2c91" stroke="none" stroke-width="1" /><path d="M145.80 324.20L148.80 328.92L142.80 328.92Z" fill="#6a2c91" stroke="none" stroke-width="1" /><path d="M157.90 329.20L160.90 333.92L154.90 333.92Z" fill="#6a2c91" stroke="none" stroke-width="1" /><path d="M145.60 345.00L148.60 349.72L142.60 349.72Z" fill="#6a2c91" stroke="none" stroke-width="1" /></g><rect x="26.30" y="217.60" width="152.10" height="152.70" fill="none" stroke="#777" stroke-width="0.9" /><line x1="41.50" y1="370.30" x2="41.50" y2="373.10" stroke="#333" stroke-width="0.8" /><text x="41.50" y="381.20" font-size="7.5" fill="#222" stroke="#222" stroke-width="0.15" text-anchor="middle" >−2</text><line x1="71.50" y1="370.30" x2="71.50" y2="373.10" stroke="#333" stroke-width="0.8" /><text x="71.50" y="381.20" font-size="7.5" fill="#222" stroke="#222" stroke-width="0.15" text-anchor="middle" >−1</text><line x1="101.40" y1="370.30" x2="101.40" y2="373.10" stroke="#333" stroke-width="0.8" /><text x="101.40" y="381.20" font-size="7.5" fill="#222" stroke="#222" stroke-width="0.15" text-anchor="middle" >0</text><line x1="131.40" y1="370.30" x2="131.40" y2="373.10" stroke="#333" stroke-width="0.8" /><text x="131.40" y="381.20" font-size="7.5" fill="#222" stroke="#222" stroke-width="0.15" text-anchor="middle" >1</text><line x1="161.30" y1="370.30" x2="161.30" y2="373.10" stroke="#333" stroke-width="0.8" /><text x="161.30" y="381.20" font-size="7.5" fill="#222" stroke="#222" stroke-width="0.15" text-anchor="middle" >2</text><line x1="23.50" y1="253.30" x2="26.30" y2="253.30" stroke="#333" stroke-width="0.8" /><text x="21.80" y="256.00" font-size="7.5" fill="#222" stroke="#222" stroke-width="0.15" text-anchor="end" >1</text><line x1="23.50" y1="291.20" x2="26.30" y2="291.20" stroke="#333" stroke-width="0.8" /><text x="21.80" y="293.90" font-size="7.5" fill="#222" stroke="#222" stroke-width="0.15" text-anchor="end" >0</text><line x1="23.50" y1="328.70" x2="26.30" y2="328.70" stroke="#333" stroke-width="0.8" /><text x="21.80" y="331.40" font-size="7.5" fill="#222" stroke="#222" stroke-width="0.15" text-anchor="end" >−1</text><line x1="23.50" y1="366.30" x2="26.30" y2="366.30" stroke="#333" stroke-width="0.8" /><text x="21.80" y="369.00" font-size="7.5" fill="#222" stroke="#222" stroke-width="0.15" text-anchor="end" >−2</text><text x="102.40" y="394.00" font-size="8.6" fill="#222" stroke="#222" stroke-width="0.15" text-anchor="middle" >UMAP1</text><text x="9.20" y="294.10" font-size="8.6" fill="#222" stroke="#222" stroke-width="0.15" text-anchor="middle" transform="rotate(-90 9.2 294.1)" dy="3">UMAP2</text><clipPath id="cp2"><rect x="215.7" y="217.6" width="153" height="152.7"/></clipPath><g clip-path="url(#cp2)"><ellipse cx="264.50" cy="309.00" rx="79.00" ry="34.00" transform="rotate(-51 264.50 309.00)" fill="#f0dcec" /><ellipse cx="307.40" cy="302.00" rx="12.60" ry="21.00" transform="rotate(0 307.40 302.00)" fill="#e8e4ee" fill-opacity="0.85"/><ellipse cx="334.50" cy="319.50" rx="20.50" ry="25.00" transform="rotate(25 334.50 319.50)" fill="#dcdcdc" /><rect x="346.70" y="223.50" width="4.00" height="4.00" fill="#f7a481" stroke="none" stroke-width="1" /><rect x="353.00" y="230.30" width="4.00" height="4.00" fill="#f7a481" stroke="none" stroke-width="1" /><rect x="360.10" y="242.90" width="4.00" height="4.00" fill="#f7a481" stroke="none" stroke-width="1" /><rect x="252.90" y="239.00" width="4.00" height="4.00" fill="#f7a481" stroke="none" stroke-width="1" /><rect x="275.80" y="241.10" width="4.00" height="4.00" fill="#f7a481" stroke="none" stroke-width="1" /><rect x="294.40" y="236.90" width="4.00" height="4.00" fill="#f7a481" stroke="none" stroke-width="1" /><rect x="324.90" y="238.20" width="4.00" height="4.00" fill="#f7a481" stroke="none" stroke-width="1" /><rect x="318.80" y="251.90" width="4.00" height="4.00" fill="#f7a481" stroke="none" stroke-width="1" /><rect x="354.30" y="266.30" width="4.00" height="4.00" fill="#f7a481" stroke="none" stroke-width="1" /><rect x="236.60" y="283.90" width="4.00" height="4.00" fill="#f7a481" stroke="none" stroke-width="1" /><rect x="226.40" y="298.10" width="4.00" height="4.00" fill="#f7a481" stroke="none" stroke-width="1" /><rect x="256.00" y="297.10" width="4.00" height="4.00" fill="#f7a481" stroke="none" stroke-width="1" /><rect x="258.90" y="328.10" width="4.00" height="4.00" fill="#f7a481" stroke="none" stroke-width="1" /><rect x="239.00" y="342.80" width="4.00" height="4.00" fill="#f7a481" stroke="none" stroke-width="1" /><rect x="250.50" y="344.60" width="4.00" height="4.00" fill="#f7a481" stroke="none" stroke-width="1" /><path d="M268.00 222.10L270.90 225.00L268.00 227.90L265.10 225.00Z" fill="#efd98a" stroke="none" stroke-width="1" /><path d="M270.10 245.20L273.00 248.10L270.10 251.00L267.20 248.10Z" fill="#efd98a" stroke="none" stroke-width="1" /><path d="M346.60 246.80L349.50 249.70L346.60 252.60L343.70 249.70Z" fill="#efd98a" stroke="none" stroke-width="1" /><path d="M341.60 262.30L344.50 265.20L341.60 268.10L338.70 265.20Z" fill="#efd98a" stroke="none" stroke-width="1" /><path d="M252.80 277.00L255.70 279.90L252.80 282.80L249.90 279.90Z" fill="#efd98a" stroke="none" stroke-width="1" /><path d="M276.70 273.00L279.60 275.90L276.70 278.80L273.80 275.90Z" fill="#efd98a" stroke="none" stroke-width="1" /><path d="M294.00 274.30L296.90 277.20L294.00 280.10L291.10 277.20Z" fill="#efd98a" stroke="none" stroke-width="1" /><path d="M326.10 273.00L329.00 275.90L326.10 278.80L323.20 275.90Z" fill="#efd98a" stroke="none" stroke-width="1" /><path d="M342.10 283.00L345.00 285.90L342.10 288.80L339.20 285.90Z" fill="#efd98a" stroke="none" stroke-width="1" /><path d="M241.80 305.60L244.70 308.50L241.80 311.40L238.90 308.50Z" fill="#efd98a" stroke="none" stroke-width="1" /><path d="M287.50 305.10L290.40 308.00L287.50 310.90L284.60 308.00Z" fill="#efd98a" stroke="none" stroke-width="1" /><path d="M290.10 337.70L293.00 340.60L290.10 343.50L287.20 340.60Z" fill="#efd98a" stroke="none" stroke-width="1" /><path d="M324.50 340.30L327.40 343.20L324.50 346.10L321.60 343.20Z" fill="#efd98a" stroke="none" stroke-width="1" /><circle cx="344.50" cy="307.50" r="2.30" fill="#8a8a8a" stroke="none" stroke-width="1" /><circle cx="325.30" cy="318.00" r="2.30" fill="#8a8a8a" stroke="none" stroke-width="1" /><circle cx="340.80" cy="328.00" r="2.30" fill="#8a8a8a" stroke="none" stroke-width="1" /><circle cx="323.50" cy="331.60" r="2.30" fill="#8a8a8a" stroke="none" stroke-width="1" /><path d="M307.40 293.01L310.30 288.44L304.50 288.44Z" fill="#b4b4b4" stroke="none" stroke-width="1" /><path d="M308.00 315.81L310.90 311.24L305.10 311.24Z" fill="#b4b4b4" stroke="none" stroke-width="1" /><path d="M305.90 255.30L308.90 260.02L302.90 260.02Z" fill="#bb82c8" stroke="none" stroke-width="1" /><path d="M225.50 320.80L228.50 325.52L222.50 325.52Z" fill="#bb82c8" stroke="none" stroke-width="1" /><path d="M222.60 342.60L225.60 347.32L219.60 347.32Z" fill="#bb82c8" stroke="none" stroke-width="1" /><path d="M250.40 360.50L253.40 365.22L247.40 365.22Z" fill="#bb82c8" stroke="none" stroke-width="1" /></g><rect x="215.70" y="217.60" width="153.00" height="152.70" fill="none" stroke="#777" stroke-width="0.9" /><line x1="227.60" y1="370.30" x2="227.60" y2="373.10" stroke="#333" stroke-width="0.8" /><text x="227.60" y="381.20" font-size="7.5" fill="#222" stroke="#222" stroke-width="0.15" text-anchor="middle" >−2</text><line x1="260.90" y1="370.30" x2="260.90" y2="373.10" stroke="#333" stroke-width="0.8" /><text x="260.90" y="381.20" font-size="7.5" fill="#222" stroke="#222" stroke-width="0.15" text-anchor="middle" >−1</text><line x1="294.60" y1="370.30" x2="294.60" y2="373.10" stroke="#333" stroke-width="0.8" /><text x="294.60" y="381.20" font-size="7.5" fill="#222" stroke="#222" stroke-width="0.15" text-anchor="middle" >0</text><line x1="328.20" y1="370.30" x2="328.20" y2="373.10" stroke="#333" stroke-width="0.8" /><text x="328.20" y="381.20" font-size="7.5" fill="#222" stroke="#222" stroke-width="0.15" text-anchor="middle" >1</text><line x1="362.10" y1="370.30" x2="362.10" y2="373.10" stroke="#333" stroke-width="0.8" /><text x="362.10" y="381.20" font-size="7.5" fill="#222" stroke="#222" stroke-width="0.15" text-anchor="middle" >2</text><line x1="212.90" y1="247.30" x2="215.70" y2="247.30" stroke="#333" stroke-width="0.8" /><text x="212.30" y="250.00" font-size="7.5" fill="#222" stroke="#222" stroke-width="0.15" text-anchor="end" >1</text><line x1="212.90" y1="288.30" x2="215.70" y2="288.30" stroke="#333" stroke-width="0.8" /><text x="212.30" y="291.00" font-size="7.5" fill="#222" stroke="#222" stroke-width="0.15" text-anchor="end" >0</text><line x1="212.90" y1="329.30" x2="215.70" y2="329.30" stroke="#333" stroke-width="0.8" /><text x="212.30" y="332.00" font-size="7.5" fill="#222" stroke="#222" stroke-width="0.15" text-anchor="end" >−1</text><text x="294.00" y="394.00" font-size="8.6" fill="#222" stroke="#222" stroke-width="0.15" text-anchor="middle" >UMAP1</text><text x="201.60" y="294.50" font-size="8.6" fill="#222" stroke="#222" stroke-width="0.15" text-anchor="middle" transform="rotate(-90 201.6 294.5)" dy="3">UMAP2</text><clipPath id="cp3"><rect x="405.5" y="218" width="153" height="152.4"/></clipPath><g clip-path="url(#cp3)"><ellipse cx="478.00" cy="343.00" rx="54.00" ry="20.00" transform="rotate(-24 478.00 343.00)" fill="#f0dcec" /><ellipse cx="505.50" cy="312.30" rx="16.50" ry="31.00" transform="rotate(-29 505.50 312.30)" fill="#d6c6e4" fill-opacity="0.9"/><ellipse cx="417.30" cy="329.60" rx="12.30" ry="13.30" transform="rotate(0 417.30 329.60)" fill="#dedede" /><ellipse cx="441.60" cy="326.90" rx="11.50" ry="12.50" transform="rotate(0 441.60 326.90)" fill="#ececec" /><ellipse cx="551.00" cy="239.00" rx="14.50" ry="20.00" transform="rotate(-15 551.00 239.00)" fill="#e2e2e2" /><ellipse cx="538.00" cy="235.50" rx="18.50" ry="17.00" transform="rotate(0 538.00 235.50)" fill="#8a8a8a" fill-opacity="0.45"/><line x1="528.50" y1="239.50" x2="420.50" y2="328.30" stroke="#555" stroke-width="0.65" stroke-opacity="0.9"/><line x1="538.80" y1="234.70" x2="413.50" y2="335.60" stroke="#555" stroke-width="0.65" stroke-opacity="0.9"/><line x1="542.00" y1="224.60" x2="412.50" y2="328.50" stroke="#555" stroke-width="0.65" stroke-opacity="0.9"/><line x1="542.00" y1="239.50" x2="418.00" y2="324.40" stroke="#555" stroke-width="0.65" stroke-opacity="0.9"/><line x1="544.50" y1="248.80" x2="436.80" y2="324.80" stroke="#aaa" stroke-width="0.65" stroke-opacity="0.9"/><line x1="551.80" y1="228.70" x2="446.50" y2="331.00" stroke="#aaa" stroke-width="0.65" stroke-opacity="0.9"/><line x1="455.50" y1="323.80" x2="421.90" y2="346.00" stroke="#e2cc6a" stroke-width="0.65" stroke-opacity="0.9"/><line x1="470.30" y1="306.30" x2="424.00" y2="353.60" stroke="#e2cc6a" stroke-width="0.65" stroke-opacity="0.9"/><line x1="524.10" y1="231.90" x2="413.20" y2="311.90" stroke="#e2cc6a" stroke-width="0.65" stroke-opacity="0.9"/><line x1="517.60" y1="266.90" x2="433.30" y2="337.30" stroke="#e2cc6a" stroke-width="0.65" stroke-opacity="0.9"/><line x1="523.10" y1="249.30" x2="469.30" y2="278.30" stroke="#e2cc6a" stroke-width="0.65" stroke-opacity="0.9"/><line x1="514.80" y1="290.00" x2="449.50" y2="334.50" stroke="#e2cc6a" stroke-width="0.65" stroke-opacity="0.9"/><line x1="523.30" y1="272.40" x2="447.20" y2="318.30" stroke="#e2cc6a" stroke-width="0.65" stroke-opacity="0.9"/><line x1="533.10" y1="243.60" x2="435.40" y2="343.20" stroke="#e2cc6a" stroke-width="0.65" stroke-opacity="0.9"/><line x1="522.40" y1="302.20" x2="458.30" y2="351.60" stroke="#e2cc6a" stroke-width="0.65" stroke-opacity="0.9"/><line x1="545.00" y1="227.30" x2="468.70" y2="335.20" stroke="#e2cc6a" stroke-width="0.65" stroke-opacity="0.9"/><line x1="545.00" y1="236.80" x2="468.70" y2="346.00" stroke="#e2cc6a" stroke-width="0.65" stroke-opacity="0.9"/><line x1="539.80" y1="259.50" x2="481.80" y2="310.60" stroke="#e2cc6a" stroke-width="0.65" stroke-opacity="0.9"/><line x1="534.60" y1="298.80" x2="516.50" y2="322.70" stroke="#e2cc6a" stroke-width="0.65" stroke-opacity="0.9"/><line x1="474.40" y1="290.70" x2="433.70" y2="356.00" stroke="#e09a7a" stroke-width="0.65" stroke-opacity="0.9"/><line x1="483.00" y1="271.00" x2="423.90" y2="361.50" stroke="#e09a7a" stroke-width="0.65" stroke-opacity="0.9"/><line x1="495.10" y1="283.90" x2="446.20" y2="362.20" stroke="#e09a7a" stroke-width="0.65" stroke-opacity="0.9"/><line x1="504.80" y1="247.40" x2="427.30" y2="363.80" stroke="#e09a7a" stroke-width="0.65" stroke-opacity="0.9"/><line x1="508.10" y1="242.20" x2="467.30" y2="324.80" stroke="#e09a7a" stroke-width="0.65" stroke-opacity="0.9"/><line x1="509.50" y1="257.20" x2="449.50" y2="356.00" stroke="#e09a7a" stroke-width="0.65" stroke-opacity="0.9"/><line x1="505.10" y1="276.00" x2="462.40" y2="341.00" stroke="#e09a7a" stroke-width="0.65" stroke-opacity="0.9"/><line x1="506.50" y1="281.20" x2="454.10" y2="348.40" stroke="#e09a7a" stroke-width="0.65" stroke-opacity="0.9"/><line x1="502.00" y1="300.20" x2="498.80" y2="317.40" stroke="#e09a7a" stroke-width="0.65" stroke-opacity="0.9"/><line x1="506.10" y1="289.90" x2="493.60" y2="281.80" stroke="#e09a7a" stroke-width="0.65" stroke-opacity="0.9"/><line x1="519.90" y1="237.00" x2="504.70" y2="321.30" stroke="#e09a7a" stroke-width="0.65" stroke-opacity="0.9"/><line x1="528.00" y1="262.60" x2="471.00" y2="337.70" stroke="#e09a7a" stroke-width="0.65" stroke-opacity="0.9"/><line x1="531.90" y1="281.20" x2="521.70" y2="333.10" stroke="#e09a7a" stroke-width="0.65" stroke-opacity="0.9"/><line x1="530.60" y1="288.50" x2="509.80" y2="333.80" stroke="#e09a7a" stroke-width="0.65" stroke-opacity="0.9"/><line x1="551.30" y1="257.20" x2="545.90" y2="274.60" stroke="#e09a7a" stroke-width="0.65" stroke-opacity="0.9"/><line x1="494.70" y1="291.40" x2="511.30" y2="326.20" stroke="#9060a8" stroke-width="0.65" stroke-opacity="0.9"/><line x1="507.90" y1="307.20" x2="440.20" y2="356.70" stroke="#9060a8" stroke-width="0.65" stroke-opacity="0.9"/><line x1="509.50" y1="330.00" x2="492.50" y2="330.00" stroke="#9060a8" stroke-width="0.65" stroke-opacity="0.9"/><line x1="517.60" y1="313.30" x2="497.00" y2="336.60" stroke="#9060a8" stroke-width="0.65" stroke-opacity="0.9"/><rect x="422.00" y="359.60" width="3.80" height="3.80" fill="#f7a481" stroke="none" stroke-width="1" /><rect x="425.40" y="361.90" width="3.80" height="3.80" fill="#f7a481" stroke="none" stroke-width="1" /><rect x="431.80" y="354.10" width="3.80" height="3.80" fill="#f7a481" stroke="none" stroke-width="1" /><rect x="444.30" y="360.30" width="3.80" height="3.80" fill="#f7a481" stroke="none" stroke-width="1" /><rect x="447.60" y="354.10" width="3.80" height="3.80" fill="#f7a481" stroke="none" stroke-width="1" /><rect x="452.20" y="346.50" width="3.80" height="3.80" fill="#f7a481" stroke="none" stroke-width="1" /><rect x="460.50" y="339.10" width="3.80" height="3.80" fill="#f7a481" stroke="none" stroke-width="1" /><rect x="465.40" y="322.90" width="3.80" height="3.80" fill="#f7a481" stroke="none" stroke-width="1" /><rect x="469.10" y="335.80" width="3.80" height="3.80" fill="#f7a481" stroke="none" stroke-width="1" /><rect x="491.70" y="279.90" width="3.80" height="3.80" fill="#f7a481" stroke="none" stroke-width="1" /><rect x="544.00" y="272.70" width="3.80" height="3.80" fill="#f7a481" stroke="none" stroke-width="1" /><rect x="496.90" y="315.50" width="3.80" height="3.80" fill="#f7a481" stroke="none" stroke-width="1" /><rect x="502.80" y="319.40" width="3.80" height="3.80" fill="#f7a481" stroke="none" stroke-width="1" /><rect x="507.90" y="331.90" width="3.80" height="3.80" fill="#f7a481" stroke="none" stroke-width="1" /><rect x="519.80" y="331.20" width="3.80" height="3.80" fill="#f7a481" stroke="none" stroke-width="1" /><path d="M413.20 309.10L416.00 311.90L413.20 314.70L410.40 311.90Z" fill="#efd98a" stroke="none" stroke-width="1" /><path d="M469.30 275.50L472.10 278.30L469.30 281.10L466.50 278.30Z" fill="#efd98a" stroke="none" stroke-width="1" /><path d="M447.20 315.50L450.00 318.30L447.20 321.10L444.40 318.30Z" fill="#efd98a" stroke="none" stroke-width="1" /><path d="M433.30 334.50L436.10 337.30L433.30 340.10L430.50 337.30Z" fill="#efd98a" stroke="none" stroke-width="1" /><path d="M435.40 340.40L438.20 343.20L435.40 346.00L432.60 343.20Z" fill="#efd98a" stroke="none" stroke-width="1" /><path d="M421.90 343.20L424.70 346.00L421.90 348.80L419.10 346.00Z" fill="#efd98a" stroke="none" stroke-width="1" /><path d="M424.00 350.80L426.80 353.60L424.00 356.40L421.20 353.60Z" fill="#efd98a" stroke="none" stroke-width="1" /><path d="M449.50 331.70L452.30 334.50L449.50 337.30L446.70 334.50Z" fill="#efd98a" stroke="none" stroke-width="1" /><path d="M458.30 348.80L461.10 351.60L458.30 354.40L455.50 351.60Z" fill="#efd98a" stroke="none" stroke-width="1" /><path d="M468.70 343.20L471.50 346.00L468.70 348.80L465.90 346.00Z" fill="#efd98a" stroke="none" stroke-width="1" /><path d="M481.80 307.80L484.60 310.60L481.80 313.40L479.00 310.60Z" fill="#efd98a" stroke="none" stroke-width="1" /><path d="M468.70 332.40L471.50 335.20L468.70 338.00L465.90 335.20Z" fill="#efd98a" stroke="none" stroke-width="1" /><path d="M516.50 319.90L519.30 322.70L516.50 325.50L513.70 322.70Z" fill="#efd98a" stroke="none" stroke-width="1" /><circle cx="418.00" cy="324.40" r="2.10" fill="#8a8a8a" stroke="none" stroke-width="1" /><circle cx="412.50" cy="328.50" r="2.10" fill="#8a8a8a" stroke="none" stroke-width="1" /><circle cx="420.50" cy="328.30" r="2.10" fill="#8a8a8a" stroke="none" stroke-width="1" /><circle cx="413.50" cy="335.60" r="2.10" fill="#8a8a8a" stroke="none" stroke-width="1" /><path d="M436.80 327.32L439.60 322.91L434.00 322.91Z" fill="#b4b4b4" stroke="none" stroke-width="1" /><path d="M446.50 333.52L449.30 329.11L443.70 329.11Z" fill="#b4b4b4" stroke="none" stroke-width="1" /><path d="M440.20 354.09L443.10 358.66L437.30 358.66Z" fill="#bb82c8" stroke="none" stroke-width="1" /><path d="M492.50 327.39L495.40 331.96L489.60 331.96Z" fill="#bb82c8" stroke="none" stroke-width="1" /><path d="M497.00 333.99L499.90 338.56L494.10 338.56Z" fill="#bb82c8" stroke="none" stroke-width="1" /><path d="M511.30 323.59L514.20 328.16L508.40 328.16Z" fill="#bb82c8" stroke="none" stroke-width="1" /><rect x="518.00" y="235.10" width="3.80" height="3.80" fill="#c8583a" stroke="none" stroke-width="1" /><rect x="506.20" y="240.30" width="3.80" height="3.80" fill="#c8583a" stroke="none" stroke-width="1" /><rect x="502.90" y="245.50" width="3.80" height="3.80" fill="#c8583a" stroke="none" stroke-width="1" /><rect x="507.60" y="255.30" width="3.80" height="3.80" fill="#c8583a" stroke="none" stroke-width="1" /><rect x="549.40" y="255.30" width="3.80" height="3.80" fill="#c8583a" stroke="none" stroke-width="1" /><rect x="526.10" y="260.70" width="3.80" height="3.80" fill="#c8583a" stroke="none" stroke-width="1" /><rect x="481.10" y="269.10" width="3.80" height="3.80" fill="#c8583a" stroke="none" stroke-width="1" /><rect x="503.20" y="274.10" width="3.80" height="3.80" fill="#c8583a" stroke="none" stroke-width="1" /><rect x="504.60" y="279.30" width="3.80" height="3.80" fill="#c8583a" stroke="none" stroke-width="1" /><rect x="530.00" y="279.30" width="3.80" height="3.80" fill="#c8583a" stroke="none" stroke-width="1" /><rect x="528.70" y="286.60" width="3.80" height="3.80" fill="#c8583a" stroke="none" stroke-width="1" /><rect x="504.20" y="288.00" width="3.80" height="3.80" fill="#c8583a" stroke="none" stroke-width="1" /><rect x="472.50" y="288.80" width="3.80" height="3.80" fill="#c8583a" stroke="none" stroke-width="1" /><rect x="500.10" y="298.30" width="3.80" height="3.80" fill="#c8583a" stroke="none" stroke-width="1" /><rect x="493.20" y="282.00" width="3.80" height="3.80" fill="#c8583a" stroke="none" stroke-width="1" /><path d="M524.10 229.10L526.90 231.90L524.10 234.70L521.30 231.90Z" fill="#d4b12b" stroke="none" stroke-width="1" /><path d="M545.00 224.50L547.80 227.30L545.00 230.10L542.20 227.30Z" fill="#d4b12b" stroke="none" stroke-width="1" /><path d="M545.00 234.00L547.80 236.80L545.00 239.60L542.20 236.80Z" fill="#d4b12b" stroke="none" stroke-width="1" /><path d="M533.10 240.80L535.90 243.60L533.10 246.40L530.30 243.60Z" fill="#d4b12b" stroke="none" stroke-width="1" /><path d="M523.10 246.50L525.90 249.30L523.10 252.10L520.30 249.30Z" fill="#d4b12b" stroke="none" stroke-width="1" /><path d="M539.80 256.70L542.60 259.50L539.80 262.30L537.00 259.50Z" fill="#d4b12b" stroke="none" stroke-width="1" /><path d="M517.60 264.10L520.40 266.90L517.60 269.70L514.80 266.90Z" fill="#d4b12b" stroke="none" stroke-width="1" /><path d="M523.30 269.60L526.10 272.40L523.30 275.20L520.50 272.40Z" fill="#d4b12b" stroke="none" stroke-width="1" /><path d="M514.80 287.20L517.60 290.00L514.80 292.80L512.00 290.00Z" fill="#d4b12b" stroke="none" stroke-width="1" /><path d="M534.60 296.00L537.40 298.80L534.60 301.60L531.80 298.80Z" fill="#d4b12b" stroke="none" stroke-width="1" /><path d="M522.40 299.40L525.20 302.20L522.40 305.00L519.60 302.20Z" fill="#d4b12b" stroke="none" stroke-width="1" /><path d="M470.30 303.50L473.10 306.30L470.30 309.10L467.50 306.30Z" fill="#d4b12b" stroke="none" stroke-width="1" /><path d="M455.50 321.00L458.30 323.80L455.50 326.60L452.70 323.80Z" fill="#d4b12b" stroke="none" stroke-width="1" /><circle cx="542.00" cy="224.60" r="2.10" fill="#000" stroke="none" stroke-width="1" /><circle cx="538.80" cy="234.70" r="2.10" fill="#000" stroke="none" stroke-width="1" /><circle cx="528.50" cy="239.50" r="2.10" fill="#000" stroke="none" stroke-width="1" /><circle cx="542.00" cy="239.50" r="2.10" fill="#000" stroke="none" stroke-width="1" /><path d="M551.80 231.22L554.60 226.81L549.00 226.81Z" fill="#808080" stroke="none" stroke-width="1" /><path d="M544.50 251.32L547.30 246.91L541.70 246.91Z" fill="#808080" stroke="none" stroke-width="1" /><path d="M494.70 288.79L497.60 293.36L491.80 293.36Z" fill="#6a2c91" stroke="none" stroke-width="1" /><path d="M507.90 304.59L510.80 309.16L505.00 309.16Z" fill="#6a2c91" stroke="none" stroke-width="1" /><path d="M517.60 310.69L520.50 315.26L514.70 315.26Z" fill="#6a2c91" stroke="none" stroke-width="1" /><path d="M509.50 327.39L512.40 331.96L506.60 331.96Z" fill="#6a2c91" stroke="none" stroke-width="1" /></g><rect x="405.50" y="218.00" width="153.00" height="152.40" fill="none" stroke="#777" stroke-width="0.9" /><line x1="430.50" y1="370.40" x2="430.50" y2="373.20" stroke="#333" stroke-width="0.8" /><text x="430.50" y="381.30" font-size="7.5" fill="#222" stroke="#222" stroke-width="0.15" text-anchor="middle" >−2</text><line x1="459.60" y1="370.40" x2="459.60" y2="373.20" stroke="#333" stroke-width="0.8" /><text x="459.60" y="381.30" font-size="7.5" fill="#222" stroke="#222" stroke-width="0.15" text-anchor="middle" >−1</text><line x1="489.00" y1="370.40" x2="489.00" y2="373.20" stroke="#333" stroke-width="0.8" /><text x="489.00" y="381.30" font-size="7.5" fill="#222" stroke="#222" stroke-width="0.15" text-anchor="middle" >0</text><line x1="518.10" y1="370.40" x2="518.10" y2="373.20" stroke="#333" stroke-width="0.8" /><text x="518.10" y="381.30" font-size="7.5" fill="#222" stroke="#222" stroke-width="0.15" text-anchor="middle" >1</text><line x1="547.50" y1="370.40" x2="547.50" y2="373.20" stroke="#333" stroke-width="0.8" /><text x="547.50" y="381.30" font-size="7.5" fill="#222" stroke="#222" stroke-width="0.15" text-anchor="middle" >2</text><line x1="402.70" y1="218.30" x2="405.50" y2="218.30" stroke="#333" stroke-width="0.8" /><text x="401.90" y="221.00" font-size="7.5" fill="#222" stroke="#222" stroke-width="0.15" text-anchor="end" >3</text><line x1="402.70" y1="245.80" x2="405.50" y2="245.80" stroke="#333" stroke-width="0.8" /><text x="401.90" y="248.50" font-size="7.5" fill="#222" stroke="#222" stroke-width="0.15" text-anchor="end" >2</text><line x1="402.70" y1="273.50" x2="405.50" y2="273.50" stroke="#333" stroke-width="0.8" /><text x="401.90" y="276.20" font-size="7.5" fill="#222" stroke="#222" stroke-width="0.15" text-anchor="end" >1</text><line x1="402.70" y1="301.00" x2="405.50" y2="301.00" stroke="#333" stroke-width="0.8" /><text x="401.90" y="303.70" font-size="7.5" fill="#222" stroke="#222" stroke-width="0.15" text-anchor="end" >0</text><line x1="402.70" y1="328.70" x2="405.50" y2="328.70" stroke="#333" stroke-width="0.8" /><text x="401.90" y="331.40" font-size="7.5" fill="#222" stroke="#222" stroke-width="0.15" text-anchor="end" >−1</text><line x1="402.70" y1="356.40" x2="405.50" y2="356.40" stroke="#333" stroke-width="0.8" /><text x="401.90" y="359.10" font-size="7.5" fill="#222" stroke="#222" stroke-width="0.15" text-anchor="end" >−2</text><text x="482.30" y="394.00" font-size="8.6" fill="#222" stroke="#222" stroke-width="0.15" text-anchor="middle" >UMAP1</text><text x="389.60" y="294.30" font-size="8.6" fill="#222" stroke="#222" stroke-width="0.15" text-anchor="middle" transform="rotate(-90 389.6 294.3)" dy="3">UMAP2</text><circle cx="569.20" cy="239.10" r="2.20" fill="#222" stroke="none" stroke-width="1" /><text x="577.40" y="242.30" font-size="9.9" fill="#111" stroke="#111" stroke-width="0.15" text-anchor="start" >Normal_stem</text><path d="M569.20 252.11L572.10 247.54L566.30 247.54Z" fill="#808080" stroke="none" stroke-width="1" /><text x="577.40" y="252.70" font-size="9.9" fill="#111" stroke="#111" stroke-width="0.15" text-anchor="start" >ICUS/CCUS_stem</text><path d="M569.20 257.20L572.00 260.00L569.20 262.80L566.40 260.00Z" fill="#d4b12b" stroke="none" stroke-width="1" /><text x="577.40" y="263.20" font-size="9.9" fill="#111" stroke="#111" stroke-width="0.15" text-anchor="start" >MDS−MLD_stem</text><rect x="567.20" y="268.00" width="4.00" height="4.00" fill="#c8583a" stroke="none" stroke-width="1" /><text x="577.40" y="273.20" font-size="9.9" fill="#111" stroke="#111" stroke-width="0.15" text-anchor="start" >MDS−EB_stem</text><path d="M569.20 277.89L572.10 282.46L566.30 282.46Z" fill="#6a2c91" stroke="none" stroke-width="1" /><text x="577.40" y="283.70" font-size="9.9" fill="#111" stroke="#111" stroke-width="0.15" text-anchor="start" >AML-MRC_stem</text><circle cx="569.20" cy="304.80" r="2.20" fill="#aaa" stroke="none" stroke-width="1" /><text x="577.40" y="308.00" font-size="9.9" fill="#111" stroke="#111" stroke-width="0.15" text-anchor="start" >Normal_pro</text><path d="M569.20 317.61L572.10 313.04L566.30 313.04Z" fill="#c8c8c8" stroke="none" stroke-width="1" /><text x="577.40" y="318.20" font-size="9.9" fill="#111" stroke="#111" stroke-width="0.15" text-anchor="start" >ICUS/CCUS_pro</text><path d="M569.20 322.70L572.00 325.50L569.20 328.30L566.40 325.50Z" fill="#efd98a" stroke="none" stroke-width="1" /><text x="577.40" y="328.70" font-size="9.9" fill="#111" stroke="#111" stroke-width="0.15" text-anchor="start" >MDS−MLD_pro</text><rect x="567.20" y="333.70" width="4.00" height="4.00" fill="#f7a481" stroke="none" stroke-width="1" /><text x="577.40" y="338.90" font-size="9.9" fill="#111" stroke="#111" stroke-width="0.15" text-anchor="start" >MDS−EB_pro</text><path d="M569.20 343.39L572.10 347.96L566.30 347.96Z" fill="#bb82c8" stroke="none" stroke-width="1" /><text x="577.40" y="349.20" font-size="9.9" fill="#111" stroke="#111" stroke-width="0.15" text-anchor="start" >AML-MRC_pro</text><text x="0.00" y="421.60" font-size="14" fill="#000" text-anchor="start" font-weight="bold" >d</text><text x="20.30" y="425.90" font-size="9.9" fill="#4a5cb8" stroke="#4a5cb8" stroke-width="0.15" text-anchor="start" >Stem cells</text><rect x="19.90" y="430.80" width="358.20" height="155.40" fill="none" stroke="#8c90d2" stroke-width="1.2" /><text x="20.40" y="615.40" font-size="9.8" fill="#7ab648" stroke="#7ab648" stroke-width="0.15" text-anchor="start" >Progenitor cells</text><rect x="19.90" y="620.60" width="358.20" height="154.60" fill="none" stroke="#92c468" stroke-width="1.2" /><text x="161.60" y="445.20" font-size="9.7" fill="#111" stroke="#111" stroke-width="0.15" text-anchor="start" >Normal</text><line x1="197.50" y1="441.90" x2="205.00" y2="441.90" stroke="#111" stroke-width="1" /><path d="M204 438.90L208.6 441.90L204 444.90Z" fill="#111" stroke="none" stroke-width="1" /><text x="212.80" y="445.20" font-size="9.9" fill="#c8603e" stroke="#c8603e" stroke-width="0.15" text-anchor="start" >Disease</text><text x="161.60" y="635.90" font-size="9.7" fill="#111" stroke="#111" stroke-width="0.15" text-anchor="start" >Normal</text><line x1="197.50" y1="632.60" x2="205.00" y2="632.60" stroke="#111" stroke-width="1" /><path d="M204 629.60L208.6 632.60L204 635.60Z" fill="#111" stroke="none" stroke-width="1" /><text x="212.80" y="635.90" font-size="9.9" fill="#c8603e" stroke="#c8603e" stroke-width="0.15" text-anchor="start" >Disease</text><text x="124.20" y="458.60" font-size="8.2" fill="#f5923e" stroke="#f5923e" stroke-width="0.15" text-anchor="middle" >Open</text><line x1="66.80" y1="464.30" x2="180.90" y2="464.30" stroke="#f5923e" stroke-width="1" /><text x="274.20" y="458.60" font-size="8.4" fill="#52b4d0" stroke="#52b4d0" stroke-width="0.15" text-anchor="middle" >Close</text><line x1="217.40" y1="464.30" x2="331.50" y2="464.30" stroke="#52b4d0" stroke-width="1" /><text x="124.20" y="649.80" font-size="8.2" fill="#f5923e" stroke="#f5923e" stroke-width="0.15" text-anchor="middle" >Open</text><line x1="66.80" y1="654.30" x2="180.90" y2="654.30" stroke="#f5923e" stroke-width="1" /><text x="274.20" y="649.80" font-size="8.4" fill="#52b4d0" stroke="#52b4d0" stroke-width="0.15" text-anchor="middle" >Close</text><line x1="217.40" y1="654.30" x2="331.50" y2="654.30" stroke="#52b4d0" stroke-width="1" /><circle cx="96.60" cy="522.80" r="28.40" fill="#bb6944" stroke="#d07850" stroke-width="0.8" fill-opacity="0.4"/><circle cx="96.00" cy="498.90" r="15.30" fill="#e2c72c" stroke="#d8b848" stroke-width="0.8" fill-opacity="0.45"/><circle cx="133.00" cy="521.30" r="47.40" fill="#460070" stroke="#7a3aa8" stroke-width="0.8" fill-opacity="0.33"/><text x="90.40" y="492.20" font-size="7" fill="#111" stroke="#111" stroke-width="0.15" text-anchor="middle" >78</text><text x="103.60" y="493.10" font-size="7" fill="#111" stroke="#111" stroke-width="0.15" text-anchor="middle" >56</text><text x="84.60" y="503.20" font-size="7" fill="#111" stroke="#111" stroke-width="0.15" text-anchor="middle" >64</text><text x="98.70" y="505.40" font-size="7" fill="#111" stroke="#111" stroke-width="0.15" text-anchor="middle" >244</text><text x="75.40" y="525.30" font-size="7" fill="#111" stroke="#111" stroke-width="0.15" text-anchor="middle" >440</text><text x="107.30" y="528.40" font-size="7" fill="#111" stroke="#111" stroke-width="0.15" text-anchor="middle" >797</text><text x="157.00" y="524.10" font-size="7" fill="#111" stroke="#111" stroke-width="0.15" text-anchor="middle" >3330</text><text x="76.00" y="481.70" font-size="8.4" fill="#d0b53a" stroke="#d0b53a" stroke-width="0.15" text-anchor="middle" >MDS-MLD</text><text x="157.00" y="475.80" font-size="8.4" fill="#6c2c8c" stroke="#6c2c8c" stroke-width="0.15" text-anchor="start" >AML-MRC</text><text x="50.60" y="544.80" font-size="8.4" fill="#c8603e" stroke="#c8603e" stroke-width="0.15" text-anchor="middle" >MDS-EB</text><circle cx="241.40" cy="524.00" r="25.30" fill="#bb6944" stroke="#d07850" stroke-width="0.8" fill-opacity="0.4"/><circle cx="243.50" cy="501.40" r="17.20" fill="#e2c72c" stroke="#d8b848" stroke-width="0.8" fill-opacity="0.45"/><circle cx="280.00" cy="523.70" r="50.90" fill="#460070" stroke="#7a3aa8" stroke-width="0.8" fill-opacity="0.33"/><text x="234.30" y="497.70" font-size="7" fill="#111" stroke="#111" stroke-width="0.15" text-anchor="middle" >78</text><text x="249.60" y="497.70" font-size="7" fill="#111" stroke="#111" stroke-width="0.15" text-anchor="middle" >147</text><text x="229.10" y="506.90" font-size="7" fill="#111" stroke="#111" stroke-width="0.15" text-anchor="middle" >45</text><text x="245.00" y="512.10" font-size="7" fill="#111" stroke="#111" stroke-width="0.15" text-anchor="middle" >310</text><text x="222.30" y="526.80" font-size="7" fill="#111" stroke="#111" stroke-width="0.15" text-anchor="middle" >273</text><text x="249.60" y="534.20" font-size="7" fill="#111" stroke="#111" stroke-width="0.15" text-anchor="middle" >607</text><text x="302.40" y="525.90" font-size="7" fill="#111" stroke="#111" stroke-width="0.15" text-anchor="middle" >3918</text><text x="223.60" y="483.80" font-size="8.4" fill="#d0b53a" stroke="#d0b53a" stroke-width="0.15" text-anchor="middle" >MDS-MLD</text><text x="315.50" y="481.40" font-size="8.4" fill="#6c2c8c" stroke="#6c2c8c" stroke-width="0.15" text-anchor="start" >AML-MRC</text><text x="211.30" y="556.50" font-size="8.4" fill="#c8603e" stroke="#c8603e" stroke-width="0.15" text-anchor="middle" >MDS-EB</text><circle cx="85.50" cy="708.90" r="25.50" fill="#f49063" stroke="#f29a70" stroke-width="0.8" fill-opacity="0.45"/><circle cx="97.80" cy="691.40" r="16.60" fill="#f5dc3c" stroke="#ecd078" stroke-width="0.8" fill-opacity="0.35"/><circle cx="128.20" cy="709.20" r="39.70" fill="#b469b4" stroke="#b070c0" stroke-width="0.8" fill-opacity="0.4"/><text x="94.30" y="681.90" font-size="7" fill="#111" stroke="#111" stroke-width="0.15" text-anchor="middle" >100</text><text x="106.00" y="688.30" font-size="7" fill="#111" stroke="#111" stroke-width="0.15" text-anchor="middle" >133</text><text x="84.40" y="693.90" font-size="7" fill="#111" stroke="#111" stroke-width="0.15" text-anchor="middle" >102</text><text x="98.10" y="700.30" font-size="7" fill="#111" stroke="#111" stroke-width="0.15" text-anchor="middle" >194</text><text x="74.20" y="715.20" font-size="7" fill="#111" stroke="#111" stroke-width="0.15" text-anchor="middle" >674</text><text x="99.90" y="718.70" font-size="7" fill="#111" stroke="#111" stroke-width="0.15" text-anchor="middle" >270</text><text x="145.10" y="713.70" font-size="7" fill="#111" stroke="#111" stroke-width="0.15" text-anchor="middle" >2438</text><text x="81.80" y="669.50" font-size="8.4" fill="#d0b53a" stroke="#d0b53a" stroke-width="0.15" text-anchor="middle" >MDS-MLD</text><text x="158.50" y="675.70" font-size="8.4" fill="#a050b0" stroke="#a050b0" stroke-width="0.15" text-anchor="start" >AML-MRC</text><text x="54.90" y="742.20" font-size="8.4" fill="#f49a6a" stroke="#f49a6a" stroke-width="0.15" text-anchor="middle" >MDS-EB</text><circle cx="258.40" cy="711.30" r="35.70" fill="#f49063" stroke="#f29a70" stroke-width="0.8" fill-opacity="0.45"/><circle cx="264.20" cy="690.40" r="19.50" fill="#f5dc3c" stroke="#ecd078" stroke-width="0.8" fill-opacity="0.35"/><circle cx="288.90" cy="711.60" r="41.90" fill="#b469b4" stroke="#b070c0" stroke-width="0.8" fill-opacity="0.4"/><text x="262.20" y="677.40" font-size="7" fill="#111" stroke="#111" stroke-width="0.15" text-anchor="middle" >55</text><text x="274.50" y="679.10" font-size="7" fill="#111" stroke="#111" stroke-width="0.15" text-anchor="middle" >24</text><text x="249.80" y="686.00" font-size="7" fill="#111" stroke="#111" stroke-width="0.15" text-anchor="middle" >113</text><text x="266.60" y="696.30" font-size="7" fill="#111" stroke="#111" stroke-width="0.15" text-anchor="middle" >521</text><text x="234.40" y="716.50" font-size="7" fill="#111" stroke="#111" stroke-width="0.15" text-anchor="middle" >866</text><text x="269.70" y="726.80" font-size="7" fill="#111" stroke="#111" stroke-width="0.15" text-anchor="middle" >947</text><text x="310.90" y="714.10" font-size="7" fill="#111" stroke="#111" stroke-width="0.15" text-anchor="middle" >1896</text><text x="235.10" y="669.00" font-size="8.4" fill="#d0b53a" stroke="#d0b53a" stroke-width="0.15" text-anchor="middle" >MDS-MLD</text><text x="324.30" y="679.00" font-size="8.4" fill="#a050b0" stroke="#a050b0" stroke-width="0.15" text-anchor="start" >AML-MRC</text><text x="220.30" y="750.00" font-size="8.4" fill="#f49a6a" stroke="#f49a6a" stroke-width="0.15" text-anchor="middle" >MDS-EB</text><text x="390.00" y="421.60" font-size="14" fill="#000" text-anchor="start" font-weight="bold" >e</text><text x="490.30" y="429.20" font-size="9.6" fill="#111" stroke="#111" stroke-width="0.15" text-anchor="start" >DARs</text><text x="521.00" y="429.20" font-size="9.6" fill="#111" stroke="#111" stroke-width="0.15" text-anchor="start" >(</text><text x="524.40" y="429.20" font-size="9.6" fill="#4a5cb8" stroke="#4a5cb8" stroke-width="0.15" text-anchor="start" >Stem</text><line x1="550.20" y1="425.90" x2="557.50" y2="425.90" stroke="#111" stroke-width="1" /><path d="M556.6 422.9L561.4 425.9L556.6 428.9Z" fill="#111" stroke="none" stroke-width="1" /><text x="564.40" y="429.20" font-size="9.6" fill="#7ab648" stroke="#7ab648" stroke-width="0.15" text-anchor="start" >Progenitor</text><text x="609.60" y="429.20" font-size="9.6" fill="#111" stroke="#111" stroke-width="0.15" text-anchor="start" >)</text><line x1="436.40" y1="547.83" x2="555.00" y2="547.83" stroke="#dcdcdc" stroke-width="0.9" /><line x1="436.40" y1="526.66" x2="555.00" y2="526.66" stroke="#dcdcdc" stroke-width="0.9" /><line x1="436.40" y1="505.49" x2="555.00" y2="505.49" stroke="#dcdcdc" stroke-width="0.9" /><line x1="436.40" y1="484.32" x2="555.00" y2="484.32" stroke="#dcdcdc" stroke-width="0.9" /><line x1="436.40" y1="463.15" x2="555.00" y2="463.15" stroke="#dcdcdc" stroke-width="0.9" /><line x1="436.40" y1="441.98" x2="555.00" y2="441.98" stroke="#dcdcdc" stroke-width="0.9" /><text x="433.30" y="571.60" font-size="7.2" fill="#222" stroke="#222" stroke-width="0.15" text-anchor="end" >0</text><text x="433.30" y="550.43" font-size="7.2" fill="#222" stroke="#222" stroke-width="0.15" text-anchor="end" >2000</text><text x="433.30" y="529.26" font-size="7.2" fill="#222" stroke="#222" stroke-width="0.15" text-anchor="end" >4000</text><text x="433.30" y="508.09" font-size="7.2" fill="#222" stroke="#222" stroke-width="0.15" text-anchor="end" >6000</text><text x="433.30" y="486.92" font-size="7.2" fill="#222" stroke="#222" stroke-width="0.15" text-anchor="end" >8000</text><text x="433.30" y="465.75" font-size="7.2" fill="#222" stroke="#222" stroke-width="0.15" text-anchor="end" >10000</text><text x="433.30" y="444.58" font-size="7.2" fill="#222" stroke="#222" stroke-width="0.15" text-anchor="end" >12000</text><rect x="441.50" y="458.39" width="9.50" height="110.61" fill="#f7913b" stroke="none" stroke-width="1" /><rect x="453.00" y="472.15" width="9.10" height="96.85" fill="#36a7c4" stroke="none" stroke-width="1" /><rect x="471.10" y="509.19" width="9.30" height="59.81" fill="#f7913b" stroke="none" stroke-width="1" /><rect x="482.30" y="528.25" width="9.20" height="40.75" fill="#36a7c4" stroke="none" stroke-width="1" /><rect x="500.80" y="536.72" width="9.00" height="32.28" fill="#f7913b" stroke="none" stroke-width="1" /><rect x="511.50" y="554.39" width="9.50" height="14.61" fill="#36a7c4" stroke="none" stroke-width="1" /><line x1="436.40" y1="569.00" x2="555.00" y2="569.00" stroke="#888" stroke-width="1" /><text x="404.40" y="505.30" font-size="8.4" fill="#222" stroke="#222" stroke-width="0.15" text-anchor="middle" transform="rotate(-90 404.4 505.3)" dy="3">DAR number</text><text x="450.20" y="575.50" font-size="9.8" fill="#222" stroke="#222" stroke-width="0.15" text-anchor="end" transform="rotate(-90 450.2 575.5)" dy="3.4">Normal</text><text x="480.00" y="575.50" font-size="9.8" fill="#d4a020" stroke="#d4a020" stroke-width="0.15" text-anchor="end" transform="rotate(-90 480 575.5)" dy="3.4">MDS-MLD</text><text x="509.00" y="575.50" font-size="9.8" fill="#d8503a" stroke="#d8503a" stroke-width="0.15" text-anchor="end" transform="rotate(-90 509 575.5)" dy="3.4">MDS-EB</text><text x="538.80" y="575.50" font-size="9.8" fill="#8a2aa8" stroke="#8a2aa8" stroke-width="0.15" text-anchor="end" transform="rotate(-90 538.8 575.5)" dy="3.4">AML-MRC</text><text x="598.70" y="575.50" font-size="9.8" fill="#d4a020" stroke="#d4a020" stroke-width="0.15" text-anchor="end" transform="rotate(-90 598.7 575.5)" dy="3.4">MDS-MLD</text><text x="628.10" y="575.50" font-size="9.8" fill="#d8503a" stroke="#d8503a" stroke-width="0.15" text-anchor="end" transform="rotate(-90 628.1 575.5)" dy="3.4">MDS-EB</text><text x="578.80" y="457.10" font-size="8.5" fill="#111" stroke="#111" stroke-width="0.15" text-anchor="start" >Randomly selected</text><text x="578.80" y="467.40" font-size="8.5" fill="#111" stroke="#111" stroke-width="0.15" text-anchor="start" >4 samples</text><text x="606.60" y="480.20" font-size="7" fill="#111" stroke="#111" stroke-width="0.15" text-anchor="middle" >4.83x10</text><text x="619.20" y="477.60" font-size="4.2" fill="#888" stroke="#888" stroke-width="0.15" text-anchor="start" >−4</text><path d="M592.5 484.4V481.6H622.6V484.4" fill="none" stroke="#222" stroke-width="0.9" /><text x="618.60" y="492.40" font-size="7" fill="#111" stroke="#111" stroke-width="0.15" text-anchor="middle" >0.0224</text><path d="M603.4 497.5V493.3H633.5V497.5" fill="none" stroke="#222" stroke-width="0.9" /><rect x="580.10" y="497.50" width="66.20" height="74.30" fill="none" stroke="#444" stroke-width="0.9" /><line x1="577.60" y1="569.00" x2="580.10" y2="569.00" stroke="#444" stroke-width="0.8" /><text x="575.50" y="571.60" font-size="7.2" fill="#222" stroke="#222" stroke-width="0.15" text-anchor="end" >0</text><line x1="577.60" y1="547.83" x2="580.10" y2="547.83" stroke="#444" stroke-width="0.8" /><text x="575.50" y="550.43" font-size="7.2" fill="#222" stroke="#222" stroke-width="0.15" text-anchor="end" >2000</text><line x1="577.60" y1="526.66" x2="580.10" y2="526.66" stroke="#444" stroke-width="0.8" /><text x="575.50" y="529.26" font-size="7.2" fill="#222" stroke="#222" stroke-width="0.15" text-anchor="end" >4000</text><line x1="577.60" y1="505.49" x2="580.10" y2="505.49" stroke="#444" stroke-width="0.8" /><text x="575.50" y="508.09" font-size="7.2" fill="#222" stroke="#222" stroke-width="0.15" text-anchor="end" >6000</text><line x1="592.50" y1="571.80" x2="592.50" y2="574.00" stroke="#444" stroke-width="0.8" /><line x1="603.80" y1="571.80" x2="603.80" y2="574.00" stroke="#444" stroke-width="0.8" /><line x1="622.60" y1="571.80" x2="622.60" y2="574.00" stroke="#444" stroke-width="0.8" /><line x1="633.50" y1="571.80" x2="633.50" y2="574.00" stroke="#444" stroke-width="0.8" /><line x1="592.65" y1="540.00" x2="592.65" y2="550.80" stroke="#f7913b" stroke-width="0.9" /><line x1="592.65" y1="566.30" x2="592.65" y2="568.60" stroke="#f7913b" stroke-width="0.9" /><rect x="588.30" y="550.80" width="8.70" height="15.50" fill="#fcd6b6" stroke="#f7913b" stroke-width="0.9" /><line x1="588.30" y1="559.20" x2="597.00" y2="559.20" stroke="#f7913b" stroke-width="0.9" /><line x1="590.30" y1="556.20" x2="594.70" y2="556.20" stroke="#111" stroke-width="0.9" /><line x1="592.50" y1="554.00" x2="592.50" y2="558.40" stroke="#111" stroke-width="0.9" /><line x1="603.80" y1="555.00" x2="603.80" y2="560.80" stroke="#36a7c4" stroke-width="0.9" /><line x1="603.80" y1="568.60" x2="603.80" y2="569.50" stroke="#36a7c4" stroke-width="0.9" /><rect x="599.20" y="560.80" width="9.20" height="7.80" fill="#bfe3ee" stroke="#36a7c4" stroke-width="0.9" /><line x1="599.20" y1="565.50" x2="608.40" y2="565.50" stroke="#36a7c4" stroke-width="0.9" /><line x1="601.60" y1="562.30" x2="606.00" y2="562.30" stroke="#111" stroke-width="0.9" /><line x1="603.80" y1="560.10" x2="603.80" y2="564.50" stroke="#111" stroke-width="0.9" /><line x1="622.50" y1="559.00" x2="622.50" y2="563.20" stroke="#f7913b" stroke-width="0.9" /><line x1="622.50" y1="569.00" x2="622.50" y2="569.50" stroke="#f7913b" stroke-width="0.9" /><rect x="618.00" y="563.20" width="9.00" height="5.80" fill="#fcd6b6" stroke="#f7913b" stroke-width="0.9" /><line x1="618.00" y1="566.50" x2="627.00" y2="566.50" stroke="#f7913b" stroke-width="0.9" /><line x1="620.40" y1="565.50" x2="624.80" y2="565.50" stroke="#111" stroke-width="0.9" /><line x1="622.60" y1="563.30" x2="622.60" y2="567.70" stroke="#111" stroke-width="0.9" /><line x1="633.45" y1="567.00" x2="633.45" y2="567.70" stroke="#36a7c4" stroke-width="0.9" /><line x1="633.45" y1="569.60" x2="633.45" y2="570.00" stroke="#36a7c4" stroke-width="0.9" /><rect x="629.00" y="567.70" width="8.90" height="1.90" fill="#bfe3ee" stroke="#36a7c4" stroke-width="0.9" /><line x1="629.00" y1="568.60" x2="637.90" y2="568.60" stroke="#36a7c4" stroke-width="0.9" /><line x1="631.30" y1="568.30" x2="635.70" y2="568.30" stroke="#111" stroke-width="0.9" /><line x1="633.50" y1="566.10" x2="633.50" y2="570.50" stroke="#111" stroke-width="0.9" /><rect x="653.40" y="519.40" width="6.40" height="6.00" fill="#f7913b" stroke="none" stroke-width="1" /><text x="663.10" y="525.80" font-size="8.7" fill="#3a3a3a" stroke="#3a3a3a" stroke-width="0.15" text-anchor="start" >Open</text><rect x="653.40" y="533.40" width="6.40" height="6.10" fill="#36a7c4" stroke="none" stroke-width="1" /><text x="663.10" y="539.80" font-size="8.7" fill="#3a3a3a" stroke="#3a3a3a" stroke-width="0.15" text-anchor="start" >Close</text>
</svg></body></html>
